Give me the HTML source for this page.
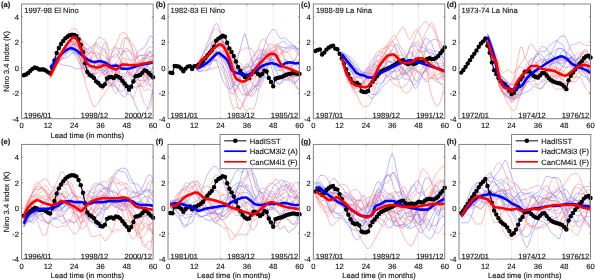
<!DOCTYPE html>
<html><head><meta charset="utf-8"><style>html,body{margin:0;padding:0;background:#fff;width:595px;height:280px;overflow:hidden}svg{display:block;will-change:transform;text-rendering:geometricPrecision}</style></head><body>
<svg width="595" height="280" viewBox="0 0 595 280">
<rect width="595" height="280" fill="#fff"/>
<clipPath id="cpa"><rect x="21.60" y="4.00" width="131.50" height="114.70"/></clipPath>
<clipPath id="cpb"><rect x="168.00" y="4.00" width="131.50" height="114.70"/></clipPath>
<clipPath id="cpc"><rect x="313.30" y="4.00" width="131.50" height="114.70"/></clipPath>
<clipPath id="cpd"><rect x="459.00" y="4.00" width="131.50" height="114.70"/></clipPath>
<clipPath id="cpe"><rect x="21.60" y="144.40" width="131.50" height="114.70"/></clipPath>
<clipPath id="cpf"><rect x="168.00" y="144.40" width="131.50" height="114.70"/></clipPath>
<clipPath id="cpg"><rect x="313.30" y="144.40" width="131.50" height="114.70"/></clipPath>
<clipPath id="cph"><rect x="459.00" y="144.40" width="131.50" height="114.70"/></clipPath>
<g clip-path="url(#cpa)"><line x1="47.90" y1="4.00" x2="47.90" y2="118.70" stroke="#e4e4e4" stroke-width="0.6"/><line x1="74.20" y1="4.00" x2="74.20" y2="118.70" stroke="#e4e4e4" stroke-width="0.6"/><line x1="100.50" y1="4.00" x2="100.50" y2="118.70" stroke="#e4e4e4" stroke-width="0.6"/><line x1="126.80" y1="4.00" x2="126.80" y2="118.70" stroke="#e4e4e4" stroke-width="0.6"/><path d="M50.09,68.20 L52.28,67.10 L54.48,65.62 L56.67,63.99 L58.86,62.00 L61.05,59.93 L63.24,57.79 L65.43,55.21 L67.62,51.81 L69.82,48.10 L72.01,45.03 L74.20,42.50 L76.39,43.24 L78.58,48.18 L80.78,50.74 L82.97,50.55 L85.16,56.03 L87.35,66.73 L89.54,72.90 L91.73,76.37 L93.93,79.95 L96.12,80.11 L98.31,77.58 L100.50,75.07 L102.69,72.84 L104.88,70.18 L107.08,69.04 L109.27,68.28 L111.46,66.44 L113.65,64.22 L115.84,63.40 L118.03,64.87 L120.22,64.71 L122.42,64.68 L124.61,67.69 L126.80,70.42 L128.99,73.14 L131.18,75.95 L133.38,77.09 L135.57,77.76 L137.76,79.95 L139.95,80.62 L142.14,79.86 L144.33,81.02 L146.53,80.67 L148.72,76.87 L150.91,70.65 L153.10,67.18" fill="none" stroke="#7d7dff" stroke-width="0.6" stroke-opacity="0.9"/><path d="M50.09,67.73 L52.28,64.79 L54.48,61.18 L56.67,58.01 L58.86,54.46 L61.05,51.05 L63.24,48.69 L65.43,47.10 L67.62,46.98 L69.82,47.42 L72.01,49.05 L74.20,51.66 L76.39,53.89 L78.58,55.10 L80.78,58.76 L82.97,65.28 L85.16,70.81 L87.35,74.78 L89.54,77.36 L91.73,78.17 L93.93,77.03 L96.12,73.73 L98.31,70.81 L100.50,70.49 L102.69,69.92 L104.88,70.74 L107.08,73.26 L109.27,77.63 L111.46,83.54 L113.65,86.20 L115.84,86.76 L118.03,88.69 L120.22,90.96 L122.42,91.27 L124.61,88.83 L126.80,85.90 L128.99,87.22 L131.18,88.80 L133.38,88.24 L135.57,86.64 L137.76,86.24 L139.95,86.27 L142.14,84.52 L144.33,81.83 L146.53,78.17 L148.72,73.85 L150.91,72.37 L153.10,72.72" fill="none" stroke="#7d7dff" stroke-width="0.6" stroke-opacity="0.9"/><path d="M50.09,66.47 L52.28,64.57 L54.48,61.80 L56.67,59.47 L58.86,56.58 L61.05,52.83 L63.24,49.55 L65.43,46.62 L67.62,43.99 L69.82,41.89 L72.01,41.91 L74.20,43.58 L76.39,45.21 L78.58,46.70 L80.78,46.54 L82.97,47.29 L85.16,49.37 L87.35,51.39 L89.54,55.23 L91.73,59.89 L93.93,62.54 L96.12,63.49 L98.31,65.13 L100.50,66.36 L102.69,68.45 L104.88,71.85 L107.08,72.75 L109.27,74.73 L111.46,77.24 L113.65,76.70 L115.84,72.28 L118.03,66.28 L120.22,63.93 L122.42,64.89 L124.61,66.65 L126.80,69.52 L128.99,74.77 L131.18,79.30 L133.38,80.08 L135.57,81.37 L137.76,79.28 L139.95,76.32 L142.14,76.83 L144.33,73.77 L146.53,66.71 L148.72,61.02 L150.91,58.10 L153.10,54.57" fill="none" stroke="#7d7dff" stroke-width="0.6" stroke-opacity="0.9"/><path d="M50.09,67.64 L52.28,65.88 L54.48,63.43 L56.67,61.03 L58.86,57.88 L61.05,54.33 L63.24,50.70 L65.43,47.79 L67.62,46.72 L69.82,45.87 L72.01,45.14 L74.20,44.25 L76.39,42.07 L78.58,41.21 L80.78,43.25 L82.97,46.30 L85.16,48.36 L87.35,49.08 L89.54,50.63 L91.73,53.01 L93.93,53.85 L96.12,51.78 L98.31,53.18 L100.50,58.32 L102.69,63.20 L104.88,68.53 L107.08,74.33 L109.27,82.84 L111.46,86.13 L113.65,81.50 L115.84,77.25 L118.03,75.91 L120.22,76.40 L122.42,80.03 L124.61,81.94 L126.80,83.26 L128.99,89.41 L131.18,94.96 L133.38,99.13 L135.57,105.46 L137.76,110.37 L139.95,113.36 L142.14,114.88 L144.33,113.83 L146.53,110.93 L148.72,105.72 L150.91,98.14 L153.10,88.43" fill="none" stroke="#7d7dff" stroke-width="0.6" stroke-opacity="0.9"/><path d="M50.09,66.84 L52.28,64.81 L54.48,62.22 L56.67,59.66 L58.86,56.43 L61.05,53.07 L63.24,50.71 L65.43,49.00 L67.62,48.31 L69.82,49.12 L72.01,51.52 L74.20,53.85 L76.39,57.03 L78.58,61.89 L80.78,65.60 L82.97,68.22 L85.16,71.20 L87.35,72.85 L89.54,72.88 L91.73,70.71 L93.93,65.39 L96.12,61.96 L98.31,63.56 L100.50,65.85 L102.69,66.55 L104.88,67.93 L107.08,69.04 L109.27,71.07 L111.46,70.92 L113.65,69.11 L115.84,69.76 L118.03,71.12 L120.22,73.34 L122.42,75.69 L124.61,80.32 L126.80,84.64 L128.99,85.97 L131.18,84.81 L133.38,78.85 L135.57,72.38 L137.76,68.15 L139.95,67.21 L142.14,67.82 L144.33,67.42 L146.53,66.65 L148.72,66.90 L150.91,70.67 L153.10,73.55" fill="none" stroke="#7d7dff" stroke-width="0.6" stroke-opacity="0.9"/><path d="M50.09,69.00 L52.28,66.77 L54.48,64.54 L56.67,63.01 L58.86,61.48 L61.05,59.94 L63.24,58.64 L65.43,58.17 L67.62,57.18 L69.82,54.58 L72.01,53.18 L74.20,53.17 L76.39,54.14 L78.58,56.45 L80.78,60.04 L82.97,65.54 L85.16,70.56 L87.35,68.87 L89.54,66.81 L91.73,67.57 L93.93,65.13 L96.12,61.95 L98.31,59.63 L100.50,58.77 L102.69,60.91 L104.88,62.02 L107.08,62.76 L109.27,63.88 L111.46,64.89 L113.65,67.82 L115.84,72.15 L118.03,75.25 L120.22,78.87 L122.42,85.17 L124.61,87.49 L126.80,87.61 L128.99,87.39 L131.18,84.49 L133.38,78.99 L135.57,73.76 L137.76,70.17 L139.95,68.36 L142.14,66.63 L144.33,60.48 L146.53,54.65 L148.72,53.14 L150.91,51.48 L153.10,51.13" fill="none" stroke="#7d7dff" stroke-width="0.6" stroke-opacity="0.9"/><path d="M50.09,67.20 L52.28,64.99 L54.48,62.40 L56.67,59.52 L58.86,57.33 L61.05,56.11 L63.24,53.73 L65.43,51.06 L67.62,49.92 L69.82,47.45 L72.01,45.73 L74.20,47.52 L76.39,50.92 L78.58,54.03 L80.78,56.38 L82.97,58.18 L85.16,63.99 L87.35,71.29 L89.54,75.36 L91.73,77.68 L93.93,75.00 L96.12,69.39 L98.31,64.30 L100.50,64.10 L102.69,63.95 L104.88,61.80 L107.08,59.36 L109.27,57.31 L111.46,54.60 L113.65,50.13 L115.84,47.68 L118.03,50.49 L120.22,54.78 L122.42,54.46 L124.61,49.82 L126.80,47.76 L128.99,50.23 L131.18,52.30 L133.38,54.98 L135.57,57.88 L137.76,56.96 L139.95,55.13 L142.14,55.53 L144.33,55.18 L146.53,55.08 L148.72,56.32 L150.91,56.50 L153.10,54.98" fill="none" stroke="#7d7dff" stroke-width="0.6" stroke-opacity="0.9"/><path d="M50.09,66.00 L52.28,62.37 L54.48,57.25 L56.67,51.35 L58.86,45.30 L61.05,40.57 L63.24,38.31 L65.43,36.76 L67.62,37.34 L69.82,39.56 L72.01,42.97 L74.20,45.14 L76.39,46.08 L78.58,48.03 L80.78,48.90 L82.97,47.95 L85.16,49.27 L87.35,49.36 L89.54,48.20 L91.73,47.21 L93.93,44.40 L96.12,42.85 L98.31,45.32 L100.50,47.95 L102.69,48.11 L104.88,48.89 L107.08,54.16 L109.27,61.43 L111.46,65.23 L113.65,66.88 L115.84,73.65 L118.03,81.25 L120.22,81.99 L122.42,80.24 L124.61,75.94 L126.80,72.48 L128.99,70.95 L131.18,69.28 L133.38,66.00 L135.57,58.91 L137.76,51.87 L139.95,49.85 L142.14,48.64 L144.33,47.23 L146.53,44.10 L148.72,38.43 L150.91,35.57 L153.10,38.45" fill="none" stroke="#7d7dff" stroke-width="0.6" stroke-opacity="0.9"/><path d="M50.09,66.23 L52.28,64.69 L54.48,62.85 L56.67,62.35 L58.86,63.10 L61.05,64.32 L63.24,65.06 L65.43,65.43 L67.62,65.69 L69.82,66.09 L72.01,66.83 L74.20,68.05 L76.39,69.31 L78.58,68.59 L80.78,68.06 L82.97,68.22 L85.16,65.81 L87.35,63.13 L89.54,64.81 L91.73,67.45 L93.93,68.31 L96.12,67.45 L98.31,66.91 L100.50,68.21 L102.69,66.48 L104.88,64.45 L107.08,62.83 L109.27,60.25 L111.46,58.20 L113.65,55.04 L115.84,53.84 L118.03,55.36 L120.22,60.14 L122.42,66.32 L124.61,69.56 L126.80,69.70 L128.99,69.35 L131.18,68.37 L133.38,69.27 L135.57,68.10 L137.76,63.34 L139.95,63.15 L142.14,65.30 L144.33,66.57 L146.53,72.56 L148.72,82.03 L150.91,87.09 L153.10,85.22" fill="none" stroke="#7d7dff" stroke-width="0.6" stroke-opacity="0.9"/><path d="M50.09,75.19 L52.28,71.06 L54.48,66.36 L56.67,62.21 L58.86,58.45 L61.05,54.87 L63.24,51.04 L65.43,48.22 L67.62,44.83 L69.82,41.08 L72.01,38.15 L74.20,36.85 L76.39,37.64 L78.58,38.89 L80.78,42.22 L82.97,46.07 L85.16,52.97 L87.35,59.84 L89.54,64.67 L91.73,68.02 L93.93,70.33 L96.12,69.83 L98.31,67.03 L100.50,63.53 L102.69,63.22 L104.88,63.94 L107.08,62.44 L109.27,59.30 L111.46,56.44 L113.65,57.25 L115.84,57.48 L118.03,55.33 L120.22,47.96 L122.42,40.79 L124.61,37.64 L126.80,38.06 L128.99,39.83 L131.18,41.51 L133.38,44.53 L135.57,49.13 L137.76,56.99 L139.95,65.74 L142.14,73.92 L144.33,79.19 L146.53,84.11 L148.72,85.55 L150.91,84.36 L153.10,80.87" fill="none" stroke="#ff7d7d" stroke-width="0.6" stroke-opacity="0.9"/><path d="M50.09,75.48 L52.28,71.61 L54.48,67.55 L56.67,63.34 L58.86,58.77 L61.05,54.19 L63.24,49.82 L65.43,46.67 L67.62,44.66 L69.82,42.71 L72.01,40.96 L74.20,40.72 L76.39,44.80 L78.58,48.51 L80.78,50.56 L82.97,50.10 L85.16,51.06 L87.35,52.72 L89.54,53.68 L91.73,50.56 L93.93,45.20 L96.12,45.13 L98.31,48.86 L100.50,50.68 L102.69,50.49 L104.88,51.20 L107.08,57.89 L109.27,64.80 L111.46,68.84 L113.65,72.53 L115.84,75.47 L118.03,73.62 L120.22,65.83 L122.42,53.51 L124.61,40.47 L126.80,37.19 L128.99,41.72 L131.18,45.08 L133.38,53.47 L135.57,65.22 L137.76,75.83 L139.95,83.15 L142.14,87.37 L144.33,90.77 L146.53,89.67 L148.72,88.54 L150.91,90.67 L153.10,90.56" fill="none" stroke="#ff7d7d" stroke-width="0.6" stroke-opacity="0.9"/><path d="M50.09,78.07 L52.28,73.54 L54.48,68.53 L56.67,63.70 L58.86,59.00 L61.05,54.60 L63.24,50.25 L65.43,47.17 L67.62,44.72 L69.82,41.61 L72.01,37.66 L74.20,35.06 L76.39,34.73 L78.58,36.58 L80.78,39.31 L82.97,41.19 L85.16,42.52 L87.35,44.23 L89.54,47.22 L91.73,48.50 L93.93,51.19 L96.12,55.31 L98.31,59.22 L100.50,62.16 L102.69,65.21 L104.88,68.34 L107.08,71.32 L109.27,72.50 L111.46,71.29 L113.65,69.83 L115.84,71.72 L118.03,77.29 L120.22,80.23 L122.42,83.31 L124.61,90.02 L126.80,93.69 L128.99,94.15 L131.18,96.74 L133.38,98.34 L135.57,92.55 L137.76,86.36 L139.95,83.90 L142.14,81.42 L144.33,76.35 L146.53,73.39 L148.72,73.68 L150.91,73.21 L153.10,75.26" fill="none" stroke="#ff7d7d" stroke-width="0.6" stroke-opacity="0.9"/><path d="M50.09,78.59 L52.28,74.17 L54.48,69.21 L56.67,64.17 L58.86,59.14 L61.05,54.76 L63.24,50.66 L65.43,48.13 L67.62,46.85 L69.82,45.50 L72.01,43.54 L74.20,43.27 L76.39,48.62 L78.58,54.93 L80.78,61.93 L82.97,66.51 L85.16,69.06 L87.35,68.79 L89.54,64.16 L91.73,57.23 L93.93,49.88 L96.12,41.73 L98.31,37.59 L100.50,37.51 L102.69,39.20 L104.88,39.80 L107.08,43.97 L109.27,57.24 L111.46,70.84 L113.65,76.00 L115.84,76.96 L118.03,80.01 L120.22,80.94 L122.42,81.10 L124.61,81.05 L126.80,76.25 L128.99,74.63 L131.18,74.47 L133.38,68.71 L135.57,62.86 L137.76,63.25 L139.95,65.88 L142.14,65.68 L144.33,68.93 L146.53,76.82 L148.72,80.48 L150.91,78.58 L153.10,74.37" fill="none" stroke="#ff7d7d" stroke-width="0.6" stroke-opacity="0.9"/><path d="M50.09,74.59 L52.28,70.81 L54.48,67.11 L56.67,64.29 L58.86,61.54 L61.05,58.76 L63.24,55.81 L65.43,52.93 L67.62,49.83 L69.82,47.42 L72.01,45.53 L74.20,45.34 L76.39,51.12 L78.58,58.21 L80.78,66.94 L82.97,74.06 L85.16,78.24 L87.35,76.71 L89.54,76.12 L91.73,75.62 L93.93,71.14 L96.12,67.52 L98.31,63.63 L100.50,55.73 L102.69,46.21 L104.88,42.04 L107.08,45.70 L109.27,50.21 L111.46,49.68 L113.65,46.84 L115.84,46.75 L118.03,48.87 L120.22,48.15 L122.42,48.62 L124.61,52.07 L126.80,54.81 L128.99,58.68 L131.18,60.62 L133.38,59.52 L135.57,60.94 L137.76,65.66 L139.95,69.06 L142.14,64.38 L144.33,56.24 L146.53,49.90 L148.72,47.02 L150.91,47.18 L153.10,47.21" fill="none" stroke="#ff7d7d" stroke-width="0.6" stroke-opacity="0.9"/><path d="M50.09,77.39 L52.28,72.91 L54.48,67.39 L56.67,61.12 L58.86,53.97 L61.05,47.21 L63.24,42.47 L65.43,38.30 L67.62,33.89 L69.82,30.87 L72.01,29.08 L74.20,28.57 L76.39,29.40 L78.58,33.00 L80.78,37.52 L82.97,43.45 L85.16,53.00 L87.35,59.27 L89.54,60.82 L91.73,60.22 L93.93,62.50 L96.12,68.11 L98.31,70.24 L100.50,70.63 L102.69,71.81 L104.88,74.14 L107.08,79.04 L109.27,84.77 L111.46,86.99 L113.65,86.29 L115.84,84.42 L118.03,78.61 L120.22,69.73 L122.42,63.22 L124.61,63.95 L126.80,66.36 L128.99,65.54 L131.18,66.69 L133.38,71.67 L135.57,75.59 L137.76,71.35 L139.95,62.72 L142.14,59.41 L144.33,60.47 L146.53,58.26 L148.72,53.08 L150.91,53.35 L153.10,57.03" fill="none" stroke="#ff7d7d" stroke-width="0.6" stroke-opacity="0.9"/><path d="M50.09,77.19 L52.28,73.41 L54.48,69.08 L56.67,65.05 L58.86,60.90 L61.05,56.58 L63.24,52.14 L65.43,48.27 L67.62,44.60 L69.82,40.69 L72.01,36.27 L74.20,35.36 L76.39,38.62 L78.58,44.02 L80.78,50.84 L82.97,54.35 L85.16,56.58 L87.35,59.99 L89.54,63.06 L91.73,63.42 L93.93,63.24 L96.12,63.22 L98.31,65.56 L100.50,68.15 L102.69,70.12 L104.88,75.01 L107.08,79.92 L109.27,81.71 L111.46,84.96 L113.65,90.82 L115.84,93.83 L118.03,89.86 L120.22,83.08 L122.42,74.86 L124.61,72.39 L126.80,74.03 L128.99,72.26 L131.18,72.79 L133.38,78.95 L135.57,82.38 L137.76,84.11 L139.95,85.76 L142.14,86.24 L144.33,86.82 L146.53,84.77 L148.72,80.09 L150.91,78.79 L153.10,79.25" fill="none" stroke="#ff7d7d" stroke-width="0.6" stroke-opacity="0.9"/><path d="M50.09,77.28 L52.28,73.69 L54.48,69.62 L56.67,65.40 L58.86,60.45 L61.05,55.46 L63.24,50.95 L65.43,47.11 L67.62,44.10 L69.82,41.80 L72.01,38.95 L74.20,36.86 L76.39,35.99 L78.58,35.33 L80.78,39.23 L82.97,42.65 L85.16,47.77 L87.35,55.47 L89.54,63.06 L91.73,70.71 L93.93,78.49 L96.12,84.45 L98.31,85.09 L100.50,86.97 L102.69,90.20 L104.88,85.33 L107.08,77.56 L109.27,74.92 L111.46,73.55 L113.65,69.99 L115.84,63.46 L118.03,60.12 L120.22,56.24 L122.42,50.90 L124.61,51.13 L126.80,51.45 L128.99,50.35 L131.18,54.20 L133.38,60.46 L135.57,60.10 L137.76,56.70 L139.95,55.70 L142.14,55.63 L144.33,55.50 L146.53,52.70 L148.72,50.98 L150.91,52.41 L153.10,54.97" fill="none" stroke="#ff7d7d" stroke-width="0.6" stroke-opacity="0.9"/><path d="M50.09,75.44 L52.28,70.91 L54.48,66.02 L56.67,61.75 L58.86,58.14 L61.05,54.23 L63.24,49.35 L65.43,45.57 L67.62,43.01 L69.82,41.57 L72.01,41.23 L74.20,41.75 L76.39,44.87 L78.58,47.58 L80.78,52.05 L82.97,54.61 L85.16,55.59 L87.35,54.77 L89.54,52.73 L91.73,51.88 L93.93,52.31 L96.12,56.34 L98.31,62.44 L100.50,66.76 L102.69,73.17 L104.88,77.53 L107.08,81.09 L109.27,86.14 L111.46,84.91 L113.65,83.67 L115.84,79.49 L118.03,68.38 L120.22,60.85 L122.42,58.37 L124.61,57.80 L126.80,58.74 L128.99,59.58 L131.18,61.19 L133.38,64.27 L135.57,64.51 L137.76,62.78 L139.95,62.15 L142.14,67.22 L144.33,75.49 L146.53,77.91 L148.72,76.60 L150.91,78.39 L153.10,79.28" fill="none" stroke="#ff7d7d" stroke-width="0.6" stroke-opacity="0.9"/><path d="M50.09,74.15 L52.28,69.64 L54.48,64.82 L56.67,60.41 L58.86,55.84 L61.05,51.63 L63.24,48.68 L65.43,45.75 L67.62,42.58 L69.82,40.54 L72.01,38.73 L74.20,37.94 L76.39,40.04 L78.58,45.66 L80.78,62.74 L82.97,74.09 L85.16,82.48 L87.35,89.41 L89.54,95.76 L91.73,103.08 L93.93,107.23 L96.12,105.87 L98.31,102.82 L100.50,99.58 L102.69,96.50 L104.88,93.11 L107.08,89.78 L109.27,86.84 L111.46,84.30 L113.65,81.94 L115.84,79.81 L118.03,75.14 L120.22,68.68 L122.42,61.76 L124.61,58.86 L126.80,61.54 L128.99,68.02 L131.18,73.87 L133.38,75.75 L135.57,76.01 L137.76,75.36 L139.95,75.10 L142.14,75.16 L144.33,75.37 L146.53,75.01 L148.72,72.88 L150.91,72.07 L153.10,70.81" fill="none" stroke="#ff7d7d" stroke-width="0.6" stroke-opacity="0.9"/><path d="M50.09,74.65 L52.28,69.70 L54.48,64.60 L56.67,60.33 L58.86,56.08 L61.05,52.13 L63.24,49.59 L65.43,47.76 L67.62,45.56 L69.82,43.70 L72.01,42.04 L74.20,41.08 L76.39,44.08 L78.58,49.26 L80.78,56.14 L82.97,60.60 L85.16,61.53 L87.35,59.43 L89.54,58.89 L91.73,58.33 L93.93,56.79 L96.12,55.23 L98.31,53.69 L100.50,53.04 L102.69,55.02 L104.88,56.42 L107.08,58.51 L109.27,62.02 L111.46,64.37 L113.65,65.05 L115.84,66.90 L118.03,68.61 L120.22,67.93 L122.42,65.59 L124.61,67.72 L126.80,70.27 L128.99,72.82 L131.18,75.37 L133.38,77.66 L135.57,79.95 L137.76,83.02 L139.95,89.15 L142.14,97.34 L144.33,103.41 L146.53,106.86 L148.72,108.50 L150.91,107.63 L153.10,88.97" fill="none" stroke="#ff7d7d" stroke-width="0.6" stroke-opacity="0.9"/><path d="M50.09,67.35 L52.28,65.20 L54.48,62.79 L56.67,60.66 L58.86,57.88 L61.05,55.45 L63.24,54.28 L65.43,53.30 L67.62,52.42 L69.82,51.20 L72.01,50.88 L74.20,52.22 L76.39,53.15 L78.58,54.05 L80.78,55.84 L82.97,57.50 L85.16,59.79 L87.35,62.58 L89.54,64.78 L91.73,67.02 L93.93,69.08 L96.12,69.11 L98.31,69.12 L100.50,68.85 L102.69,67.60 L104.88,64.20 L107.08,67.66 L109.27,73.40 L111.46,78.54 L113.65,83.02 L115.84,86.96 L118.03,90.42 L120.22,93.21 L122.42,95.72 L124.61,97.03 L126.80,94.79 L128.99,90.00 L131.18,85.56 L133.38,82.35 L135.57,79.34 L137.76,76.57 L139.95,65.29 L142.14,57.57 L144.33,57.73 L146.53,58.07 L148.72,59.00 L150.91,60.64 L153.10,63.55" fill="none" stroke="#7d7dff" stroke-width="0.6" stroke-opacity="0.9"/><path d="M50.09,77.37 L52.28,73.84 L54.48,69.67 L56.67,65.54 L58.86,60.94 L61.05,56.09 L63.24,51.34 L65.43,47.41 L67.62,44.18 L69.82,41.66 L72.01,38.65 L74.20,37.03 L76.39,39.56 L78.58,45.08 L80.78,53.79 L82.97,63.33 L85.16,70.49 L87.35,73.46 L89.54,74.40 L91.73,73.79 L93.93,73.10 L96.12,73.19 L98.31,73.18 L100.50,72.46 L102.69,72.94 L104.88,74.52 L107.08,73.43 L109.27,64.74 L111.46,53.28 L113.65,49.03 L115.84,44.78 L118.03,39.59 L120.22,34.40 L122.42,32.04 L124.61,32.81 L126.80,34.59 L128.99,39.30 L131.18,46.63 L133.38,52.43 L135.57,55.95 L137.76,59.04 L139.95,61.37 L142.14,62.18 L144.33,58.44 L146.53,55.70 L148.72,55.71 L150.91,59.47 L153.10,60.44" fill="none" stroke="#ff7d7d" stroke-width="0.6" stroke-opacity="0.9"/><path d="M23.79,75.24 L25.98,74.43 L28.18,73.01 L30.37,70.72 L32.56,68.86 L34.75,67.57 L36.94,68.15 L39.13,69.49 L41.33,69.51 L43.52,69.52 L45.71,70.55 L47.90,72.10 L50.09,73.22 L52.28,67.88 L54.48,60.55 L56.67,53.07 L58.86,47.97 L61.05,44.04 L63.24,40.90 L65.43,38.26 L67.62,36.49 L69.82,35.28 L72.01,34.71 L74.20,35.07 L76.39,36.02 L78.58,39.54 L80.78,44.75 L82.97,52.31 L85.16,63.13 L87.35,71.99 L89.54,74.70 L91.73,76.01 L93.93,77.90 L96.12,81.35 L98.31,83.02 L100.50,85.56 L102.69,86.20 L104.88,84.29 L107.08,78.47 L109.27,77.27 L111.46,76.93 L113.65,78.12 L115.84,76.01 L118.03,76.60 L120.22,78.02 L122.42,80.85 L124.61,83.55 L126.80,86.21 L128.99,89.64 L131.18,86.64 L133.38,81.53 L135.57,76.26 L137.76,75.85 L139.95,75.00 L142.14,72.86 L144.33,70.34 L146.53,70.89 L148.72,73.03 L150.91,75.20 L153.10,77.28" fill="none" stroke="#111" stroke-width="1.2"/></g>
<g fill="#000"><circle cx="23.79" cy="75.24" r="2.2"/><circle cx="25.98" cy="74.43" r="2.2"/><circle cx="28.18" cy="73.01" r="2.2"/><circle cx="30.37" cy="70.72" r="2.2"/><circle cx="32.56" cy="68.86" r="2.2"/><circle cx="34.75" cy="67.57" r="2.2"/><circle cx="36.94" cy="68.15" r="2.2"/><circle cx="39.13" cy="69.49" r="2.2"/><circle cx="41.33" cy="69.51" r="2.2"/><circle cx="43.52" cy="69.52" r="2.2"/><circle cx="45.71" cy="70.55" r="2.2"/><circle cx="47.90" cy="72.10" r="2.2"/><circle cx="50.09" cy="73.22" r="2.2"/><circle cx="52.28" cy="67.88" r="2.2"/><circle cx="54.48" cy="60.55" r="2.2"/><circle cx="56.67" cy="53.07" r="2.2"/><circle cx="58.86" cy="47.97" r="2.2"/><circle cx="61.05" cy="44.04" r="2.2"/><circle cx="63.24" cy="40.90" r="2.2"/><circle cx="65.43" cy="38.26" r="2.2"/><circle cx="67.62" cy="36.49" r="2.2"/><circle cx="69.82" cy="35.28" r="2.2"/><circle cx="72.01" cy="34.71" r="2.2"/><circle cx="74.20" cy="35.07" r="2.2"/><circle cx="76.39" cy="36.02" r="2.2"/><circle cx="78.58" cy="39.54" r="2.2"/><circle cx="80.78" cy="44.75" r="2.2"/><circle cx="82.97" cy="52.31" r="2.2"/><circle cx="85.16" cy="63.13" r="2.2"/><circle cx="87.35" cy="71.99" r="2.2"/><circle cx="89.54" cy="74.70" r="2.2"/><circle cx="91.73" cy="76.01" r="2.2"/><circle cx="93.93" cy="77.90" r="2.2"/><circle cx="96.12" cy="81.35" r="2.2"/><circle cx="98.31" cy="83.02" r="2.2"/><circle cx="100.50" cy="85.56" r="2.2"/><circle cx="102.69" cy="86.20" r="2.2"/><circle cx="104.88" cy="84.29" r="2.2"/><circle cx="107.08" cy="78.47" r="2.2"/><circle cx="109.27" cy="77.27" r="2.2"/><circle cx="111.46" cy="76.93" r="2.2"/><circle cx="113.65" cy="78.12" r="2.2"/><circle cx="115.84" cy="76.01" r="2.2"/><circle cx="118.03" cy="76.60" r="2.2"/><circle cx="120.22" cy="78.02" r="2.2"/><circle cx="122.42" cy="80.85" r="2.2"/><circle cx="124.61" cy="83.55" r="2.2"/><circle cx="126.80" cy="86.21" r="2.2"/><circle cx="128.99" cy="89.64" r="2.2"/><circle cx="131.18" cy="86.64" r="2.2"/><circle cx="133.38" cy="81.53" r="2.2"/><circle cx="135.57" cy="76.26" r="2.2"/><circle cx="137.76" cy="75.85" r="2.2"/><circle cx="139.95" cy="75.00" r="2.2"/><circle cx="142.14" cy="72.86" r="2.2"/><circle cx="144.33" cy="70.34" r="2.2"/><circle cx="146.53" cy="70.89" r="2.2"/><circle cx="148.72" cy="73.03" r="2.2"/><circle cx="150.91" cy="75.20" r="2.2"/><circle cx="153.10" cy="77.28" r="2.2"/></g>
<g clip-path="url(#cpa)"><path d="M50.09,67.33 L51.19,66.42 L52.28,65.23 L53.38,63.88 L54.48,62.46 L55.57,61.10 L56.67,59.78 L57.76,58.38 L58.86,56.97 L59.95,55.62 L61.05,54.39 L62.15,53.34 L63.24,52.35 L64.34,51.44 L65.43,50.65 L66.53,50.02 L67.62,49.42 L68.72,48.86 L69.82,48.43 L70.91,48.23 L72.01,48.32 L73.10,48.67 L74.20,49.19 L75.30,49.78 L76.39,50.39 L77.49,51.16 L78.58,52.06 L79.68,53.02 L80.78,53.96 L81.87,54.90 L82.97,55.89 L84.06,56.88 L85.16,57.81 L86.25,58.64 L87.35,59.33 L88.45,59.93 L89.54,60.47 L90.64,60.93 L91.73,61.41 L92.83,61.82 L93.93,61.99 L95.02,61.89 L96.12,61.66 L97.21,61.41 L98.31,61.24 L99.40,61.24 L100.50,61.37 L101.60,61.58 L102.69,61.85 L103.79,62.16 L104.88,62.50 L105.98,63.02 L107.08,63.80 L108.17,64.67 L109.27,65.47 L110.36,66.03 L111.46,66.19 L112.55,66.09 L113.65,65.90 L114.75,65.70 L115.84,65.57 L116.94,65.65 L118.03,66.15 L119.13,66.90 L120.22,67.71 L121.32,68.39 L122.42,68.73 L123.51,68.74 L124.61,68.74 L125.70,68.74 L126.80,68.74 L127.90,68.72 L128.99,68.55 L130.09,68.25 L131.18,67.88 L132.28,67.53 L133.38,67.20 L134.47,66.83 L135.57,66.44 L136.66,66.05 L137.76,65.67 L138.85,65.33 L139.95,65.05 L141.05,64.82 L142.14,64.62 L143.24,64.45 L144.33,64.28 L145.43,64.11 L146.53,63.93 L147.62,63.73 L148.72,63.50 L149.81,63.27 L150.91,63.02 L152.00,62.76 L153.10,62.50" fill="none" stroke="#0000ff" stroke-width="2.6" stroke-linejoin="round"/><path d="M50.09,75.80 L51.19,73.89 L52.28,71.67 L53.38,69.33 L54.48,67.02 L55.57,64.81 L56.67,62.57 L57.76,60.34 L58.86,58.16 L59.95,56.06 L61.05,53.99 L62.15,51.96 L63.24,50.03 L64.34,48.22 L65.43,46.52 L66.53,44.87 L67.62,43.34 L68.72,41.97 L69.82,40.71 L70.91,39.39 L72.01,38.20 L73.10,37.37 L74.20,37.16 L75.30,37.81 L76.39,39.12 L77.49,40.78 L78.58,42.72 L79.68,45.54 L80.78,48.75 L81.87,51.72 L82.97,54.67 L84.06,57.58 L85.16,60.06 L86.25,61.88 L87.35,63.48 L88.45,64.76 L89.54,65.56 L90.64,65.96 L91.73,66.24 L92.83,66.50 L93.93,66.81 L95.02,67.11 L96.12,67.35 L97.21,67.46 L98.31,67.37 L99.40,67.05 L100.50,66.57 L101.60,66.04 L102.69,65.55 L103.79,65.19 L104.88,65.05 L105.98,65.25 L107.08,65.76 L108.17,66.41 L109.27,67.06 L110.36,67.55 L111.46,68.00 L112.55,68.45 L113.65,68.87 L114.75,69.19 L115.84,69.36 L116.94,69.23 L118.03,68.45 L119.13,67.28 L120.22,66.01 L121.32,64.96 L122.42,64.43 L123.51,64.43 L124.61,64.52 L125.70,64.64 L126.80,64.78 L127.90,64.91 L128.99,65.01 L130.09,65.05 L131.18,65.05 L132.28,65.05 L133.38,65.05 L134.47,65.05 L135.57,65.05 L136.66,65.04 L137.76,64.94 L138.85,64.72 L139.95,64.44 L141.05,64.14 L142.14,63.86 L143.24,63.64 L144.33,63.43 L145.43,63.22 L146.53,63.02 L147.62,62.82 L148.72,62.62 L149.81,62.42 L150.91,62.23 L152.00,62.04 L153.10,61.86" fill="none" stroke="#ff0000" stroke-width="2.6" stroke-linejoin="round"/></g>
<rect x="21.60" y="4.00" width="131.50" height="114.70" fill="none" stroke="#777" stroke-width="0.9"/>
<path d="M47.90,118.70v-1.3M47.90,4.00v1.3M74.20,118.70v-1.3M74.20,4.00v1.3M100.50,118.70v-1.3M100.50,4.00v1.3M126.80,118.70v-1.3M126.80,4.00v1.3M21.60,93.21h1.3M153.10,93.21h-1.3M21.60,67.72h1.3M153.10,67.72h-1.3M21.60,42.23h1.3M153.10,42.23h-1.3M21.60,16.74h1.3M153.10,16.74h-1.3" stroke="#777" stroke-width="0.8" fill="none"/>
<g font-family="Liberation Sans, sans-serif" font-size="7.6" fill="#1a1a1a" stroke="#1a1a1a" stroke-width="0.15"><text x="19.00" y="121.70" text-anchor="end">-4</text><text x="19.00" y="96.21" text-anchor="end">-2</text><text x="19.00" y="70.72" text-anchor="end">0</text><text x="19.00" y="45.23" text-anchor="end">2</text><text x="19.00" y="19.74" text-anchor="end">4</text><text x="21.60" y="128.30" text-anchor="middle">0</text><text x="47.90" y="128.30" text-anchor="middle">12</text><text x="74.20" y="128.30" text-anchor="middle">24</text><text x="100.50" y="128.30" text-anchor="middle">36</text><text x="126.80" y="128.30" text-anchor="middle">48</text><text x="153.10" y="128.30" text-anchor="middle">60</text><text x="87.35" y="137.50" text-anchor="middle">Lead time (in months)</text><text x="24.10" y="118.30">1996/01</text><text x="94.58" y="118.30" text-anchor="middle">1998/12</text><text x="151.90" y="118.30" text-anchor="end">2000/12</text><text x="24.20" y="12.70">1997-98 El Nino</text><text x="0" y="0" text-anchor="middle" transform="translate(8.6,61.35) rotate(-90)">Nino 3.4 index (K)</text></g>
<text x="0.90" y="6.80" font-family="Liberation Sans, sans-serif" font-size="7.6" font-weight="bold" fill="#1a1a1a" stroke="#1a1a1a" stroke-width="0.15">(a)</text>
<g clip-path="url(#cpb)"><line x1="194.30" y1="4.00" x2="194.30" y2="118.70" stroke="#e4e4e4" stroke-width="0.6"/><line x1="220.60" y1="4.00" x2="220.60" y2="118.70" stroke="#e4e4e4" stroke-width="0.6"/><line x1="246.90" y1="4.00" x2="246.90" y2="118.70" stroke="#e4e4e4" stroke-width="0.6"/><line x1="273.20" y1="4.00" x2="273.20" y2="118.70" stroke="#e4e4e4" stroke-width="0.6"/><path d="M196.49,66.19 L198.68,62.79 L200.88,59.46 L203.07,57.97 L205.26,57.23 L207.45,54.34 L209.64,51.06 L211.83,49.22 L214.03,47.89 L216.22,44.01 L218.41,45.87 L220.60,52.07 L222.79,56.65 L224.98,59.68 L227.18,62.59 L229.37,67.67 L231.56,76.57 L233.75,83.42 L235.94,85.98 L238.13,84.95 L240.32,82.41 L242.52,80.77 L244.71,80.22 L246.90,79.25 L249.09,74.66 L251.28,67.36 L253.48,60.82 L255.67,59.08 L257.86,58.95 L260.05,57.95 L262.24,58.81 L264.43,62.15 L266.62,63.70 L268.82,62.86 L271.01,65.68 L273.20,73.11 L275.39,79.46 L277.58,83.51 L279.77,84.44 L281.97,82.32 L284.16,80.16 L286.35,80.26 L288.54,79.96 L290.73,80.17 L292.93,81.72 L295.12,82.22 L297.31,79.57 L299.50,77.52" fill="none" stroke="#7d7dff" stroke-width="0.6" stroke-opacity="0.9"/><path d="M196.49,68.27 L198.68,66.47 L200.88,62.97 L203.07,60.35 L205.26,58.90 L207.45,58.70 L209.64,59.11 L211.83,56.93 L214.03,55.86 L216.22,55.41 L218.41,54.35 L220.60,55.76 L222.79,58.04 L224.98,62.96 L227.18,67.46 L229.37,70.48 L231.56,77.07 L233.75,82.76 L235.94,85.15 L238.13,87.05 L240.32,91.74 L242.52,95.02 L244.71,94.47 L246.90,93.72 L249.09,92.31 L251.28,88.06 L253.48,85.70 L255.67,86.23 L257.86,86.09 L260.05,82.74 L262.24,78.47 L264.43,76.80 L266.62,77.60 L268.82,79.07 L271.01,80.15 L273.20,80.78 L275.39,81.66 L277.58,82.74 L279.77,83.87 L281.97,81.98 L284.16,77.46 L286.35,74.68 L288.54,70.95 L290.73,66.89 L292.93,62.78 L295.12,59.94 L297.31,61.20 L299.50,61.22" fill="none" stroke="#7d7dff" stroke-width="0.6" stroke-opacity="0.9"/><path d="M196.49,68.65 L198.68,67.14 L200.88,64.06 L203.07,61.30 L205.26,58.95 L207.45,55.45 L209.64,49.98 L211.83,42.99 L214.03,41.15 L216.22,42.09 L218.41,43.40 L220.60,43.69 L222.79,42.05 L224.98,43.29 L227.18,46.36 L229.37,52.64 L231.56,61.69 L233.75,65.28 L235.94,68.88 L238.13,70.59 L240.32,69.94 L242.52,73.25 L244.71,78.34 L246.90,78.50 L249.09,76.52 L251.28,76.68 L253.48,76.05 L255.67,72.28 L257.86,67.23 L260.05,60.40 L262.24,53.10 L264.43,45.68 L266.62,38.70 L268.82,34.33 L271.01,31.47 L273.20,29.39 L275.39,30.13 L277.58,34.45 L279.77,38.23 L281.97,38.69 L284.16,37.55 L286.35,38.69 L288.54,41.62 L290.73,43.57 L292.93,44.48 L295.12,46.05 L297.31,48.97 L299.50,50.43" fill="none" stroke="#7d7dff" stroke-width="0.6" stroke-opacity="0.9"/><path d="M196.49,68.33 L198.68,68.09 L200.88,67.84 L203.07,67.22 L205.26,66.64 L207.45,65.63 L209.64,63.65 L211.83,58.02 L214.03,52.52 L216.22,50.72 L218.41,52.28 L220.60,56.91 L222.79,64.53 L224.98,73.63 L227.18,80.32 L229.37,87.02 L231.56,93.76 L233.75,93.65 L235.94,89.82 L238.13,84.65 L240.32,77.45 L242.52,70.70 L244.71,67.39 L246.90,66.52 L249.09,66.91 L251.28,66.74 L253.48,65.48 L255.67,64.27 L257.86,62.85 L260.05,58.22 L262.24,54.27 L264.43,54.16 L266.62,57.72 L268.82,60.28 L271.01,60.51 L273.20,60.12 L275.39,59.04 L277.58,57.99 L279.77,55.20 L281.97,52.36 L284.16,49.28 L286.35,48.22 L288.54,49.21 L290.73,47.85 L292.93,45.62 L295.12,47.43 L297.31,51.37 L299.50,54.73" fill="none" stroke="#7d7dff" stroke-width="0.6" stroke-opacity="0.9"/><path d="M196.49,69.92 L198.68,70.86 L200.88,70.87 L203.07,70.74 L205.26,70.90 L207.45,70.23 L209.64,67.29 L211.83,61.10 L214.03,56.81 L216.22,53.93 L218.41,51.85 L220.60,51.97 L222.79,54.41 L224.98,59.90 L227.18,62.42 L229.37,64.85 L231.56,72.50 L233.75,77.26 L235.94,80.02 L238.13,81.38 L240.32,81.78 L242.52,81.76 L244.71,82.82 L246.90,89.16 L249.09,95.48 L251.28,96.46 L253.48,95.17 L255.67,91.47 L257.86,84.53 L260.05,77.95 L262.24,72.52 L264.43,66.56 L266.62,60.79 L268.82,57.96 L271.01,59.39 L273.20,62.51 L275.39,65.22 L277.58,67.07 L279.77,67.58 L281.97,66.38 L284.16,63.95 L286.35,64.84 L288.54,64.88 L290.73,65.09 L292.93,68.49 L295.12,72.29 L297.31,72.50 L299.50,72.01" fill="none" stroke="#7d7dff" stroke-width="0.6" stroke-opacity="0.9"/><path d="M196.49,66.19 L198.68,64.80 L200.88,63.91 L203.07,64.66 L205.26,64.79 L207.45,64.01 L209.64,65.05 L211.83,62.61 L214.03,58.18 L216.22,55.22 L218.41,56.33 L220.60,57.56 L222.79,53.64 L224.98,50.84 L227.18,52.56 L229.37,56.74 L231.56,59.06 L233.75,57.90 L235.94,63.63 L238.13,71.80 L240.32,79.03 L242.52,87.09 L244.71,93.70 L246.90,95.83 L249.09,94.52 L251.28,91.07 L253.48,88.29 L255.67,86.63 L257.86,83.62 L260.05,80.18 L262.24,77.95 L264.43,73.42 L266.62,67.68 L268.82,63.33 L271.01,57.91 L273.20,53.69 L275.39,49.82 L277.58,45.00 L279.77,43.03 L281.97,41.96 L284.16,40.96 L286.35,43.80 L288.54,45.70 L290.73,45.79 L292.93,46.21 L295.12,46.91 L297.31,49.49 L299.50,51.58" fill="none" stroke="#7d7dff" stroke-width="0.6" stroke-opacity="0.9"/><path d="M196.49,70.40 L198.68,71.53 L200.88,71.52 L203.07,69.19 L205.26,64.49 L207.45,58.85 L209.64,52.44 L211.83,43.80 L214.03,39.53 L216.22,39.24 L218.41,37.90 L220.60,37.68 L222.79,41.47 L224.98,46.07 L227.18,50.52 L229.37,55.88 L231.56,61.27 L233.75,62.83 L235.94,64.63 L238.13,67.05 L240.32,67.30 L242.52,67.96 L244.71,70.17 L246.90,73.53 L249.09,78.31 L251.28,81.92 L253.48,84.84 L255.67,88.30 L257.86,89.90 L260.05,87.39 L262.24,82.96 L264.43,77.25 L266.62,70.29 L268.82,63.34 L271.01,56.71 L273.20,51.40 L275.39,49.44 L277.58,47.69 L279.77,46.07 L281.97,47.29 L284.16,47.67 L286.35,47.19 L288.54,47.34 L290.73,48.04 L292.93,48.18 L295.12,48.19 L297.31,48.19 L299.50,48.75" fill="none" stroke="#7d7dff" stroke-width="0.6" stroke-opacity="0.9"/><path d="M196.49,67.30 L198.68,66.40 L200.88,64.78 L203.07,63.73 L205.26,63.25 L207.45,61.61 L209.64,59.99 L211.83,59.59 L214.03,60.46 L216.22,60.21 L218.41,60.98 L220.60,63.69 L222.79,65.93 L224.98,68.64 L227.18,73.78 L229.37,80.69 L231.56,86.84 L233.75,86.14 L235.94,81.66 L238.13,78.83 L240.32,77.27 L242.52,76.07 L244.71,73.45 L246.90,71.36 L249.09,71.03 L251.28,69.11 L253.48,64.51 L255.67,60.87 L257.86,56.16 L260.05,51.14 L262.24,49.40 L264.43,50.25 L266.62,52.21 L268.82,55.00 L271.01,59.67 L273.20,65.46 L275.39,69.84 L277.58,70.70 L279.77,69.63 L281.97,68.09 L284.16,64.83 L286.35,62.87 L288.54,63.36 L290.73,62.68 L292.93,61.15 L295.12,59.38 L297.31,55.27 L299.50,52.19" fill="none" stroke="#7d7dff" stroke-width="0.6" stroke-opacity="0.9"/><path d="M196.49,67.80 L198.68,66.07 L200.88,63.98 L203.07,62.04 L205.26,60.71 L207.45,60.28 L209.64,58.01 L211.83,56.16 L214.03,57.89 L216.22,61.21 L218.41,67.19 L220.60,73.96 L222.79,79.92 L224.98,84.79 L227.18,87.95 L229.37,89.19 L231.56,88.61 L233.75,84.40 L235.94,79.00 L238.13,72.65 L240.32,69.75 L242.52,69.76 L244.71,66.87 L246.90,63.59 L249.09,65.52 L251.28,69.44 L253.48,73.08 L255.67,75.82 L257.86,74.76 L260.05,71.63 L262.24,68.47 L264.43,65.21 L266.62,63.44 L268.82,59.95 L271.01,57.65 L273.20,60.30 L275.39,64.24 L277.58,67.38 L279.77,71.01 L281.97,70.67 L284.16,67.58 L286.35,68.98 L288.54,72.94 L290.73,76.48 L292.93,81.39 L295.12,83.97 L297.31,81.39 L299.50,78.27" fill="none" stroke="#7d7dff" stroke-width="0.6" stroke-opacity="0.9"/><path d="M196.49,69.06 L198.68,66.89 L200.88,63.43 L203.07,62.18 L205.26,62.16 L207.45,62.25 L209.64,60.79 L211.83,59.66 L214.03,60.05 L216.22,59.76 L218.41,57.91 L220.60,54.67 L222.79,51.32 L224.98,50.93 L227.18,49.95 L229.37,49.05 L231.56,56.44 L233.75,67.15 L235.94,73.27 L238.13,75.64 L240.32,80.14 L242.52,85.35 L244.71,86.22 L246.90,84.93 L249.09,83.21 L251.28,79.61 L253.48,77.22 L255.67,75.77 L257.86,74.14 L260.05,70.10 L262.24,62.68 L264.43,59.00 L266.62,57.22 L268.82,53.04 L271.01,51.40 L273.20,51.57 L275.39,50.51 L277.58,52.15 L279.77,54.03 L281.97,53.50 L284.16,51.61 L286.35,50.70 L288.54,53.22 L290.73,56.78 L292.93,60.36 L295.12,64.71 L297.31,67.00 L299.50,68.40" fill="none" stroke="#ff7d7d" stroke-width="0.6" stroke-opacity="0.9"/><path d="M196.49,67.00 L198.68,63.70 L200.88,59.14 L203.07,56.79 L205.26,55.97 L207.45,54.43 L209.64,51.78 L211.83,49.60 L214.03,49.04 L216.22,51.29 L218.41,54.60 L220.60,58.10 L222.79,60.78 L224.98,63.14 L227.18,63.12 L229.37,60.22 L231.56,62.95 L233.75,64.15 L235.94,59.95 L238.13,53.18 L240.32,50.39 L242.52,49.54 L244.71,47.95 L246.90,48.02 L249.09,48.17 L251.28,48.35 L253.48,52.16 L255.67,55.94 L257.86,59.66 L260.05,64.45 L262.24,66.67 L264.43,68.02 L266.62,66.66 L268.82,63.04 L271.01,60.72 L273.20,60.07 L275.39,56.53 L277.58,57.85 L279.77,62.64 L281.97,64.66 L284.16,66.02 L286.35,67.48 L288.54,68.01 L290.73,67.53 L292.93,65.81 L295.12,65.05 L297.31,62.35 L299.50,59.17" fill="none" stroke="#ff7d7d" stroke-width="0.6" stroke-opacity="0.9"/><path d="M196.49,70.68 L198.68,70.26 L200.88,68.22 L203.07,67.14 L205.26,68.00 L207.45,69.61 L209.64,69.35 L211.83,68.89 L214.03,67.96 L216.22,67.60 L218.41,66.59 L220.60,66.70 L222.79,71.21 L224.98,77.36 L227.18,84.59 L229.37,93.42 L231.56,103.92 L233.75,109.31 L235.94,107.09 L238.13,108.05 L240.32,109.37 L242.52,104.77 L244.71,97.68 L246.90,92.03 L249.09,90.81 L251.28,90.51 L253.48,87.67 L255.67,85.36 L257.86,81.95 L260.05,75.60 L262.24,70.05 L264.43,64.85 L266.62,62.18 L268.82,60.43 L271.01,57.24 L273.20,54.67 L275.39,53.97 L277.58,56.00 L279.77,59.66 L281.97,65.11 L284.16,68.01 L286.35,68.17 L288.54,68.42 L290.73,68.08 L292.93,67.92 L295.12,69.13 L297.31,71.18 L299.50,74.48" fill="none" stroke="#ff7d7d" stroke-width="0.6" stroke-opacity="0.9"/><path d="M196.49,68.38 L198.68,66.30 L200.88,62.52 L203.07,60.72 L205.26,59.48 L207.45,58.50 L209.64,57.52 L211.83,56.39 L214.03,54.86 L216.22,52.42 L218.41,51.26 L220.60,51.16 L222.79,50.15 L224.98,48.45 L227.18,49.12 L229.37,53.06 L231.56,62.17 L233.75,71.57 L235.94,74.31 L238.13,70.71 L240.32,69.50 L242.52,69.43 L244.71,69.22 L246.90,68.60 L249.09,63.52 L251.28,58.52 L253.48,55.75 L255.67,51.82 L257.86,50.03 L260.05,49.16 L262.24,51.10 L264.43,55.59 L266.62,58.53 L268.82,58.55 L271.01,54.43 L273.20,49.89 L275.39,45.86 L277.58,45.27 L279.77,48.17 L281.97,54.00 L284.16,58.13 L286.35,60.69 L288.54,67.39 L290.73,74.88 L292.93,76.87 L295.12,76.29 L297.31,76.54 L299.50,75.66" fill="none" stroke="#ff7d7d" stroke-width="0.6" stroke-opacity="0.9"/><path d="M196.49,69.23 L198.68,66.93 L200.88,61.94 L203.07,57.98 L205.26,56.25 L207.45,55.21 L209.64,51.88 L211.83,47.05 L214.03,43.09 L216.22,39.95 L218.41,37.92 L220.60,39.25 L222.79,44.52 L224.98,50.29 L227.18,57.08 L229.37,60.34 L231.56,64.87 L233.75,72.30 L235.94,77.03 L238.13,77.83 L240.32,78.67 L242.52,82.98 L244.71,89.73 L246.90,93.94 L249.09,95.31 L251.28,94.91 L253.48,90.50 L255.67,84.69 L257.86,80.74 L260.05,73.54 L262.24,62.56 L264.43,54.77 L266.62,49.29 L268.82,49.72 L271.01,53.33 L273.20,53.37 L275.39,52.03 L277.58,56.35 L279.77,63.17 L281.97,67.33 L284.16,71.08 L286.35,74.95 L288.54,75.68 L290.73,76.40 L292.93,76.88 L295.12,76.07 L297.31,76.25 L299.50,74.79" fill="none" stroke="#ff7d7d" stroke-width="0.6" stroke-opacity="0.9"/><path d="M196.49,68.03 L198.68,64.83 L200.88,59.88 L203.07,58.33 L205.26,57.62 L207.45,56.76 L209.64,54.79 L211.83,53.24 L214.03,53.31 L216.22,51.99 L218.41,48.00 L220.60,44.56 L222.79,41.82 L224.98,43.30 L227.18,48.08 L229.37,53.57 L231.56,60.75 L233.75,66.17 L235.94,70.60 L238.13,73.95 L240.32,75.39 L242.52,74.80 L244.71,73.42 L246.90,73.19 L249.09,77.06 L251.28,79.44 L253.48,78.93 L255.67,76.90 L257.86,73.16 L260.05,67.82 L262.24,62.16 L264.43,57.89 L266.62,54.61 L268.82,51.96 L271.01,50.90 L273.20,51.51 L275.39,51.07 L277.58,49.89 L279.77,48.40 L281.97,50.93 L284.16,57.46 L286.35,62.03 L288.54,67.98 L290.73,73.23 L292.93,76.68 L295.12,82.56 L297.31,88.52 L299.50,89.29" fill="none" stroke="#ff7d7d" stroke-width="0.6" stroke-opacity="0.9"/><path d="M196.49,66.46 L198.68,62.72 L200.88,57.40 L203.07,53.95 L205.26,50.12 L207.45,46.37 L209.64,43.81 L211.83,42.57 L214.03,41.64 L216.22,41.29 L218.41,42.55 L220.60,45.63 L222.79,50.06 L224.98,56.18 L227.18,67.36 L229.37,75.90 L231.56,81.57 L233.75,87.09 L235.94,92.86 L238.13,98.13 L240.32,101.06 L242.52,104.13 L244.71,109.27 L246.90,111.19 L249.09,108.38 L251.28,108.55 L253.48,109.32 L255.67,104.11 L257.86,94.44 L260.05,82.40 L262.24,70.25 L264.43,60.08 L266.62,52.99 L268.82,50.19 L271.01,48.53 L273.20,47.40 L275.39,44.70 L277.58,43.85 L279.77,46.15 L281.97,49.56 L284.16,52.61 L286.35,52.70 L288.54,51.07 L290.73,50.50 L292.93,48.18 L295.12,49.90 L297.31,54.42 L299.50,56.78" fill="none" stroke="#ff7d7d" stroke-width="0.6" stroke-opacity="0.9"/><path d="M196.49,65.59 L198.68,63.00 L200.88,59.23 L203.07,58.43 L205.26,58.32 L207.45,57.10 L209.64,55.20 L211.83,51.81 L214.03,46.83 L216.22,43.18 L218.41,39.51 L220.60,38.75 L222.79,42.26 L224.98,45.70 L227.18,49.24 L229.37,53.80 L231.56,60.22 L233.75,62.95 L235.94,61.81 L238.13,61.26 L240.32,63.34 L242.52,66.02 L244.71,68.06 L246.90,67.19 L249.09,66.07 L251.28,62.68 L253.48,56.89 L255.67,53.77 L257.86,49.84 L260.05,42.84 L262.24,39.07 L264.43,39.18 L266.62,42.66 L268.82,47.00 L271.01,49.44 L273.20,52.46 L275.39,55.41 L277.58,58.92 L279.77,64.28 L281.97,70.31 L284.16,71.69 L286.35,73.40 L288.54,78.94 L290.73,82.45 L292.93,83.42 L295.12,85.31 L297.31,88.57 L299.50,89.63" fill="none" stroke="#ff7d7d" stroke-width="0.6" stroke-opacity="0.9"/><path d="M196.49,66.71 L198.68,63.25 L200.88,57.81 L203.07,54.51 L205.26,51.54 L207.45,48.35 L209.64,42.35 L211.83,34.20 L214.03,29.45 L216.22,28.49 L218.41,30.20 L220.60,34.53 L222.79,41.11 L224.98,48.42 L227.18,58.18 L229.37,68.61 L231.56,80.75 L233.75,90.24 L235.94,91.22 L238.13,87.07 L240.32,82.89 L242.52,80.50 L244.71,77.51 L246.90,74.40 L249.09,71.52 L251.28,66.43 L253.48,62.25 L255.67,61.14 L257.86,58.38 L260.05,54.06 L262.24,52.64 L264.43,54.62 L266.62,55.95 L268.82,55.45 L271.01,57.12 L273.20,59.64 L275.39,61.23 L277.58,64.59 L279.77,67.91 L281.97,71.48 L284.16,75.71 L286.35,78.02 L288.54,79.22 L290.73,79.40 L292.93,78.15 L295.12,76.51 L297.31,73.81 L299.50,69.28" fill="none" stroke="#ff7d7d" stroke-width="0.6" stroke-opacity="0.9"/><path d="M196.49,67.81 L198.68,65.41 L200.88,61.36 L203.07,59.65 L205.26,58.78 L207.45,56.46 L209.64,52.75 L211.83,48.98 L214.03,45.18 L216.22,42.67 L218.41,41.16 L220.60,41.66 L222.79,45.19 L224.98,51.44 L227.18,60.57 L229.37,67.72 L231.56,77.31 L233.75,88.27 L235.94,98.36 L238.13,108.04 L240.32,109.17 L242.52,105.45 L244.71,100.86 L246.90,96.42 L249.09,91.56 L251.28,86.84 L253.48,82.45 L255.67,78.20 L257.86,72.92 L260.05,64.84 L262.24,58.59 L264.43,53.54 L266.62,47.90 L268.82,44.11 L271.01,44.05 L273.20,44.55 L275.39,46.03 L277.58,52.12 L279.77,60.60 L281.97,68.05 L284.16,72.51 L286.35,76.28 L288.54,77.70 L290.73,76.58 L292.93,75.29 L295.12,76.31 L297.31,76.87 L299.50,76.11" fill="none" stroke="#ff7d7d" stroke-width="0.6" stroke-opacity="0.9"/><path d="M196.49,68.60 L198.68,66.47 L200.88,59.65 L203.07,54.13 L205.26,48.61 L207.45,42.94 L209.64,37.28 L211.83,32.04 L214.03,26.35 L216.22,23.12 L218.41,26.19 L220.60,32.04 L222.79,39.02 L224.98,47.41 L227.18,54.98 L229.37,61.13 L231.56,66.69 L233.75,69.53 L235.94,69.64 L238.13,70.86 L240.32,70.31 L242.52,70.47 L244.71,71.88 L246.90,72.39 L249.09,71.88 L251.28,70.37 L253.48,68.16 L255.67,65.33 L257.86,62.36 L260.05,58.88 L262.24,55.96 L264.43,54.76 L266.62,54.91 L268.82,55.09 L271.01,55.56 L273.20,56.05 L275.39,56.92 L277.58,57.60 L279.77,59.45 L281.97,61.17 L284.16,59.96 L286.35,60.50 L288.54,62.10 L290.73,63.77 L292.93,64.10 L295.12,64.01 L297.31,65.01 L299.50,65.67" fill="none" stroke="#7d7dff" stroke-width="0.6" stroke-opacity="0.9"/><path d="M196.49,69.13 L198.68,68.60 L200.88,67.46 L203.07,66.61 L205.26,65.99 L207.45,63.77 L209.64,60.79 L211.83,58.14 L214.03,55.66 L216.22,53.23 L218.41,52.20 L220.60,54.55 L222.79,57.78 L224.98,59.05 L227.18,59.84 L229.37,64.13 L231.56,72.13 L233.75,69.52 L235.94,63.90 L238.13,56.82 L240.32,48.73 L242.52,40.11 L244.71,33.31 L246.90,40.06 L249.09,49.07 L251.28,58.29 L253.48,65.17 L255.67,69.42 L257.86,72.70 L260.05,64.38 L262.24,51.18 L264.43,50.49 L266.62,52.88 L268.82,57.46 L271.01,59.28 L273.20,61.83 L275.39,68.25 L277.58,74.06 L279.77,77.29 L281.97,78.88 L284.16,79.21 L286.35,79.41 L288.54,78.50 L290.73,77.36 L292.93,75.37 L295.12,74.21 L297.31,72.96 L299.50,71.75" fill="none" stroke="#7d7dff" stroke-width="0.6" stroke-opacity="0.9"/><path d="M170.19,72.59 L172.38,72.95 L174.57,66.07 L176.77,66.23 L178.96,66.64 L181.15,68.47 L183.34,71.29 L185.53,68.62 L187.72,66.58 L189.92,66.08 L192.11,69.02 L194.30,66.28 L196.49,66.00 L198.68,64.51 L200.88,63.37 L203.07,61.32 L205.26,58.08 L207.45,55.21 L209.64,52.76 L211.83,50.51 L214.03,46.75 L216.22,40.65 L218.41,38.62 L220.60,37.32 L222.79,35.76 L224.98,36.63 L227.18,42.78 L229.37,48.41 L231.56,51.93 L233.75,56.05 L235.94,61.39 L238.13,67.07 L240.32,70.69 L242.52,74.31 L244.71,76.94 L246.90,78.36 L249.09,78.13 L251.28,74.27 L253.48,71.37 L255.67,71.72 L257.86,73.68 L260.05,75.55 L262.24,73.96 L264.43,70.60 L266.62,71.55 L268.82,78.07 L271.01,81.96 L273.20,86.36 L275.39,78.68 L277.58,77.95 L279.77,77.41 L281.97,76.84 L284.16,75.75 L286.35,74.72 L288.54,74.15 L290.73,73.59 L292.93,73.00 L295.12,73.25 L297.31,73.83 L299.50,73.84" fill="none" stroke="#111" stroke-width="1.2"/></g>
<g fill="#000"><circle cx="170.19" cy="72.59" r="2.2"/><circle cx="172.38" cy="72.95" r="2.2"/><circle cx="174.57" cy="66.07" r="2.2"/><circle cx="176.77" cy="66.23" r="2.2"/><circle cx="178.96" cy="66.64" r="2.2"/><circle cx="181.15" cy="68.47" r="2.2"/><circle cx="183.34" cy="71.29" r="2.2"/><circle cx="185.53" cy="68.62" r="2.2"/><circle cx="187.72" cy="66.58" r="2.2"/><circle cx="189.92" cy="66.08" r="2.2"/><circle cx="192.11" cy="69.02" r="2.2"/><circle cx="194.30" cy="66.28" r="2.2"/><circle cx="196.49" cy="66.00" r="2.2"/><circle cx="198.68" cy="64.51" r="2.2"/><circle cx="200.88" cy="63.37" r="2.2"/><circle cx="203.07" cy="61.32" r="2.2"/><circle cx="205.26" cy="58.08" r="2.2"/><circle cx="207.45" cy="55.21" r="2.2"/><circle cx="209.64" cy="52.76" r="2.2"/><circle cx="211.83" cy="50.51" r="2.2"/><circle cx="214.03" cy="46.75" r="2.2"/><circle cx="216.22" cy="40.65" r="2.2"/><circle cx="218.41" cy="38.62" r="2.2"/><circle cx="220.60" cy="37.32" r="2.2"/><circle cx="222.79" cy="35.76" r="2.2"/><circle cx="224.98" cy="36.63" r="2.2"/><circle cx="227.18" cy="42.78" r="2.2"/><circle cx="229.37" cy="48.41" r="2.2"/><circle cx="231.56" cy="51.93" r="2.2"/><circle cx="233.75" cy="56.05" r="2.2"/><circle cx="235.94" cy="61.39" r="2.2"/><circle cx="238.13" cy="67.07" r="2.2"/><circle cx="240.32" cy="70.69" r="2.2"/><circle cx="242.52" cy="74.31" r="2.2"/><circle cx="244.71" cy="76.94" r="2.2"/><circle cx="246.90" cy="78.36" r="2.2"/><circle cx="249.09" cy="78.13" r="2.2"/><circle cx="251.28" cy="74.27" r="2.2"/><circle cx="253.48" cy="71.37" r="2.2"/><circle cx="255.67" cy="71.72" r="2.2"/><circle cx="257.86" cy="73.68" r="2.2"/><circle cx="260.05" cy="75.55" r="2.2"/><circle cx="262.24" cy="73.96" r="2.2"/><circle cx="264.43" cy="70.60" r="2.2"/><circle cx="266.62" cy="71.55" r="2.2"/><circle cx="268.82" cy="78.07" r="2.2"/><circle cx="271.01" cy="81.96" r="2.2"/><circle cx="273.20" cy="86.36" r="2.2"/><circle cx="275.39" cy="78.68" r="2.2"/><circle cx="277.58" cy="77.95" r="2.2"/><circle cx="279.77" cy="77.41" r="2.2"/><circle cx="281.97" cy="76.84" r="2.2"/><circle cx="284.16" cy="75.75" r="2.2"/><circle cx="286.35" cy="74.72" r="2.2"/><circle cx="288.54" cy="74.15" r="2.2"/><circle cx="290.73" cy="73.59" r="2.2"/><circle cx="292.93" cy="73.00" r="2.2"/><circle cx="295.12" cy="73.25" r="2.2"/><circle cx="297.31" cy="73.83" r="2.2"/><circle cx="299.50" cy="73.84" r="2.2"/></g>
<g clip-path="url(#cpb)"><path d="M196.49,68.55 L197.59,68.34 L198.68,67.91 L199.78,67.32 L200.88,66.64 L201.97,65.95 L203.07,65.30 L204.16,64.67 L205.26,64.01 L206.35,63.31 L207.45,62.56 L208.55,61.73 L209.64,60.75 L210.74,59.61 L211.83,58.42 L212.93,57.29 L214.03,56.26 L215.12,55.11 L216.22,54.04 L217.31,53.28 L218.41,53.08 L219.50,53.41 L220.60,54.08 L221.70,54.94 L222.79,55.83 L223.89,56.67 L224.98,57.58 L226.08,58.62 L227.18,59.86 L228.27,61.45 L229.37,64.11 L230.46,67.15 L231.56,69.57 L232.65,70.75 L233.75,71.59 L234.85,72.25 L235.94,72.74 L237.04,73.06 L238.13,73.29 L239.23,73.47 L240.32,73.63 L241.42,73.80 L242.52,74.02 L243.61,74.27 L244.71,74.52 L245.80,74.73 L246.90,74.85 L248.00,74.80 L249.09,74.48 L250.19,73.97 L251.28,73.39 L252.38,72.84 L253.48,72.29 L254.57,71.67 L255.67,71.01 L256.76,70.29 L257.86,69.47 L258.95,68.49 L260.05,67.48 L261.15,66.60 L262.24,65.96 L263.34,65.45 L264.43,65.00 L265.53,64.61 L266.62,64.28 L267.72,63.97 L268.82,63.66 L269.91,63.41 L271.01,63.28 L272.10,63.29 L273.20,63.46 L274.30,63.72 L275.39,64.03 L276.49,64.35 L277.58,64.82 L278.68,65.40 L279.77,65.92 L280.87,66.18 L281.97,65.87 L283.06,64.88 L284.16,63.79 L285.25,63.20 L286.35,62.89 L287.45,62.63 L288.54,62.45 L289.64,62.37 L290.73,62.43 L291.83,62.62 L292.93,62.87 L294.02,63.10 L295.12,63.25 L296.21,63.26 L297.31,63.26 L298.40,63.26 L299.50,63.26" fill="none" stroke="#0000ff" stroke-width="2.6" stroke-linejoin="round"/><path d="M196.49,67.69 L197.59,66.89 L198.68,65.15 L199.78,62.97 L200.88,60.93 L201.97,59.64 L203.07,58.88 L204.16,58.31 L205.26,57.75 L206.35,57.06 L207.45,56.06 L208.55,54.76 L209.64,53.32 L210.74,51.91 L211.83,50.68 L212.93,49.48 L214.03,48.34 L215.12,47.37 L216.22,46.52 L217.31,45.67 L218.41,44.94 L219.50,44.48 L220.60,44.46 L221.70,45.03 L222.79,46.03 L223.89,47.20 L224.98,48.81 L226.08,51.01 L227.18,53.49 L228.27,55.95 L229.37,58.56 L230.46,61.67 L231.56,65.58 L232.65,69.46 L233.75,72.91 L234.85,76.12 L235.94,78.05 L237.04,79.15 L238.13,79.97 L239.23,80.55 L240.32,80.96 L241.42,81.31 L242.52,81.55 L243.61,81.60 L244.71,81.32 L245.80,80.74 L246.90,80.01 L248.00,79.15 L249.09,77.90 L250.19,76.40 L251.28,74.86 L252.38,73.23 L253.48,71.46 L254.57,69.75 L255.67,68.24 L256.76,66.84 L257.86,65.52 L258.95,64.28 L260.05,63.12 L261.15,62.04 L262.24,60.98 L263.34,59.88 L264.43,58.72 L265.53,57.59 L266.62,56.63 L267.72,55.75 L268.82,54.87 L269.91,54.15 L271.01,53.74 L272.10,53.73 L273.20,53.90 L274.30,54.20 L275.39,54.60 L276.49,55.89 L277.58,58.23 L278.68,60.61 L279.77,62.32 L280.87,63.90 L281.97,65.25 L283.06,66.19 L284.16,66.76 L285.25,67.19 L286.35,67.56 L287.45,67.93 L288.54,68.38 L289.64,68.84 L290.73,69.31 L291.83,69.78 L292.93,70.23 L294.02,70.70 L295.12,71.16 L296.21,71.60 L297.31,71.99 L298.40,72.30 L299.50,72.57" fill="none" stroke="#ff0000" stroke-width="2.6" stroke-linejoin="round"/></g>
<rect x="168.00" y="4.00" width="131.50" height="114.70" fill="none" stroke="#777" stroke-width="0.9"/>
<path d="M194.30,118.70v-1.3M194.30,4.00v1.3M220.60,118.70v-1.3M220.60,4.00v1.3M246.90,118.70v-1.3M246.90,4.00v1.3M273.20,118.70v-1.3M273.20,4.00v1.3M168.00,93.21h1.3M299.50,93.21h-1.3M168.00,67.72h1.3M299.50,67.72h-1.3M168.00,42.23h1.3M299.50,42.23h-1.3M168.00,16.74h1.3M299.50,16.74h-1.3" stroke="#777" stroke-width="0.8" fill="none"/>
<g font-family="Liberation Sans, sans-serif" font-size="7.6" fill="#1a1a1a" stroke="#1a1a1a" stroke-width="0.15"><text x="165.40" y="121.70" text-anchor="end">-4</text><text x="165.40" y="96.21" text-anchor="end">-2</text><text x="165.40" y="70.72" text-anchor="end">0</text><text x="165.40" y="45.23" text-anchor="end">2</text><text x="165.40" y="19.74" text-anchor="end">4</text><text x="168.00" y="128.30" text-anchor="middle">0</text><text x="194.30" y="128.30" text-anchor="middle">12</text><text x="220.60" y="128.30" text-anchor="middle">24</text><text x="246.90" y="128.30" text-anchor="middle">36</text><text x="273.20" y="128.30" text-anchor="middle">48</text><text x="299.50" y="128.30" text-anchor="middle">60</text><text x="170.50" y="118.30">1981/01</text><text x="240.98" y="118.30" text-anchor="middle">1983/12</text><text x="298.30" y="118.30" text-anchor="end">1985/12</text><text x="170.60" y="12.70">1982-83 El Nino</text></g>
<text x="155.80" y="6.80" font-family="Liberation Sans, sans-serif" font-size="7.6" font-weight="bold" fill="#1a1a1a" stroke="#1a1a1a" stroke-width="0.15">(b)</text>
<g clip-path="url(#cpc)"><line x1="339.60" y1="4.00" x2="339.60" y2="118.70" stroke="#e4e4e4" stroke-width="0.6"/><line x1="365.90" y1="4.00" x2="365.90" y2="118.70" stroke="#e4e4e4" stroke-width="0.6"/><line x1="392.20" y1="4.00" x2="392.20" y2="118.70" stroke="#e4e4e4" stroke-width="0.6"/><line x1="418.50" y1="4.00" x2="418.50" y2="118.70" stroke="#e4e4e4" stroke-width="0.6"/><path d="M341.79,56.32 L343.98,59.49 L346.18,62.72 L348.37,65.52 L350.56,69.45 L352.75,74.09 L354.94,78.97 L357.13,82.41 L359.32,83.77 L361.52,85.33 L363.71,87.06 L365.90,88.01 L368.09,90.51 L370.28,93.32 L372.48,94.49 L374.67,94.48 L376.86,94.27 L379.05,92.18 L381.24,88.28 L383.43,85.68 L385.62,83.85 L387.82,81.38 L390.01,79.56 L392.20,78.86 L394.39,78.40 L396.58,77.96 L398.78,76.12 L400.97,74.50 L403.16,74.22 L405.35,72.89 L407.54,71.19 L409.73,69.46 L411.93,65.27 L414.12,59.81 L416.31,54.38 L418.50,50.50 L420.69,48.56 L422.88,43.67 L425.07,38.03 L427.27,38.68 L429.46,40.94 L431.65,43.20 L433.84,49.68 L436.03,55.55 L438.23,57.78 L440.42,58.63 L442.61,61.25 L444.80,66.34" fill="none" stroke="#7d7dff" stroke-width="0.6" stroke-opacity="0.9"/><path d="M341.79,54.73 L343.98,58.30 L346.18,61.78 L348.37,65.61 L350.56,69.56 L352.75,73.17 L354.94,75.95 L357.13,76.94 L359.32,77.21 L361.52,75.98 L363.71,72.84 L365.90,69.29 L368.09,67.17 L370.28,65.68 L372.48,62.64 L374.67,58.17 L376.86,55.73 L379.05,54.52 L381.24,56.63 L383.43,58.52 L385.62,57.85 L387.82,55.18 L390.01,52.80 L392.20,49.77 L394.39,45.14 L396.58,43.80 L398.78,47.45 L400.97,51.97 L403.16,56.35 L405.35,60.62 L407.54,64.72 L409.73,69.60 L411.93,73.68 L414.12,78.02 L416.31,81.50 L418.50,78.10 L420.69,73.31 L422.88,72.32 L425.07,71.63 L427.27,68.89 L429.46,66.54 L431.65,66.83 L433.84,67.96 L436.03,68.08 L438.23,67.50 L440.42,68.50 L442.61,70.34 L444.80,72.40" fill="none" stroke="#7d7dff" stroke-width="0.6" stroke-opacity="0.9"/><path d="M341.79,54.59 L343.98,56.46 L346.18,58.62 L348.37,60.73 L350.56,63.75 L352.75,66.50 L354.94,68.42 L357.13,69.58 L359.32,71.23 L361.52,72.77 L363.71,74.74 L365.90,76.25 L368.09,74.31 L370.28,70.35 L372.48,67.91 L374.67,64.46 L376.86,61.92 L379.05,60.35 L381.24,59.58 L383.43,59.57 L385.62,60.07 L387.82,61.39 L390.01,61.85 L392.20,62.45 L394.39,62.84 L396.58,62.07 L398.78,61.16 L400.97,59.55 L403.16,59.30 L405.35,59.65 L407.54,55.21 L409.73,48.50 L411.93,43.96 L414.12,42.53 L416.31,43.85 L418.50,46.28 L420.69,47.59 L422.88,47.09 L425.07,49.11 L427.27,52.09 L429.46,52.60 L431.65,52.40 L433.84,55.28 L436.03,57.23 L438.23,55.18 L440.42,55.21 L442.61,57.32 L444.80,60.14" fill="none" stroke="#7d7dff" stroke-width="0.6" stroke-opacity="0.9"/><path d="M341.79,53.24 L343.98,55.48 L346.18,56.80 L348.37,58.11 L350.56,62.10 L352.75,66.18 L354.94,68.50 L357.13,70.59 L359.32,74.49 L361.52,78.45 L363.71,82.68 L365.90,88.61 L368.09,94.83 L370.28,97.75 L372.48,98.40 L374.67,96.52 L376.86,91.78 L379.05,87.19 L381.24,84.64 L383.43,81.96 L385.62,78.26 L387.82,74.85 L390.01,73.97 L392.20,72.93 L394.39,68.81 L396.58,66.33 L398.78,68.62 L400.97,72.96 L403.16,77.26 L405.35,80.03 L407.54,78.93 L409.73,79.07 L411.93,82.92 L414.12,85.04 L416.31,83.65 L418.50,80.76 L420.69,77.93 L422.88,74.89 L425.07,70.21 L427.27,64.46 L429.46,62.27 L431.65,63.09 L433.84,62.14 L436.03,62.77 L438.23,65.66 L440.42,66.28 L442.61,65.77 L444.80,65.90" fill="none" stroke="#7d7dff" stroke-width="0.6" stroke-opacity="0.9"/><path d="M341.79,52.62 L343.98,54.42 L346.18,56.31 L348.37,58.02 L350.56,60.56 L352.75,63.94 L354.94,67.03 L357.13,68.85 L359.32,69.78 L361.52,71.15 L363.71,72.57 L365.90,73.06 L368.09,71.37 L370.28,67.58 L372.48,65.12 L374.67,64.60 L376.86,65.38 L379.05,65.09 L381.24,65.43 L383.43,66.48 L385.62,67.09 L387.82,67.83 L390.01,69.86 L392.20,71.97 L394.39,71.39 L396.58,68.71 L398.78,65.31 L400.97,60.79 L403.16,58.40 L405.35,57.11 L407.54,54.57 L409.73,52.14 L411.93,52.53 L414.12,57.90 L416.31,61.56 L418.50,61.26 L420.69,61.99 L422.88,63.17 L425.07,62.43 L427.27,60.60 L429.46,60.24 L431.65,62.14 L433.84,64.40 L436.03,66.29 L438.23,68.66 L440.42,69.61 L442.61,70.78 L444.80,72.96" fill="none" stroke="#7d7dff" stroke-width="0.6" stroke-opacity="0.9"/><path d="M341.79,52.71 L343.98,54.03 L346.18,55.62 L348.37,57.78 L350.56,60.21 L352.75,62.79 L354.94,66.51 L357.13,70.23 L359.32,73.21 L361.52,74.25 L363.71,75.71 L365.90,78.53 L368.09,80.78 L370.28,82.06 L372.48,83.00 L374.67,82.86 L376.86,84.04 L379.05,83.91 L381.24,83.17 L383.43,81.34 L385.62,75.97 L387.82,70.20 L390.01,66.43 L392.20,64.83 L394.39,65.79 L396.58,65.69 L398.78,64.57 L400.97,63.32 L403.16,62.09 L405.35,59.92 L407.54,54.29 L409.73,49.35 L411.93,46.34 L414.12,45.09 L416.31,46.73 L418.50,50.18 L420.69,51.79 L422.88,51.80 L425.07,51.50 L427.27,49.74 L429.46,49.20 L431.65,50.81 L433.84,51.59 L436.03,50.72 L438.23,51.46 L440.42,53.86 L442.61,56.80 L444.80,61.00" fill="none" stroke="#7d7dff" stroke-width="0.6" stroke-opacity="0.9"/><path d="M341.79,53.97 L343.98,56.19 L346.18,58.16 L348.37,60.77 L350.56,64.12 L352.75,67.26 L354.94,70.36 L357.13,72.34 L359.32,73.56 L361.52,74.49 L363.71,75.75 L365.90,77.75 L368.09,78.96 L370.28,78.73 L372.48,78.26 L374.67,75.39 L376.86,73.01 L379.05,72.87 L381.24,71.47 L383.43,68.93 L385.62,67.35 L387.82,68.63 L390.01,73.36 L392.20,77.91 L394.39,79.23 L396.58,79.31 L398.78,79.36 L400.97,78.28 L403.16,75.10 L405.35,70.21 L407.54,66.94 L409.73,66.51 L411.93,68.70 L414.12,69.96 L416.31,66.96 L418.50,62.49 L420.69,61.52 L422.88,59.49 L425.07,51.52 L427.27,44.28 L429.46,41.72 L431.65,40.52 L433.84,39.25 L436.03,39.72 L438.23,40.37 L440.42,42.01 L442.61,48.01 L444.80,56.98" fill="none" stroke="#7d7dff" stroke-width="0.6" stroke-opacity="0.9"/><path d="M341.79,55.73 L343.98,59.57 L346.18,62.84 L348.37,66.04 L350.56,69.57 L352.75,71.97 L354.94,73.41 L357.13,73.35 L359.32,73.28 L361.52,73.58 L363.71,73.01 L365.90,72.86 L368.09,73.66 L370.28,73.32 L372.48,73.50 L374.67,72.85 L376.86,71.14 L379.05,70.32 L381.24,69.33 L383.43,67.42 L385.62,64.27 L387.82,61.89 L390.01,62.05 L392.20,61.01 L394.39,60.15 L396.58,63.18 L398.78,66.23 L400.97,66.29 L403.16,68.17 L405.35,71.55 L407.54,74.36 L409.73,77.75 L411.93,82.52 L414.12,87.72 L416.31,88.41 L418.50,84.42 L420.69,78.66 L422.88,73.81 L425.07,70.08 L427.27,64.03 L429.46,57.58 L431.65,53.66 L433.84,53.81 L436.03,59.77 L438.23,65.84 L440.42,69.57 L442.61,73.60 L444.80,76.86" fill="none" stroke="#7d7dff" stroke-width="0.6" stroke-opacity="0.9"/><path d="M341.79,51.38 L343.98,53.18 L346.18,54.95 L348.37,55.98 L350.56,57.37 L352.75,59.40 L354.94,62.30 L357.13,65.50 L359.32,69.18 L361.52,71.65 L363.71,73.61 L365.90,74.72 L368.09,72.61 L370.28,69.90 L372.48,70.48 L374.67,69.45 L376.86,65.88 L379.05,62.37 L381.24,62.60 L383.43,61.97 L385.62,61.93 L387.82,67.21 L390.01,72.21 L392.20,71.84 L394.39,70.49 L396.58,71.40 L398.78,70.58 L400.97,67.48 L403.16,68.82 L405.35,72.84 L407.54,73.25 L409.73,69.81 L411.93,66.14 L414.12,66.29 L416.31,69.34 L418.50,72.14 L420.69,73.74 L422.88,76.84 L425.07,81.10 L427.27,81.81 L429.46,78.97 L431.65,77.83 L433.84,79.49 L436.03,81.31 L438.23,81.95 L440.42,82.98 L442.61,84.32 L444.80,83.13" fill="none" stroke="#7d7dff" stroke-width="0.6" stroke-opacity="0.9"/><path d="M341.79,58.58 L343.98,66.39 L346.18,76.15 L348.37,81.59 L350.56,84.34 L352.75,86.50 L354.94,88.81 L357.13,89.07 L359.32,87.59 L361.52,85.46 L363.71,82.91 L365.90,80.40 L368.09,78.07 L370.28,74.80 L372.48,70.50 L374.67,66.73 L376.86,66.21 L379.05,66.95 L381.24,62.64 L383.43,55.73 L385.62,49.76 L387.82,43.85 L390.01,40.08 L392.20,36.86 L394.39,35.27 L396.58,37.99 L398.78,43.73 L400.97,47.88 L403.16,49.70 L405.35,54.07 L407.54,58.29 L409.73,62.30 L411.93,66.32 L414.12,69.63 L416.31,70.79 L418.50,71.90 L420.69,71.33 L422.88,67.77 L425.07,64.00 L427.27,60.97 L429.46,56.97 L431.65,55.69 L433.84,59.58 L436.03,60.43 L438.23,63.25 L440.42,69.82 L442.61,74.45 L444.80,80.05" fill="none" stroke="#ff7d7d" stroke-width="0.6" stroke-opacity="0.9"/><path d="M341.79,56.89 L343.98,63.74 L346.18,72.55 L348.37,78.20 L350.56,84.31 L352.75,89.97 L354.94,92.97 L357.13,92.02 L359.32,89.35 L361.52,86.20 L363.71,81.36 L365.90,75.25 L368.09,68.40 L370.28,61.93 L372.48,59.02 L374.67,56.51 L376.86,51.93 L379.05,50.61 L381.24,52.66 L383.43,52.17 L385.62,54.33 L387.82,58.23 L390.01,61.50 L392.20,63.57 L394.39,66.16 L396.58,74.02 L398.78,81.91 L400.97,87.88 L403.16,91.34 L405.35,92.90 L407.54,92.56 L409.73,91.24 L411.93,86.23 L414.12,76.85 L416.31,71.59 L418.50,73.26 L420.69,73.96 L422.88,71.67 L425.07,70.11 L427.27,71.23 L429.46,74.41 L431.65,76.90 L433.84,75.53 L436.03,71.31 L438.23,68.03 L440.42,69.01 L442.61,66.99 L444.80,59.97" fill="none" stroke="#ff7d7d" stroke-width="0.6" stroke-opacity="0.9"/><path d="M341.79,60.17 L343.98,67.91 L346.18,75.81 L348.37,80.10 L350.56,84.34 L352.75,87.53 L354.94,88.04 L357.13,86.60 L359.32,85.77 L361.52,85.06 L363.71,83.00 L365.90,79.37 L368.09,75.71 L370.28,70.49 L372.48,66.54 L374.67,62.16 L376.86,60.11 L379.05,62.68 L381.24,64.94 L383.43,68.04 L385.62,71.81 L387.82,71.27 L390.01,68.30 L392.20,65.35 L394.39,61.18 L396.58,56.59 L398.78,55.46 L400.97,55.60 L403.16,53.48 L405.35,55.94 L407.54,60.30 L409.73,62.02 L411.93,57.43 L414.12,51.21 L416.31,49.55 L418.50,50.89 L420.69,51.27 L422.88,55.47 L425.07,64.79 L427.27,72.56 L429.46,76.50 L431.65,77.99 L433.84,78.40 L436.03,79.49 L438.23,79.62 L440.42,77.30 L442.61,75.15 L444.80,72.94" fill="none" stroke="#ff7d7d" stroke-width="0.6" stroke-opacity="0.9"/><path d="M341.79,56.31 L343.98,61.66 L346.18,67.73 L348.37,70.04 L350.56,71.68 L352.75,72.70 L354.94,74.47 L357.13,75.11 L359.32,74.82 L361.52,75.47 L363.71,76.32 L365.90,76.48 L368.09,76.93 L370.28,75.29 L372.48,75.24 L374.67,75.33 L376.86,69.86 L379.05,61.82 L381.24,55.49 L383.43,49.09 L385.62,45.96 L387.82,46.80 L390.01,49.82 L392.20,55.49 L394.39,60.61 L396.58,65.11 L398.78,69.55 L400.97,73.08 L403.16,73.64 L405.35,73.50 L407.54,75.60 L409.73,76.76 L411.93,74.28 L414.12,70.75 L416.31,69.96 L418.50,72.33 L420.69,73.97 L422.88,77.51 L425.07,79.94 L427.27,78.35 L429.46,77.98 L431.65,78.07 L433.84,77.16 L436.03,77.37 L438.23,77.99 L440.42,78.00 L442.61,76.62 L444.80,76.60" fill="none" stroke="#ff7d7d" stroke-width="0.6" stroke-opacity="0.9"/><path d="M341.79,58.69 L343.98,64.59 L346.18,70.93 L348.37,74.16 L350.56,77.12 L352.75,78.87 L354.94,80.85 L357.13,82.92 L359.32,84.00 L361.52,83.34 L363.71,83.01 L365.90,84.90 L368.09,88.92 L370.28,91.75 L372.48,90.36 L374.67,83.85 L376.86,76.30 L379.05,72.41 L381.24,72.25 L383.43,73.79 L385.62,76.68 L387.82,76.57 L390.01,76.07 L392.20,77.70 L394.39,78.87 L396.58,77.04 L398.78,74.36 L400.97,73.24 L403.16,68.84 L405.35,63.85 L407.54,55.71 L409.73,48.88 L411.93,45.56 L414.12,40.04 L416.31,33.35 L418.50,28.69 L420.69,26.42 L422.88,23.98 L425.07,21.21 L427.27,22.87 L429.46,25.01 L431.65,26.26 L433.84,30.36 L436.03,35.59 L438.23,42.12 L440.42,49.67 L442.61,53.02 L444.80,52.28" fill="none" stroke="#ff7d7d" stroke-width="0.6" stroke-opacity="0.9"/><path d="M341.79,57.07 L343.98,63.72 L346.18,71.49 L348.37,74.48 L350.56,76.34 L352.75,78.05 L354.94,79.84 L357.13,80.64 L359.32,81.55 L361.52,83.08 L363.71,83.01 L365.90,79.13 L368.09,76.09 L370.28,74.38 L372.48,74.88 L374.67,73.62 L376.86,71.31 L379.05,69.95 L381.24,69.31 L383.43,67.86 L385.62,63.98 L387.82,56.61 L390.01,52.22 L392.20,53.65 L394.39,58.55 L396.58,62.84 L398.78,64.37 L400.97,67.69 L403.16,69.51 L405.35,70.73 L407.54,69.81 L409.73,62.63 L411.93,53.53 L414.12,46.01 L416.31,42.74 L418.50,41.72 L420.69,45.38 L422.88,53.94 L425.07,62.20 L427.27,73.06 L429.46,86.24 L431.65,95.87 L433.84,101.81 L436.03,105.58 L438.23,105.52 L440.42,101.49 L442.61,93.62 L444.80,85.67" fill="none" stroke="#ff7d7d" stroke-width="0.6" stroke-opacity="0.9"/><path d="M341.79,61.62 L343.98,69.43 L346.18,78.39 L348.37,82.62 L350.56,85.18 L352.75,88.05 L354.94,88.85 L357.13,86.04 L359.32,83.94 L361.52,83.21 L363.71,81.20 L365.90,77.36 L368.09,75.14 L370.28,72.91 L372.48,70.35 L374.67,66.80 L376.86,66.56 L379.05,69.69 L381.24,70.52 L383.43,70.92 L385.62,73.69 L387.82,76.64 L390.01,78.98 L392.20,82.43 L394.39,84.99 L396.58,85.31 L398.78,86.52 L400.97,88.08 L403.16,86.64 L405.35,85.85 L407.54,83.09 L409.73,78.91 L411.93,73.23 L414.12,64.56 L416.31,58.15 L418.50,56.52 L420.69,58.33 L422.88,57.45 L425.07,56.51 L427.27,57.93 L429.46,60.15 L431.65,59.88 L433.84,60.54 L436.03,63.14 L438.23,65.45 L440.42,72.22 L442.61,79.79 L444.80,80.49" fill="none" stroke="#ff7d7d" stroke-width="0.6" stroke-opacity="0.9"/><path d="M341.79,58.90 L343.98,65.91 L346.18,74.24 L348.37,78.35 L350.56,80.23 L352.75,82.06 L354.94,84.49 L357.13,84.20 L359.32,83.43 L361.52,84.58 L363.71,85.55 L365.90,83.31 L368.09,80.88 L370.28,77.02 L372.48,72.84 L374.67,70.28 L376.86,68.02 L379.05,64.94 L381.24,62.82 L383.43,59.61 L385.62,54.14 L387.82,47.79 L390.01,45.32 L392.20,45.29 L394.39,45.77 L396.58,48.77 L398.78,55.22 L400.97,61.40 L403.16,62.92 L405.35,63.17 L407.54,64.01 L409.73,62.82 L411.93,62.24 L414.12,62.37 L416.31,60.68 L418.50,59.25 L420.69,62.50 L422.88,66.57 L425.07,68.93 L427.27,70.33 L429.46,68.86 L431.65,66.60 L433.84,64.91 L436.03,63.44 L438.23,63.38 L440.42,62.90 L442.61,63.42 L444.80,66.41" fill="none" stroke="#ff7d7d" stroke-width="0.6" stroke-opacity="0.9"/><path d="M341.79,57.84 L343.98,63.68 L346.18,70.99 L348.37,75.18 L350.56,78.48 L352.75,79.37 L354.94,78.57 L357.13,77.27 L359.32,77.93 L361.52,78.09 L363.71,75.70 L365.90,70.95 L368.09,68.28 L370.28,67.86 L372.48,66.08 L374.67,62.69 L376.86,57.69 L379.05,52.58 L381.24,49.15 L383.43,48.17 L385.62,48.01 L387.82,46.47 L390.01,42.93 L392.20,40.96 L394.39,45.17 L396.58,51.70 L398.78,57.61 L400.97,65.08 L403.16,72.16 L405.35,74.79 L407.54,74.30 L409.73,74.05 L411.93,70.63 L414.12,64.65 L416.31,58.66 L418.50,54.97 L420.69,48.87 L422.88,39.45 L425.07,33.77 L427.27,29.70 L429.46,24.94 L431.65,22.49 L433.84,26.26 L436.03,32.25 L438.23,39.37 L440.42,47.11 L442.61,51.74 L444.80,53.98" fill="none" stroke="#ff7d7d" stroke-width="0.6" stroke-opacity="0.9"/><path d="M341.79,58.50 L343.98,64.59 L346.18,71.15 L348.37,73.63 L350.56,75.81 L352.75,77.00 L354.94,77.27 L357.13,77.01 L359.32,77.39 L361.52,77.93 L363.71,77.94 L365.90,77.88 L368.09,78.05 L370.28,78.13 L372.48,78.79 L374.67,78.25 L376.86,76.38 L379.05,67.52 L381.24,58.16 L383.43,54.98 L385.62,51.79 L387.82,48.61 L390.01,45.40 L392.20,42.18 L394.39,38.98 L396.58,35.86 L398.78,32.18 L400.97,28.57 L403.16,26.94 L405.35,30.24 L407.54,36.38 L409.73,39.68 L411.93,37.04 L414.12,32.13 L416.31,29.49 L418.50,31.90 L420.69,37.14 L422.88,42.23 L425.07,46.22 L427.27,50.11 L429.46,53.88 L431.65,62.09 L433.84,73.65 L436.03,77.65 L438.23,81.03 L440.42,84.19 L442.61,86.56 L444.80,88.29" fill="none" stroke="#ff7d7d" stroke-width="0.6" stroke-opacity="0.9"/><path d="M341.79,58.42 L343.98,64.93 L346.18,72.32 L348.37,75.54 L350.56,80.63 L352.75,87.41 L354.94,91.66 L357.13,95.76 L359.32,100.52 L361.52,105.15 L363.71,107.23 L365.90,106.72 L368.09,105.35 L370.28,103.41 L372.48,98.46 L374.67,90.41 L376.86,83.02 L379.05,77.41 L381.24,72.28 L383.43,67.84 L385.62,64.27 L387.82,60.05 L390.01,57.30 L392.20,55.27 L394.39,55.66 L396.58,58.45 L398.78,62.90 L400.97,69.08 L403.16,73.64 L405.35,74.68 L407.54,71.98 L409.73,70.64 L411.93,68.90 L414.12,64.34 L416.31,62.06 L418.50,61.08 L420.69,59.80 L422.88,61.63 L425.07,64.68 L427.27,66.39 L429.46,70.32 L431.65,74.10 L433.84,75.55 L436.03,75.26 L438.23,74.42 L440.42,72.98 L442.61,70.84 L444.80,69.15" fill="none" stroke="#ff7d7d" stroke-width="0.6" stroke-opacity="0.9"/><path d="M315.49,51.03 L317.68,49.88 L319.88,49.37 L322.07,54.50 L324.26,52.59 L326.45,49.60 L328.64,47.78 L330.83,46.41 L333.03,45.61 L335.22,48.61 L337.41,49.18 L339.60,53.70 L341.79,58.59 L343.98,63.52 L346.18,69.19 L348.37,74.25 L350.56,78.88 L352.75,82.38 L354.94,83.74 L357.13,82.97 L359.32,85.05 L361.52,91.15 L363.71,91.93 L365.90,92.00 L368.09,91.02 L370.28,85.23 L372.48,81.64 L374.67,79.03 L376.86,76.34 L379.05,73.49 L381.24,71.51 L383.43,70.32 L385.62,69.36 L387.82,68.37 L390.01,67.40 L392.20,66.30 L394.39,65.05 L396.58,63.33 L398.78,61.87 L400.97,60.69 L403.16,60.24 L405.35,62.83 L407.54,64.10 L409.73,63.51 L411.93,63.15 L414.12,64.09 L416.31,62.93 L418.50,61.22 L420.69,61.87 L422.88,62.06 L425.07,60.09 L427.27,58.88 L429.46,58.31 L431.65,58.97 L433.84,59.10 L436.03,57.85 L438.23,56.01 L440.42,53.17 L442.61,50.51 L444.80,47.33" fill="none" stroke="#111" stroke-width="1.2"/></g>
<g fill="#000"><circle cx="315.49" cy="51.03" r="2.2"/><circle cx="317.68" cy="49.88" r="2.2"/><circle cx="319.88" cy="49.37" r="2.2"/><circle cx="322.07" cy="54.50" r="2.2"/><circle cx="324.26" cy="52.59" r="2.2"/><circle cx="326.45" cy="49.60" r="2.2"/><circle cx="328.64" cy="47.78" r="2.2"/><circle cx="330.83" cy="46.41" r="2.2"/><circle cx="333.03" cy="45.61" r="2.2"/><circle cx="335.22" cy="48.61" r="2.2"/><circle cx="337.41" cy="49.18" r="2.2"/><circle cx="339.60" cy="53.70" r="2.2"/><circle cx="341.79" cy="58.59" r="2.2"/><circle cx="343.98" cy="63.52" r="2.2"/><circle cx="346.18" cy="69.19" r="2.2"/><circle cx="348.37" cy="74.25" r="2.2"/><circle cx="350.56" cy="78.88" r="2.2"/><circle cx="352.75" cy="82.38" r="2.2"/><circle cx="354.94" cy="83.74" r="2.2"/><circle cx="357.13" cy="82.97" r="2.2"/><circle cx="359.32" cy="85.05" r="2.2"/><circle cx="361.52" cy="91.15" r="2.2"/><circle cx="363.71" cy="91.93" r="2.2"/><circle cx="365.90" cy="92.00" r="2.2"/><circle cx="368.09" cy="91.02" r="2.2"/><circle cx="370.28" cy="85.23" r="2.2"/><circle cx="372.48" cy="81.64" r="2.2"/><circle cx="374.67" cy="79.03" r="2.2"/><circle cx="376.86" cy="76.34" r="2.2"/><circle cx="379.05" cy="73.49" r="2.2"/><circle cx="381.24" cy="71.51" r="2.2"/><circle cx="383.43" cy="70.32" r="2.2"/><circle cx="385.62" cy="69.36" r="2.2"/><circle cx="387.82" cy="68.37" r="2.2"/><circle cx="390.01" cy="67.40" r="2.2"/><circle cx="392.20" cy="66.30" r="2.2"/><circle cx="394.39" cy="65.05" r="2.2"/><circle cx="396.58" cy="63.33" r="2.2"/><circle cx="398.78" cy="61.87" r="2.2"/><circle cx="400.97" cy="60.69" r="2.2"/><circle cx="403.16" cy="60.24" r="2.2"/><circle cx="405.35" cy="62.83" r="2.2"/><circle cx="407.54" cy="64.10" r="2.2"/><circle cx="409.73" cy="63.51" r="2.2"/><circle cx="411.93" cy="63.15" r="2.2"/><circle cx="414.12" cy="64.09" r="2.2"/><circle cx="416.31" cy="62.93" r="2.2"/><circle cx="418.50" cy="61.22" r="2.2"/><circle cx="420.69" cy="61.87" r="2.2"/><circle cx="422.88" cy="62.06" r="2.2"/><circle cx="425.07" cy="60.09" r="2.2"/><circle cx="427.27" cy="58.88" r="2.2"/><circle cx="429.46" cy="58.31" r="2.2"/><circle cx="431.65" cy="58.97" r="2.2"/><circle cx="433.84" cy="59.10" r="2.2"/><circle cx="436.03" cy="57.85" r="2.2"/><circle cx="438.23" cy="56.01" r="2.2"/><circle cx="440.42" cy="53.17" r="2.2"/><circle cx="442.61" cy="50.51" r="2.2"/><circle cx="444.80" cy="47.33" r="2.2"/></g>
<g clip-path="url(#cpc)"><path d="M341.79,54.47 L342.89,55.51 L343.98,57.07 L345.08,58.56 L346.18,59.90 L347.27,61.23 L348.37,62.58 L349.46,63.98 L350.56,65.41 L351.65,66.85 L352.75,68.26 L353.85,69.76 L354.94,71.24 L356.04,72.46 L357.13,73.27 L358.23,73.91 L359.32,74.42 L360.42,74.80 L361.52,75.06 L362.61,75.28 L363.71,75.51 L364.80,75.86 L365.90,76.40 L367.00,76.97 L368.09,77.41 L369.19,77.54 L370.28,77.54 L371.38,77.54 L372.48,77.54 L373.57,77.09 L374.67,75.97 L375.76,75.23 L376.86,74.65 L377.95,74.13 L379.05,73.63 L380.15,73.14 L381.24,72.60 L382.34,72.06 L383.43,71.52 L384.53,70.98 L385.62,70.44 L386.72,69.89 L387.82,69.33 L388.91,68.76 L390.01,68.19 L391.10,67.63 L392.20,67.07 L393.30,66.51 L394.39,65.94 L395.49,65.37 L396.58,64.83 L397.68,64.33 L398.78,63.90 L399.87,63.51 L400.97,63.16 L402.06,62.81 L403.16,62.46 L404.25,62.08 L405.35,61.62 L406.45,61.12 L407.54,60.66 L408.64,60.33 L409.73,60.20 L410.83,60.26 L411.93,60.42 L413.02,60.65 L414.12,60.91 L415.21,61.17 L416.31,61.45 L417.40,61.78 L418.50,62.14 L419.60,62.53 L420.69,62.91 L421.79,63.28 L422.88,63.64 L423.98,64.01 L425.07,64.38 L426.17,64.75 L427.27,65.12 L428.36,65.49 L429.46,65.86 L430.55,66.23 L431.65,66.59 L432.75,66.96 L433.84,67.31 L434.94,67.66 L436.03,68.01 L437.13,68.36 L438.23,68.72 L439.32,69.09 L440.42,69.47 L441.51,69.85 L442.61,70.24 L443.70,70.64 L444.80,71.04" fill="none" stroke="#0000ff" stroke-width="2.6" stroke-linejoin="round"/><path d="M341.79,58.29 L342.89,61.21 L343.98,65.05 L345.08,69.53 L346.18,72.87 L347.27,75.06 L348.37,76.85 L349.46,78.55 L350.56,80.10 L351.65,81.49 L352.75,82.85 L353.85,84.15 L354.94,85.09 L356.04,85.52 L357.13,85.78 L358.23,85.98 L359.32,86.16 L360.42,86.38 L361.52,86.69 L362.61,87.00 L363.71,87.20 L364.80,87.19 L365.90,86.99 L367.00,86.66 L368.09,86.23 L369.19,85.29 L370.28,83.86 L371.38,82.17 L372.48,80.35 L373.57,78.08 L374.67,75.66 L375.76,73.33 L376.86,70.91 L377.95,68.59 L379.05,66.59 L380.15,64.85 L381.24,63.27 L382.34,61.81 L383.43,60.46 L384.53,59.14 L385.62,57.78 L386.72,56.56 L387.82,55.67 L388.91,55.23 L390.01,54.92 L391.10,54.68 L392.20,54.53 L393.30,54.47 L394.39,54.81 L395.49,55.66 L396.58,56.75 L397.68,57.89 L398.78,59.57 L399.87,61.27 L400.97,62.24 L402.06,62.57 L403.16,62.83 L404.25,63.01 L405.35,63.12 L406.45,63.13 L407.54,63.05 L408.64,62.91 L409.73,62.70 L410.83,62.46 L411.93,62.17 L413.02,61.51 L414.12,60.51 L415.21,59.46 L416.31,58.63 L417.40,58.29 L418.50,58.29 L419.60,58.29 L420.69,58.29 L421.79,58.33 L422.88,58.76 L423.98,59.51 L425.07,60.39 L426.17,61.22 L427.27,62.04 L428.36,62.95 L429.46,63.87 L430.55,64.73 L431.65,65.49 L432.75,66.22 L433.84,66.90 L434.94,67.53 L436.03,68.08 L437.13,68.55 L438.23,68.96 L439.32,69.36 L440.42,69.79 L441.51,70.28 L442.61,70.81 L443.70,71.35 L444.80,71.93" fill="none" stroke="#ff0000" stroke-width="2.6" stroke-linejoin="round"/></g>
<rect x="313.30" y="4.00" width="131.50" height="114.70" fill="none" stroke="#777" stroke-width="0.9"/>
<path d="M339.60,118.70v-1.3M339.60,4.00v1.3M365.90,118.70v-1.3M365.90,4.00v1.3M392.20,118.70v-1.3M392.20,4.00v1.3M418.50,118.70v-1.3M418.50,4.00v1.3M313.30,93.21h1.3M444.80,93.21h-1.3M313.30,67.72h1.3M444.80,67.72h-1.3M313.30,42.23h1.3M444.80,42.23h-1.3M313.30,16.74h1.3M444.80,16.74h-1.3" stroke="#777" stroke-width="0.8" fill="none"/>
<g font-family="Liberation Sans, sans-serif" font-size="7.6" fill="#1a1a1a" stroke="#1a1a1a" stroke-width="0.15"><text x="310.70" y="121.70" text-anchor="end">-4</text><text x="310.70" y="96.21" text-anchor="end">-2</text><text x="310.70" y="70.72" text-anchor="end">0</text><text x="310.70" y="45.23" text-anchor="end">2</text><text x="310.70" y="19.74" text-anchor="end">4</text><text x="313.30" y="128.30" text-anchor="middle">0</text><text x="339.60" y="128.30" text-anchor="middle">12</text><text x="365.90" y="128.30" text-anchor="middle">24</text><text x="392.20" y="128.30" text-anchor="middle">36</text><text x="418.50" y="128.30" text-anchor="middle">48</text><text x="444.80" y="128.30" text-anchor="middle">60</text><text x="315.80" y="118.30">1987/01</text><text x="386.28" y="118.30" text-anchor="middle">1989/12</text><text x="443.60" y="118.30" text-anchor="end">1991/12</text><text x="315.90" y="12.70">1988-89 La Nina</text></g>
<text x="301.10" y="6.80" font-family="Liberation Sans, sans-serif" font-size="7.6" font-weight="bold" fill="#1a1a1a" stroke="#1a1a1a" stroke-width="0.15">(c)</text>
<g clip-path="url(#cpd)"><line x1="485.30" y1="4.00" x2="485.30" y2="118.70" stroke="#e4e4e4" stroke-width="0.6"/><line x1="511.60" y1="4.00" x2="511.60" y2="118.70" stroke="#e4e4e4" stroke-width="0.6"/><line x1="537.90" y1="4.00" x2="537.90" y2="118.70" stroke="#e4e4e4" stroke-width="0.6"/><line x1="564.20" y1="4.00" x2="564.20" y2="118.70" stroke="#e4e4e4" stroke-width="0.6"/><path d="M487.49,42.19 L489.68,48.47 L491.88,55.15 L494.07,62.59 L496.26,72.48 L498.45,83.64 L500.64,88.66 L502.83,91.98 L505.02,94.38 L507.22,96.38 L509.41,97.41 L511.60,98.13 L513.79,98.29 L515.98,97.09 L518.17,95.79 L520.37,94.49 L522.56,90.61 L524.75,86.19 L526.94,82.76 L529.13,79.74 L531.33,77.56 L533.52,74.87 L535.71,72.47 L537.90,69.72 L540.09,68.20 L542.28,64.57 L544.48,58.25 L546.67,54.88 L548.86,54.33 L551.05,53.39 L553.24,52.19 L555.43,50.16 L557.62,48.24 L559.82,48.29 L562.01,48.73 L564.20,50.33 L566.39,52.30 L568.58,53.19 L570.77,55.08 L572.97,58.71 L575.16,62.91 L577.35,68.38 L579.54,72.68 L581.73,75.05 L583.92,76.26 L586.12,77.30 L588.31,79.37 L590.50,82.59" fill="none" stroke="#7d7dff" stroke-width="0.6" stroke-opacity="0.9"/><path d="M487.49,33.52 L489.68,38.91 L491.88,44.82 L494.07,51.30 L496.26,60.75 L498.45,71.72 L500.64,75.43 L502.83,77.04 L505.02,78.99 L507.22,82.09 L509.41,85.61 L511.60,88.94 L513.79,91.88 L515.98,93.82 L518.17,94.76 L520.37,94.72 L522.56,93.68 L524.75,92.53 L526.94,91.89 L529.13,91.05 L531.33,88.57 L533.52,86.40 L535.71,86.96 L537.90,88.28 L540.09,89.08 L542.28,87.97 L544.48,84.54 L546.67,82.11 L548.86,80.69 L551.05,78.93 L553.24,77.05 L555.43,76.32 L557.62,74.88 L559.82,71.03 L562.01,66.40 L564.20,62.92 L566.39,60.76 L568.58,58.02 L570.77,58.96 L572.97,62.60 L575.16,65.20 L577.35,67.29 L579.54,70.37 L581.73,71.96 L583.92,70.75 L586.12,71.95 L588.31,76.79 L590.50,81.85" fill="none" stroke="#7d7dff" stroke-width="0.6" stroke-opacity="0.9"/><path d="M487.49,38.08 L489.68,44.01 L491.88,50.24 L494.07,56.44 L496.26,66.01 L498.45,78.22 L500.64,83.54 L502.83,86.79 L505.02,88.77 L507.22,90.25 L509.41,91.18 L511.60,90.35 L513.79,88.79 L515.98,86.98 L518.17,85.85 L520.37,86.63 L522.56,86.82 L524.75,83.97 L526.94,81.41 L529.13,81.78 L531.33,81.68 L533.52,80.66 L535.71,78.77 L537.90,75.69 L540.09,74.31 L542.28,75.83 L544.48,75.51 L546.67,73.02 L548.86,68.45 L551.05,63.71 L553.24,62.83 L555.43,64.24 L557.62,63.13 L559.82,59.87 L562.01,59.95 L564.20,61.45 L566.39,59.69 L568.58,58.21 L570.77,58.05 L572.97,59.12 L575.16,59.90 L577.35,60.09 L579.54,57.60 L581.73,55.57 L583.92,58.12 L586.12,63.38 L588.31,69.08 L590.50,73.28" fill="none" stroke="#7d7dff" stroke-width="0.6" stroke-opacity="0.9"/><path d="M487.49,38.85 L489.68,44.49 L491.88,51.32 L494.07,58.78 L496.26,67.86 L498.45,78.51 L500.64,83.17 L502.83,85.37 L505.02,86.05 L507.22,87.35 L509.41,88.65 L511.60,88.88 L513.79,88.29 L515.98,87.00 L518.17,85.96 L520.37,85.79 L522.56,83.28 L524.75,78.94 L526.94,75.23 L529.13,72.69 L531.33,72.71 L533.52,74.01 L535.71,75.35 L537.90,77.06 L540.09,79.51 L542.28,82.14 L544.48,80.70 L546.67,75.13 L548.86,68.92 L551.05,64.85 L553.24,60.68 L555.43,54.13 L557.62,49.25 L559.82,48.66 L562.01,48.88 L564.20,49.83 L566.39,54.03 L568.58,60.40 L570.77,65.15 L572.97,64.94 L575.16,63.57 L577.35,63.28 L579.54,61.70 L581.73,59.80 L583.92,59.42 L586.12,60.39 L588.31,62.85 L590.50,67.07" fill="none" stroke="#7d7dff" stroke-width="0.6" stroke-opacity="0.9"/><path d="M487.49,37.14 L489.68,42.94 L491.88,49.53 L494.07,56.86 L496.26,68.05 L498.45,81.42 L500.64,87.53 L502.83,91.10 L505.02,94.08 L507.22,96.72 L509.41,98.29 L511.60,98.75 L513.79,98.51 L515.98,97.30 L518.17,94.47 L520.37,90.75 L522.56,87.64 L524.75,84.22 L526.94,78.42 L529.13,71.14 L531.33,64.51 L533.52,59.79 L535.71,55.57 L537.90,53.58 L540.09,54.10 L542.28,55.56 L544.48,58.69 L546.67,62.23 L548.86,62.75 L551.05,61.54 L553.24,60.90 L555.43,61.54 L557.62,60.30 L559.82,55.35 L562.01,51.21 L564.20,51.12 L566.39,53.25 L568.58,54.77 L570.77,56.59 L572.97,59.61 L575.16,61.05 L577.35,59.28 L579.54,57.70 L581.73,58.85 L583.92,61.44 L586.12,65.01 L588.31,68.90 L590.50,73.08" fill="none" stroke="#7d7dff" stroke-width="0.6" stroke-opacity="0.9"/><path d="M487.49,33.85 L489.68,38.32 L491.88,43.88 L494.07,50.45 L496.26,59.56 L498.45,70.45 L500.64,75.19 L502.83,78.01 L505.02,79.70 L507.22,81.80 L509.41,83.51 L511.60,84.41 L513.79,84.36 L515.98,83.84 L518.17,82.71 L520.37,81.65 L522.56,80.46 L524.75,77.92 L526.94,77.01 L529.13,76.53 L531.33,73.86 L533.52,70.76 L535.71,68.74 L537.90,67.69 L540.09,68.01 L542.28,68.18 L544.48,67.85 L546.67,66.93 L548.86,64.78 L551.05,64.48 L553.24,63.63 L555.43,62.08 L557.62,62.28 L559.82,63.55 L562.01,63.21 L564.20,62.65 L566.39,61.58 L568.58,58.10 L570.77,57.29 L572.97,59.21 L575.16,61.42 L577.35,63.95 L579.54,65.70 L581.73,68.09 L583.92,69.45 L586.12,69.56 L588.31,70.79 L590.50,73.55" fill="none" stroke="#7d7dff" stroke-width="0.6" stroke-opacity="0.9"/><path d="M487.49,39.51 L489.68,45.95 L491.88,52.92 L494.07,60.62 L496.26,70.46 L498.45,81.11 L500.64,84.94 L502.83,87.39 L505.02,89.63 L507.22,92.25 L509.41,94.35 L511.60,94.42 L513.79,94.74 L515.98,95.09 L518.17,93.08 L520.37,90.70 L522.56,87.56 L524.75,81.80 L526.94,75.01 L529.13,69.13 L531.33,64.66 L533.52,60.19 L535.71,55.21 L537.90,51.72 L540.09,48.75 L542.28,46.55 L544.48,46.44 L546.67,49.09 L548.86,52.48 L551.05,54.08 L553.24,55.98 L555.43,58.41 L557.62,61.62 L559.82,64.65 L562.01,65.49 L564.20,66.74 L566.39,67.86 L568.58,66.95 L570.77,66.78 L572.97,66.79 L575.16,66.29 L577.35,63.86 L579.54,61.27 L581.73,60.56 L583.92,62.86 L586.12,66.83 L588.31,70.75 L590.50,73.69" fill="none" stroke="#7d7dff" stroke-width="0.6" stroke-opacity="0.9"/><path d="M487.49,38.15 L489.68,44.23 L491.88,50.94 L494.07,57.61 L496.26,66.57 L498.45,77.75 L500.64,82.65 L502.83,85.56 L505.02,87.96 L507.22,90.59 L509.41,92.23 L511.60,92.09 L513.79,90.35 L515.98,87.54 L518.17,85.92 L520.37,85.08 L522.56,80.39 L524.75,73.69 L526.94,68.40 L529.13,62.96 L531.33,58.80 L533.52,58.05 L535.71,57.45 L537.90,54.80 L540.09,51.64 L542.28,51.33 L544.48,51.85 L546.67,49.31 L548.86,46.05 L551.05,44.77 L553.24,43.12 L555.43,40.80 L557.62,41.44 L559.82,43.17 L562.01,43.69 L564.20,47.69 L566.39,55.44 L568.58,60.98 L570.77,61.79 L572.97,60.48 L575.16,60.88 L577.35,58.99 L579.54,54.80 L581.73,53.41 L583.92,51.09 L586.12,51.38 L588.31,55.72 L590.50,62.32" fill="none" stroke="#7d7dff" stroke-width="0.6" stroke-opacity="0.9"/><path d="M487.49,34.98 L489.68,40.84 L491.88,47.42 L494.07,54.48 L496.26,64.16 L498.45,75.96 L500.64,82.07 L502.83,86.19 L505.02,88.98 L507.22,92.85 L509.41,96.82 L511.60,99.40 L513.79,99.94 L515.98,98.87 L518.17,98.16 L520.37,95.96 L522.56,89.68 L524.75,84.06 L526.94,79.91 L529.13,73.76 L531.33,68.78 L533.52,64.76 L535.71,62.82 L537.90,62.41 L540.09,60.03 L542.28,58.99 L544.48,60.23 L546.67,60.14 L548.86,58.93 L551.05,57.29 L553.24,56.93 L555.43,58.46 L557.62,59.40 L559.82,59.60 L562.01,58.65 L564.20,60.45 L566.39,60.89 L568.58,58.72 L570.77,58.27 L572.97,57.18 L575.16,59.48 L577.35,65.44 L579.54,68.30 L581.73,69.93 L583.92,72.68 L586.12,75.71 L588.31,80.41 L590.50,83.46" fill="none" stroke="#7d7dff" stroke-width="0.6" stroke-opacity="0.9"/><path d="M487.49,41.94 L489.68,49.00 L491.88,56.68 L494.07,60.90 L496.26,65.54 L498.45,78.01 L500.64,87.30 L502.83,93.09 L505.02,94.42 L507.22,93.06 L509.41,93.54 L511.60,95.80 L513.79,92.37 L515.98,85.73 L518.17,82.48 L520.37,79.29 L522.56,77.78 L524.75,78.95 L526.94,81.86 L529.13,83.10 L531.33,84.20 L533.52,85.28 L535.71,84.31 L537.90,84.17 L540.09,83.25 L542.28,80.44 L544.48,77.34 L546.67,76.08 L548.86,75.91 L551.05,75.17 L553.24,75.63 L555.43,76.71 L557.62,74.64 L559.82,70.31 L562.01,68.61 L564.20,66.77 L566.39,61.60 L568.58,57.52 L570.77,56.57 L572.97,56.18 L575.16,55.05 L577.35,53.09 L579.54,52.72 L581.73,52.62 L583.92,53.50 L586.12,55.64 L588.31,55.23 L590.50,55.19" fill="none" stroke="#ff7d7d" stroke-width="0.6" stroke-opacity="0.9"/><path d="M487.49,38.75 L489.68,44.28 L491.88,50.57 L494.07,54.34 L496.26,58.89 L498.45,70.93 L500.64,81.06 L502.83,89.27 L505.02,93.83 L507.22,95.65 L509.41,97.12 L511.60,98.15 L513.79,96.31 L515.98,89.56 L518.17,82.13 L520.37,76.28 L522.56,71.80 L524.75,70.35 L526.94,72.51 L529.13,72.53 L531.33,72.92 L533.52,77.72 L535.71,83.49 L537.90,86.40 L540.09,88.36 L542.28,87.62 L544.48,84.14 L546.67,80.16 L548.86,75.81 L551.05,73.67 L553.24,74.31 L555.43,75.73 L557.62,78.04 L559.82,81.05 L562.01,83.73 L564.20,84.13 L566.39,82.68 L568.58,78.11 L570.77,73.98 L572.97,72.82 L575.16,69.92 L577.35,65.50 L579.54,59.62 L581.73,54.55 L583.92,50.02 L586.12,49.12 L588.31,52.85 L590.50,56.28" fill="none" stroke="#ff7d7d" stroke-width="0.6" stroke-opacity="0.9"/><path d="M487.49,41.47 L489.68,46.75 L491.88,52.16 L494.07,53.33 L496.26,54.21 L498.45,63.64 L500.64,70.22 L502.83,72.54 L505.02,71.88 L507.22,69.53 L509.41,70.18 L511.60,73.12 L513.79,72.97 L515.98,69.70 L518.17,67.64 L520.37,67.00 L522.56,68.28 L524.75,69.90 L526.94,71.50 L529.13,70.97 L531.33,69.63 L533.52,69.67 L535.71,69.59 L537.90,69.67 L540.09,71.63 L542.28,72.67 L544.48,72.32 L546.67,72.76 L548.86,74.39 L551.05,76.69 L553.24,79.03 L555.43,79.51 L557.62,78.28 L559.82,75.34 L562.01,72.91 L564.20,70.22 L566.39,68.08 L568.58,65.03 L570.77,64.16 L572.97,64.88 L575.16,62.84 L577.35,61.40 L579.54,62.01 L581.73,62.50 L583.92,63.84 L586.12,63.23 L588.31,60.28 L590.50,58.73" fill="none" stroke="#ff7d7d" stroke-width="0.6" stroke-opacity="0.9"/><path d="M487.49,39.98 L489.68,45.52 L491.88,52.75 L494.07,57.34 L496.26,61.08 L498.45,72.58 L500.64,81.16 L502.83,85.23 L505.02,86.48 L507.22,86.40 L509.41,89.28 L511.60,93.99 L513.79,92.79 L515.98,88.60 L518.17,87.97 L520.37,87.58 L522.56,88.56 L524.75,86.74 L526.94,82.51 L529.13,80.56 L531.33,78.98 L533.52,77.20 L535.71,75.56 L537.90,73.45 L540.09,71.66 L542.28,72.20 L544.48,74.12 L546.67,75.89 L548.86,78.94 L551.05,82.38 L553.24,86.73 L555.43,89.30 L557.62,89.24 L559.82,88.45 L562.01,89.37 L564.20,90.34 L566.39,88.09 L568.58,81.78 L570.77,77.33 L572.97,77.30 L575.16,77.66 L577.35,77.41 L579.54,77.15 L581.73,78.97 L583.92,84.57 L586.12,88.90 L588.31,90.77 L590.50,95.07" fill="none" stroke="#ff7d7d" stroke-width="0.6" stroke-opacity="0.9"/><path d="M487.49,43.27 L489.68,50.29 L491.88,59.02 L494.07,63.68 L496.26,67.62 L498.45,79.87 L500.64,88.46 L502.83,92.83 L505.02,94.85 L507.22,95.48 L509.41,97.86 L511.60,101.92 L513.79,100.82 L515.98,94.05 L518.17,90.90 L520.37,89.66 L522.56,87.61 L524.75,83.65 L526.94,79.97 L529.13,78.24 L531.33,77.03 L533.52,75.38 L535.71,73.34 L537.90,72.06 L540.09,71.59 L542.28,71.68 L544.48,73.84 L546.67,73.71 L548.86,71.42 L551.05,72.12 L553.24,73.35 L555.43,69.68 L557.62,64.38 L559.82,62.01 L562.01,60.97 L564.20,57.63 L566.39,54.51 L568.58,49.28 L570.77,45.19 L572.97,44.67 L575.16,44.32 L577.35,42.75 L579.54,42.05 L581.73,43.18 L583.92,44.84 L586.12,45.43 L588.31,45.35 L590.50,45.47" fill="none" stroke="#ff7d7d" stroke-width="0.6" stroke-opacity="0.9"/><path d="M487.49,44.30 L489.68,51.05 L491.88,58.23 L494.07,61.37 L496.26,64.35 L498.45,74.90 L500.64,82.18 L502.83,85.90 L505.02,87.05 L507.22,85.87 L509.41,85.02 L511.60,86.19 L513.79,83.40 L515.98,78.88 L518.17,77.90 L520.37,77.70 L522.56,76.16 L524.75,72.88 L526.94,70.15 L529.13,67.99 L531.33,68.44 L533.52,69.53 L535.71,66.13 L537.90,61.18 L540.09,60.66 L542.28,62.28 L544.48,62.13 L546.67,61.73 L548.86,62.10 L551.05,62.88 L553.24,63.12 L555.43,62.87 L557.62,62.17 L559.82,59.86 L562.01,58.51 L564.20,59.60 L566.39,60.97 L568.58,62.46 L570.77,65.36 L572.97,67.23 L575.16,67.43 L577.35,66.03 L579.54,65.96 L581.73,67.10 L583.92,66.39 L586.12,65.79 L588.31,68.53 L590.50,70.97" fill="none" stroke="#ff7d7d" stroke-width="0.6" stroke-opacity="0.9"/><path d="M487.49,42.17 L489.68,48.79 L491.88,57.07 L494.07,62.13 L496.26,67.04 L498.45,79.29 L500.64,88.32 L502.83,93.53 L505.02,96.42 L507.22,97.76 L509.41,99.61 L511.60,101.67 L513.79,99.69 L515.98,93.69 L518.17,88.26 L520.37,81.15 L522.56,72.97 L524.75,67.25 L526.94,63.96 L529.13,60.58 L531.33,58.82 L533.52,59.48 L535.71,62.06 L537.90,65.76 L540.09,67.19 L542.28,66.39 L544.48,67.06 L546.67,68.18 L548.86,67.86 L551.05,68.47 L553.24,68.87 L555.43,70.34 L557.62,74.43 L559.82,77.78 L562.01,79.78 L564.20,78.65 L566.39,75.22 L568.58,71.77 L570.77,68.95 L572.97,64.87 L575.16,60.55 L577.35,58.29 L579.54,56.66 L581.73,54.70 L583.92,54.38 L586.12,54.90 L588.31,58.52 L590.50,62.15" fill="none" stroke="#ff7d7d" stroke-width="0.6" stroke-opacity="0.9"/><path d="M487.49,41.68 L489.68,47.35 L491.88,53.47 L494.07,56.39 L496.26,59.68 L498.45,71.88 L500.64,79.57 L502.83,81.92 L505.02,82.58 L507.22,83.03 L509.41,84.24 L511.60,84.85 L513.79,81.08 L515.98,74.16 L518.17,68.64 L520.37,64.43 L522.56,61.28 L524.75,58.15 L526.94,53.40 L529.13,45.55 L531.33,43.41 L533.52,46.83 L535.71,50.04 L537.90,53.19 L540.09,57.65 L542.28,61.66 L544.48,62.70 L546.67,61.37 L548.86,62.39 L551.05,64.65 L553.24,65.17 L555.43,67.27 L557.62,71.06 L559.82,76.60 L562.01,82.19 L564.20,83.83 L566.39,83.97 L568.58,83.70 L570.77,82.92 L572.97,80.51 L575.16,77.37 L577.35,74.19 L579.54,70.50 L581.73,66.89 L583.92,64.49 L586.12,64.92 L588.31,68.27 L590.50,71.02" fill="none" stroke="#ff7d7d" stroke-width="0.6" stroke-opacity="0.9"/><path d="M487.49,44.30 L489.68,51.09 L491.88,58.36 L494.07,60.44 L496.26,60.90 L498.45,69.62 L500.64,76.54 L502.83,79.65 L505.02,80.95 L507.22,82.50 L509.41,87.00 L511.60,94.21 L513.79,98.07 L515.98,97.48 L518.17,97.33 L520.37,94.19 L522.56,88.95 L524.75,84.08 L526.94,79.60 L529.13,74.39 L531.33,72.45 L533.52,73.88 L535.71,71.86 L537.90,70.64 L540.09,72.87 L542.28,74.23 L544.48,75.58 L546.67,77.90 L548.86,78.21 L551.05,76.16 L553.24,76.04 L555.43,78.06 L557.62,75.97 L559.82,74.08 L562.01,77.25 L564.20,81.99 L566.39,83.97 L568.58,82.51 L570.77,81.50 L572.97,81.66 L575.16,82.11 L577.35,79.53 L579.54,76.55 L581.73,74.17 L583.92,71.80 L586.12,72.43 L588.31,73.64 L590.50,73.72" fill="none" stroke="#ff7d7d" stroke-width="0.6" stroke-opacity="0.9"/><path d="M487.49,41.80 L489.68,48.44 L491.88,56.36 L494.07,61.45 L496.26,66.50 L498.45,79.02 L500.64,88.07 L502.83,93.09 L505.02,95.48 L507.22,91.83 L509.41,86.64 L511.60,82.90 L513.79,77.92 L515.98,68.71 L518.17,57.53 L520.37,47.06 L522.56,47.62 L524.75,57.53 L526.94,61.36 L529.13,64.12 L531.33,69.03 L533.52,74.17 L535.71,74.52 L537.90,74.19 L540.09,74.22 L542.28,73.62 L544.48,71.91 L546.67,70.88 L548.86,71.08 L551.05,71.19 L553.24,70.46 L555.43,69.35 L557.62,68.67 L559.82,69.73 L562.01,70.91 L564.20,71.81 L566.39,74.37 L568.58,77.04 L570.77,77.96 L572.97,76.63 L575.16,73.49 L577.35,69.81 L579.54,65.50 L581.73,63.25 L583.92,62.40 L586.12,61.55 L588.31,61.89 L590.50,64.29" fill="none" stroke="#ff7d7d" stroke-width="0.6" stroke-opacity="0.9"/><path d="M487.49,41.64 L489.68,48.28 L491.88,56.26 L494.07,60.59 L496.26,72.24 L498.45,84.71 L500.64,88.96 L502.83,93.21 L505.02,97.71 L507.22,102.20 L509.41,105.96 L511.60,109.29 L513.79,111.05 L515.98,108.22 L518.17,101.99 L520.37,95.76 L522.56,90.66 L524.75,85.56 L526.94,79.78 L529.13,76.92 L531.33,75.94 L533.52,76.70 L535.71,75.37 L537.90,70.95 L540.09,68.70 L542.28,68.95 L544.48,68.32 L546.67,66.26 L548.86,65.27 L551.05,66.69 L553.24,67.02 L555.43,66.51 L557.62,68.41 L559.82,71.74 L562.01,74.54 L564.20,75.49 L566.39,75.61 L568.58,74.78 L570.77,72.66 L572.97,70.66 L575.16,69.26 L577.35,66.42 L579.54,64.83 L581.73,64.52 L583.92,64.54 L586.12,66.19 L588.31,66.99 L590.50,68.76" fill="none" stroke="#ff7d7d" stroke-width="0.6" stroke-opacity="0.9"/><path d="M487.49,35.89 L489.68,41.55 L491.88,48.02 L494.07,54.57 L496.26,63.32 L498.45,73.90 L500.64,77.88 L502.83,80.65 L505.02,82.79 L507.22,84.89 L509.41,86.61 L511.60,88.24 L513.79,89.09 L515.98,88.51 L518.17,87.62 L520.37,86.43 L522.56,84.01 L524.75,80.34 L526.94,76.48 L529.13,73.05 L531.33,69.86 L533.52,66.83 L535.71,65.24 L537.90,64.49 L540.09,63.64 L542.28,62.14 L544.48,59.91 L546.67,60.01 L548.86,56.96 L551.05,52.71 L553.24,48.61 L555.43,44.07 L557.62,39.68 L559.82,37.14 L562.01,36.24 L564.20,35.86 L566.39,38.65 L568.58,44.55 L570.77,49.88 L572.97,53.58 L575.16,57.00 L577.35,60.04 L579.54,64.91 L581.73,67.46 L583.92,66.91 L586.12,65.98 L588.31,65.63 L590.50,67.04" fill="none" stroke="#7d7dff" stroke-width="0.6" stroke-opacity="0.9"/><path d="M461.19,72.59 L463.38,69.95 L465.57,66.86 L467.77,63.52 L469.96,60.13 L472.15,56.81 L474.34,53.67 L476.53,50.47 L478.73,46.79 L480.92,43.52 L483.11,41.34 L485.30,38.54 L487.49,45.66 L489.68,52.86 L491.88,62.41 L494.07,70.16 L496.26,74.11 L498.45,77.88 L500.64,81.03 L502.83,83.04 L505.02,84.53 L507.22,87.08 L509.41,90.66 L511.60,94.42 L513.79,92.79 L515.98,89.21 L518.17,84.20 L520.37,79.38 L522.56,76.48 L524.75,71.95 L526.94,71.31 L529.13,71.26 L531.33,73.54 L533.52,75.68 L535.71,76.98 L537.90,77.64 L540.09,75.41 L542.28,73.04 L544.48,72.92 L546.67,75.49 L548.86,78.25 L551.05,80.27 L553.24,81.49 L555.43,82.33 L557.62,83.02 L559.82,83.57 L562.01,84.59 L564.20,86.63 L566.39,89.13 L568.58,80.14 L570.77,75.75 L572.97,72.50 L575.16,69.46 L577.35,66.58 L579.54,63.89 L581.73,61.35 L583.92,58.19 L586.12,56.42 L588.31,55.61 L590.50,57.53" fill="none" stroke="#111" stroke-width="1.2"/></g>
<g fill="#000"><circle cx="461.19" cy="72.59" r="2.2"/><circle cx="463.38" cy="69.95" r="2.2"/><circle cx="465.57" cy="66.86" r="2.2"/><circle cx="467.77" cy="63.52" r="2.2"/><circle cx="469.96" cy="60.13" r="2.2"/><circle cx="472.15" cy="56.81" r="2.2"/><circle cx="474.34" cy="53.67" r="2.2"/><circle cx="476.53" cy="50.47" r="2.2"/><circle cx="478.73" cy="46.79" r="2.2"/><circle cx="480.92" cy="43.52" r="2.2"/><circle cx="483.11" cy="41.34" r="2.2"/><circle cx="485.30" cy="38.54" r="2.2"/><circle cx="487.49" cy="45.66" r="2.2"/><circle cx="489.68" cy="52.86" r="2.2"/><circle cx="491.88" cy="62.41" r="2.2"/><circle cx="494.07" cy="70.16" r="2.2"/><circle cx="496.26" cy="74.11" r="2.2"/><circle cx="498.45" cy="77.88" r="2.2"/><circle cx="500.64" cy="81.03" r="2.2"/><circle cx="502.83" cy="83.04" r="2.2"/><circle cx="505.02" cy="84.53" r="2.2"/><circle cx="507.22" cy="87.08" r="2.2"/><circle cx="509.41" cy="90.66" r="2.2"/><circle cx="511.60" cy="94.42" r="2.2"/><circle cx="513.79" cy="92.79" r="2.2"/><circle cx="515.98" cy="89.21" r="2.2"/><circle cx="518.17" cy="84.20" r="2.2"/><circle cx="520.37" cy="79.38" r="2.2"/><circle cx="522.56" cy="76.48" r="2.2"/><circle cx="524.75" cy="71.95" r="2.2"/><circle cx="526.94" cy="71.31" r="2.2"/><circle cx="529.13" cy="71.26" r="2.2"/><circle cx="531.33" cy="73.54" r="2.2"/><circle cx="533.52" cy="75.68" r="2.2"/><circle cx="535.71" cy="76.98" r="2.2"/><circle cx="537.90" cy="77.64" r="2.2"/><circle cx="540.09" cy="75.41" r="2.2"/><circle cx="542.28" cy="73.04" r="2.2"/><circle cx="544.48" cy="72.92" r="2.2"/><circle cx="546.67" cy="75.49" r="2.2"/><circle cx="548.86" cy="78.25" r="2.2"/><circle cx="551.05" cy="80.27" r="2.2"/><circle cx="553.24" cy="81.49" r="2.2"/><circle cx="555.43" cy="82.33" r="2.2"/><circle cx="557.62" cy="83.02" r="2.2"/><circle cx="559.82" cy="83.57" r="2.2"/><circle cx="562.01" cy="84.59" r="2.2"/><circle cx="564.20" cy="86.63" r="2.2"/><circle cx="566.39" cy="89.13" r="2.2"/><circle cx="568.58" cy="80.14" r="2.2"/><circle cx="570.77" cy="75.75" r="2.2"/><circle cx="572.97" cy="72.50" r="2.2"/><circle cx="575.16" cy="69.46" r="2.2"/><circle cx="577.35" cy="66.58" r="2.2"/><circle cx="579.54" cy="63.89" r="2.2"/><circle cx="581.73" cy="61.35" r="2.2"/><circle cx="583.92" cy="58.19" r="2.2"/><circle cx="586.12" cy="56.42" r="2.2"/><circle cx="588.31" cy="55.61" r="2.2"/><circle cx="590.50" cy="57.53" r="2.2"/></g>
<g clip-path="url(#cpd)"><path d="M487.49,36.82 L488.59,39.41 L489.68,42.64 L490.78,45.75 L491.88,49.12 L492.97,52.61 L494.07,56.01 L495.16,59.81 L496.26,65.32 L497.35,72.44 L498.45,76.26 L499.55,78.81 L500.64,80.75 L501.74,82.28 L502.83,83.51 L503.93,84.53 L505.02,85.45 L506.12,86.39 L507.22,87.34 L508.31,88.18 L509.41,88.75 L510.50,89.13 L511.60,89.45 L512.70,89.62 L513.79,89.58 L514.89,89.24 L515.98,88.72 L517.08,88.15 L518.17,87.64 L519.27,87.21 L520.37,86.71 L521.46,85.99 L522.56,84.75 L523.65,83.13 L524.75,81.37 L525.85,79.69 L526.94,78.31 L528.04,77.11 L529.13,75.98 L530.23,74.92 L531.33,73.93 L532.42,73.00 L533.52,72.14 L534.61,71.35 L535.71,70.61 L536.80,69.89 L537.90,69.17 L539.00,68.42 L540.09,67.68 L541.19,66.94 L542.28,66.21 L543.38,65.48 L544.48,64.76 L545.57,64.02 L546.67,63.29 L547.76,62.57 L548.86,61.87 L549.95,61.22 L551.05,60.60 L552.15,59.99 L553.24,59.40 L554.34,58.86 L555.43,58.38 L556.53,57.93 L557.62,57.45 L558.72,57.00 L559.82,56.64 L560.91,56.42 L562.01,56.41 L563.10,56.70 L564.20,57.23 L565.30,57.92 L566.39,58.69 L567.49,59.47 L568.58,60.49 L569.68,61.68 L570.77,62.78 L571.87,63.60 L572.97,64.30 L574.06,64.93 L575.16,65.50 L576.25,66.04 L577.35,66.54 L578.45,67.01 L579.54,67.45 L580.64,67.89 L581.73,68.32 L582.83,68.73 L583.92,69.14 L585.02,69.59 L586.12,70.11 L587.21,70.69 L588.31,71.35 L589.40,72.06 L590.50,72.82" fill="none" stroke="#0000ff" stroke-width="2.6" stroke-linejoin="round"/><path d="M487.49,41.60 L488.59,44.24 L489.68,47.48 L490.78,50.86 L491.88,54.54 L492.97,57.14 L494.07,58.49 L495.16,59.72 L496.26,62.13 L497.35,67.56 L498.45,73.42 L499.55,77.82 L500.64,81.72 L501.74,84.30 L502.83,86.05 L503.93,87.30 L505.02,87.91 L506.12,88.20 L507.22,88.43 L508.31,88.75 L509.41,89.50 L510.50,90.56 L511.60,91.38 L512.70,91.34 L513.79,89.37 L514.89,86.44 L515.98,83.91 L517.08,82.10 L518.17,80.43 L519.27,78.88 L520.37,77.45 L521.46,76.13 L522.56,74.95 L523.65,73.86 L524.75,72.82 L525.85,71.78 L526.94,70.68 L528.04,69.29 L529.13,67.81 L530.23,66.58 L531.33,65.96 L532.42,65.94 L533.52,65.94 L534.61,65.94 L535.71,65.94 L536.80,65.98 L537.90,66.38 L539.00,67.07 L540.09,67.84 L541.19,68.52 L542.28,68.92 L543.38,69.16 L544.48,69.36 L545.57,69.52 L546.67,69.68 L547.76,69.85 L548.86,70.03 L549.95,70.19 L551.05,70.35 L552.15,70.53 L553.24,70.75 L554.34,71.04 L555.43,71.50 L556.53,72.08 L557.62,72.71 L558.72,73.31 L559.82,73.80 L560.91,74.28 L562.01,74.77 L563.10,75.20 L564.20,75.51 L565.30,75.62 L566.39,75.39 L567.49,74.78 L568.58,73.98 L569.68,73.13 L570.77,72.34 L571.87,71.43 L572.97,70.47 L574.06,69.53 L575.16,68.71 L576.25,67.92 L577.35,67.15 L578.45,66.49 L579.54,66.01 L580.64,65.69 L581.73,65.42 L582.83,65.20 L583.92,65.07 L585.02,65.07 L586.12,65.26 L587.21,65.56 L588.31,65.88 L589.40,66.16 L590.50,66.45" fill="none" stroke="#ff0000" stroke-width="2.6" stroke-linejoin="round"/></g>
<rect x="459.00" y="4.00" width="131.50" height="114.70" fill="none" stroke="#777" stroke-width="0.9"/>
<path d="M485.30,118.70v-1.3M485.30,4.00v1.3M511.60,118.70v-1.3M511.60,4.00v1.3M537.90,118.70v-1.3M537.90,4.00v1.3M564.20,118.70v-1.3M564.20,4.00v1.3M459.00,93.21h1.3M590.50,93.21h-1.3M459.00,67.72h1.3M590.50,67.72h-1.3M459.00,42.23h1.3M590.50,42.23h-1.3M459.00,16.74h1.3M590.50,16.74h-1.3" stroke="#777" stroke-width="0.8" fill="none"/>
<g font-family="Liberation Sans, sans-serif" font-size="7.6" fill="#1a1a1a" stroke="#1a1a1a" stroke-width="0.15"><text x="456.40" y="121.70" text-anchor="end">-4</text><text x="456.40" y="96.21" text-anchor="end">-2</text><text x="456.40" y="70.72" text-anchor="end">0</text><text x="456.40" y="45.23" text-anchor="end">2</text><text x="456.40" y="19.74" text-anchor="end">4</text><text x="459.00" y="128.30" text-anchor="middle">0</text><text x="485.30" y="128.30" text-anchor="middle">12</text><text x="511.60" y="128.30" text-anchor="middle">24</text><text x="537.90" y="128.30" text-anchor="middle">36</text><text x="564.20" y="128.30" text-anchor="middle">48</text><text x="590.50" y="128.30" text-anchor="middle">60</text><text x="461.50" y="118.30">1972/01</text><text x="531.98" y="118.30" text-anchor="middle">1974/12</text><text x="589.30" y="118.30" text-anchor="end">1976/12</text><text x="461.60" y="12.70">1973-74 La Nina</text></g>
<text x="446.80" y="6.80" font-family="Liberation Sans, sans-serif" font-size="7.6" font-weight="bold" fill="#1a1a1a" stroke="#1a1a1a" stroke-width="0.15">(d)</text>
<g clip-path="url(#cpe)"><line x1="47.90" y1="144.40" x2="47.90" y2="259.10" stroke="#e4e4e4" stroke-width="0.6"/><line x1="74.20" y1="144.40" x2="74.20" y2="259.10" stroke="#e4e4e4" stroke-width="0.6"/><line x1="100.50" y1="144.40" x2="100.50" y2="259.10" stroke="#e4e4e4" stroke-width="0.6"/><line x1="126.80" y1="144.40" x2="126.80" y2="259.10" stroke="#e4e4e4" stroke-width="0.6"/><path d="M23.79,221.50 L25.98,216.31 L28.18,212.83 L30.37,212.06 L32.56,210.45 L34.75,209.28 L36.94,210.21 L39.13,211.31 L41.33,213.98 L43.52,217.77 L45.71,220.87 L47.90,222.83 L50.09,222.59 L52.28,220.88 L54.48,218.92 L56.67,216.03 L58.86,212.90 L61.05,210.34 L63.24,207.77 L65.43,204.29 L67.62,200.70 L69.82,201.58 L72.01,207.32 L74.20,211.36 L76.39,210.74 L78.58,209.88 L80.78,210.16 L82.97,210.31 L85.16,210.74 L87.35,213.55 L89.54,215.75 L91.73,214.85 L93.93,213.66 L96.12,211.25 L98.31,208.49 L100.50,207.85 L102.69,209.37 L104.88,209.68 L107.08,207.48 L109.27,205.62 L111.46,204.37 L113.65,201.44 L115.84,198.96 L118.03,198.87 L120.22,199.47 L122.42,198.66 L124.61,199.43 L126.80,203.72 L128.99,206.86 L131.18,207.35 L133.38,209.69 L135.57,213.98 L137.76,217.46 L139.95,218.18 L142.14,216.51 L144.33,216.44 L146.53,215.57 L148.72,212.88 L150.91,211.85 L153.10,213.46" fill="none" stroke="#7d7dff" stroke-width="0.6" stroke-opacity="0.9"/><path d="M23.79,220.37 L25.98,214.36 L28.18,210.74 L30.37,209.08 L32.56,209.73 L34.75,212.78 L36.94,215.41 L39.13,218.78 L41.33,220.74 L43.52,220.12 L45.71,221.63 L47.90,223.79 L50.09,221.65 L52.28,218.08 L54.48,217.86 L56.67,218.30 L58.86,216.62 L61.05,216.29 L63.24,215.56 L65.43,212.63 L67.62,209.10 L69.82,206.13 L72.01,204.74 L74.20,204.06 L76.39,203.05 L78.58,202.01 L80.78,201.19 L82.97,202.72 L85.16,208.26 L87.35,215.61 L89.54,220.93 L91.73,222.43 L93.93,223.29 L96.12,226.36 L98.31,227.73 L100.50,224.70 L102.69,217.82 L104.88,209.63 L107.08,200.94 L109.27,190.87 L111.46,182.94 L113.65,177.75 L115.84,174.37 L118.03,171.94 L120.22,168.69 L122.42,168.06 L124.61,168.27 L126.80,169.44 L128.99,174.18 L131.18,178.84 L133.38,182.12 L135.57,187.53 L137.76,193.45 L139.95,197.71 L142.14,201.59 L144.33,204.95 L146.53,208.51 L148.72,210.58 L150.91,212.51 L153.10,214.59" fill="none" stroke="#7d7dff" stroke-width="0.6" stroke-opacity="0.9"/><path d="M23.79,225.37 L25.98,222.30 L28.18,221.13 L30.37,222.04 L32.56,220.48 L34.75,215.12 L36.94,210.98 L39.13,209.91 L41.33,209.35 L43.52,208.28 L45.71,209.92 L47.90,213.47 L50.09,215.57 L52.28,218.18 L54.48,219.40 L56.67,218.71 L58.86,219.54 L61.05,221.67 L63.24,223.62 L65.43,222.24 L67.62,220.28 L69.82,219.95 L72.01,221.32 L74.20,222.48 L76.39,221.16 L78.58,219.31 L80.78,215.57 L82.97,213.50 L85.16,214.22 L87.35,213.84 L89.54,210.83 L91.73,207.16 L93.93,203.12 L96.12,198.12 L98.31,193.47 L100.50,190.94 L102.69,189.45 L104.88,188.19 L107.08,188.03 L109.27,187.88 L111.46,189.97 L113.65,194.84 L115.84,199.62 L118.03,202.30 L120.22,202.77 L122.42,203.65 L124.61,206.18 L126.80,207.12 L128.99,205.30 L131.18,203.18 L133.38,203.03 L135.57,203.90 L137.76,203.02 L139.95,202.19 L142.14,199.51 L144.33,196.66 L146.53,196.45 L148.72,196.52 L150.91,197.76 L153.10,201.87" fill="none" stroke="#7d7dff" stroke-width="0.6" stroke-opacity="0.9"/><path d="M23.79,227.12 L25.98,223.64 L28.18,221.28 L30.37,221.17 L32.56,222.80 L34.75,221.53 L36.94,217.75 L39.13,214.95 L41.33,214.06 L43.52,213.66 L45.71,212.77 L47.90,212.70 L50.09,212.98 L52.28,212.55 L54.48,210.61 L56.67,208.16 L58.86,207.98 L61.05,207.75 L63.24,206.87 L65.43,206.02 L67.62,205.03 L69.82,205.26 L72.01,207.43 L74.20,209.25 L76.39,210.59 L78.58,212.23 L80.78,212.67 L82.97,212.38 L85.16,211.64 L87.35,208.83 L89.54,203.03 L91.73,198.06 L93.93,196.21 L96.12,194.70 L98.31,192.94 L100.50,191.39 L102.69,191.63 L104.88,193.40 L107.08,194.87 L109.27,197.67 L111.46,201.24 L113.65,204.71 L115.84,207.18 L118.03,208.40 L120.22,210.15 L122.42,209.78 L124.61,204.33 L126.80,200.10 L128.99,197.42 L131.18,193.48 L133.38,192.16 L135.57,193.23 L137.76,193.19 L139.95,193.67 L142.14,193.72 L144.33,195.11 L146.53,198.52 L148.72,201.81 L150.91,204.19 L153.10,206.96" fill="none" stroke="#7d7dff" stroke-width="0.6" stroke-opacity="0.9"/><path d="M23.79,226.29 L25.98,223.11 L28.18,219.10 L30.37,215.36 L32.56,213.70 L34.75,213.47 L36.94,212.45 L39.13,210.77 L41.33,210.54 L43.52,211.46 L45.71,212.19 L47.90,214.58 L50.09,214.76 L52.28,211.13 L54.48,209.97 L56.67,210.98 L58.86,210.41 L61.05,209.13 L63.24,208.22 L65.43,206.39 L67.62,203.80 L69.82,201.66 L72.01,198.15 L74.20,195.85 L76.39,195.96 L78.58,197.03 L80.78,197.75 L82.97,197.95 L85.16,197.71 L87.35,195.49 L89.54,191.70 L91.73,189.95 L93.93,187.26 L96.12,185.39 L98.31,184.79 L100.50,184.29 L102.69,185.59 L104.88,186.87 L107.08,188.68 L109.27,190.39 L111.46,191.32 L113.65,192.28 L115.84,192.75 L118.03,194.72 L120.22,200.68 L122.42,204.42 L124.61,202.86 L126.80,200.19 L128.99,197.99 L131.18,197.53 L133.38,197.39 L135.57,196.93 L137.76,196.44 L139.95,195.29 L142.14,193.28 L144.33,190.62 L146.53,189.27 L148.72,190.18 L150.91,192.34 L153.10,192.51" fill="none" stroke="#7d7dff" stroke-width="0.6" stroke-opacity="0.9"/><path d="M23.79,226.81 L25.98,222.27 L28.18,218.72 L30.37,217.92 L32.56,216.51 L34.75,213.26 L36.94,211.36 L39.13,209.72 L41.33,209.71 L43.52,210.88 L45.71,209.26 L47.90,208.26 L50.09,207.49 L52.28,205.88 L54.48,207.13 L56.67,208.92 L58.86,207.21 L61.05,204.31 L63.24,204.48 L65.43,205.22 L67.62,204.35 L69.82,203.15 L72.01,202.16 L74.20,201.79 L76.39,202.20 L78.58,204.78 L80.78,206.54 L82.97,204.45 L85.16,200.91 L87.35,200.87 L89.54,202.10 L91.73,199.44 L93.93,193.15 L96.12,187.48 L98.31,184.27 L100.50,183.63 L102.69,186.54 L104.88,189.24 L107.08,191.00 L109.27,192.86 L111.46,197.36 L113.65,201.95 L115.84,202.99 L118.03,204.22 L120.22,205.64 L122.42,204.03 L124.61,201.83 L126.80,201.24 L128.99,200.48 L131.18,199.28 L133.38,197.23 L135.57,195.99 L137.76,195.45 L139.95,195.04 L142.14,194.20 L144.33,191.39 L146.53,189.34 L148.72,191.02 L150.91,193.33 L153.10,197.42" fill="none" stroke="#7d7dff" stroke-width="0.6" stroke-opacity="0.9"/><path d="M23.79,226.98 L25.98,222.21 L28.18,218.81 L30.37,216.74 L32.56,214.78 L34.75,214.39 L36.94,213.33 L39.13,211.08 L41.33,210.40 L43.52,210.75 L45.71,209.45 L47.90,206.66 L50.09,203.91 L52.28,201.70 L54.48,199.02 L56.67,196.72 L58.86,195.16 L61.05,194.80 L63.24,196.87 L65.43,198.07 L67.62,196.46 L69.82,193.71 L72.01,192.25 L74.20,194.31 L76.39,197.87 L78.58,201.83 L80.78,205.02 L82.97,207.28 L85.16,211.00 L87.35,216.74 L89.54,220.95 L91.73,221.86 L93.93,220.82 L96.12,217.20 L98.31,213.77 L100.50,212.97 L102.69,208.80 L104.88,200.05 L107.08,192.09 L109.27,184.31 L111.46,178.10 L113.65,174.76 L115.84,171.67 L118.03,169.39 L120.22,170.89 L122.42,171.69 L124.61,172.11 L126.80,175.34 L128.99,180.51 L131.18,182.97 L133.38,183.21 L135.57,184.05 L137.76,184.13 L139.95,186.78 L142.14,190.97 L144.33,192.03 L146.53,191.57 L148.72,190.23 L150.91,189.67 L153.10,192.08" fill="none" stroke="#7d7dff" stroke-width="0.6" stroke-opacity="0.9"/><path d="M23.79,225.06 L25.98,220.18 L28.18,216.95 L30.37,216.29 L32.56,216.17 L34.75,214.11 L36.94,209.64 L39.13,206.22 L41.33,204.84 L43.52,203.39 L45.71,200.76 L47.90,197.95 L50.09,194.59 L52.28,191.24 L54.48,189.33 L56.67,189.53 L58.86,192.02 L61.05,193.90 L63.24,195.64 L65.43,200.15 L67.62,205.67 L69.82,208.30 L72.01,207.37 L74.20,205.58 L76.39,205.19 L78.58,206.32 L80.78,208.11 L82.97,208.84 L85.16,207.24 L87.35,204.33 L89.54,202.09 L91.73,199.37 L93.93,198.18 L96.12,197.12 L98.31,196.36 L100.50,196.33 L102.69,195.56 L104.88,196.27 L107.08,198.52 L109.27,200.95 L111.46,203.09 L113.65,205.85 L115.84,206.78 L118.03,207.02 L120.22,209.17 L122.42,210.66 L124.61,209.41 L126.80,205.94 L128.99,202.07 L131.18,199.94 L133.38,200.86 L135.57,202.61 L137.76,201.86 L139.95,201.60 L142.14,202.75 L144.33,204.51 L146.53,205.51 L148.72,205.59 L150.91,204.31 L153.10,204.58" fill="none" stroke="#7d7dff" stroke-width="0.6" stroke-opacity="0.9"/><path d="M23.79,224.36 L25.98,221.64 L28.18,220.23 L30.37,220.11 L32.56,219.94 L34.75,217.53 L36.94,214.77 L39.13,211.08 L41.33,206.24 L43.52,203.28 L45.71,202.52 L47.90,200.78 L50.09,199.08 L52.28,200.50 L54.48,203.36 L56.67,204.94 L58.86,205.05 L61.05,207.84 L63.24,211.48 L65.43,210.97 L67.62,207.95 L69.82,207.28 L72.01,208.18 L74.20,208.51 L76.39,208.44 L78.58,208.92 L80.78,209.04 L82.97,210.19 L85.16,215.53 L87.35,219.19 L89.54,217.50 L91.73,217.43 L93.93,218.59 L96.12,216.95 L98.31,213.30 L100.50,209.77 L102.69,207.50 L104.88,205.00 L107.08,201.73 L109.27,199.21 L111.46,199.17 L113.65,199.61 L115.84,198.10 L118.03,194.18 L120.22,190.77 L122.42,189.75 L124.61,187.97 L126.80,187.72 L128.99,190.83 L131.18,192.28 L133.38,191.38 L135.57,192.30 L137.76,192.31 L139.95,190.68 L142.14,188.03 L144.33,183.41 L146.53,177.65 L148.72,174.75 L150.91,175.28 L153.10,179.25" fill="none" stroke="#7d7dff" stroke-width="0.6" stroke-opacity="0.9"/><path d="M23.79,222.39 L25.98,218.37 L28.18,216.51 L30.37,213.51 L32.56,211.10 L34.75,208.20 L36.94,206.34 L39.13,208.07 L41.33,209.19 L43.52,209.89 L45.71,210.99 L47.90,210.66 L50.09,208.60 L52.28,205.82 L54.48,203.12 L56.67,199.64 L58.86,195.09 L61.05,192.92 L63.24,194.68 L65.43,197.86 L67.62,200.48 L69.82,201.08 L72.01,203.51 L74.20,207.80 L76.39,210.06 L78.58,210.24 L80.78,210.83 L82.97,211.05 L85.16,212.12 L87.35,214.69 L89.54,219.14 L91.73,219.71 L93.93,220.70 L96.12,222.59 L98.31,223.63 L100.50,222.80 L102.69,223.07 L104.88,224.71 L107.08,225.63 L109.27,227.74 L111.46,231.21 L113.65,232.45 L115.84,229.71 L118.03,229.72 L120.22,231.07 L122.42,229.15 L124.61,223.59 L126.80,219.91 L128.99,221.47 L131.18,224.54 L133.38,226.41 L135.57,223.91 L137.76,223.51 L139.95,228.27 L142.14,230.24 L144.33,227.33 L146.53,225.29 L148.72,224.60 L150.91,223.92 L153.10,220.00" fill="none" stroke="#ff7d7d" stroke-width="0.6" stroke-opacity="0.9"/><path d="M23.79,216.10 L25.98,208.16 L28.18,202.99 L30.37,198.86 L32.56,196.47 L34.75,196.33 L36.94,197.74 L39.13,198.26 L41.33,198.13 L43.52,198.05 L45.71,200.50 L47.90,203.57 L50.09,204.27 L52.28,205.29 L54.48,207.05 L56.67,209.71 L58.86,209.71 L61.05,209.31 L63.24,215.32 L65.43,221.20 L67.62,224.51 L69.82,228.64 L72.01,231.41 L74.20,233.87 L76.39,233.54 L78.58,230.24 L80.78,225.87 L82.97,217.55 L85.16,210.32 L87.35,203.38 L89.54,198.11 L91.73,197.66 L93.93,202.24 L96.12,204.87 L98.31,204.35 L100.50,203.15 L102.69,204.75 L104.88,207.21 L107.08,208.92 L109.27,207.48 L111.46,204.19 L113.65,203.73 L115.84,203.43 L118.03,202.35 L120.22,201.72 L122.42,202.74 L124.61,204.33 L126.80,207.73 L128.99,211.91 L131.18,215.69 L133.38,219.24 L135.57,223.04 L137.76,226.91 L139.95,234.33 L142.14,244.00 L144.33,247.37 L146.53,243.88 L148.72,241.16 L150.91,241.93 L153.10,238.12" fill="none" stroke="#ff7d7d" stroke-width="0.6" stroke-opacity="0.9"/><path d="M23.79,216.60 L25.98,208.18 L28.18,203.87 L30.37,198.68 L32.56,191.58 L34.75,185.01 L36.94,181.99 L39.13,183.48 L41.33,186.85 L43.52,188.27 L45.71,191.83 L47.90,197.51 L50.09,200.45 L52.28,200.41 L54.48,198.28 L56.67,192.53 L58.86,186.54 L61.05,183.96 L63.24,183.92 L65.43,184.28 L67.62,184.63 L69.82,185.93 L72.01,190.76 L74.20,197.23 L76.39,202.02 L78.58,205.80 L80.78,207.90 L82.97,207.21 L85.16,207.20 L87.35,205.00 L89.54,206.25 L91.73,209.75 L93.93,210.34 L96.12,208.21 L98.31,205.73 L100.50,203.12 L102.69,198.99 L104.88,195.36 L107.08,193.22 L109.27,188.57 L111.46,183.11 L113.65,179.38 L115.84,177.28 L118.03,179.84 L120.22,184.86 L122.42,185.27 L124.61,183.07 L126.80,183.89 L128.99,186.45 L131.18,189.23 L133.38,191.65 L135.57,194.77 L137.76,197.16 L139.95,201.49 L142.14,208.21 L144.33,214.55 L146.53,217.23 L148.72,221.46 L150.91,229.04 L153.10,234.19" fill="none" stroke="#ff7d7d" stroke-width="0.6" stroke-opacity="0.9"/><path d="M23.79,217.07 L25.98,208.82 L28.18,203.39 L30.37,198.10 L32.56,192.57 L34.75,188.84 L36.94,189.95 L39.13,189.41 L41.33,187.93 L43.52,188.66 L45.71,190.05 L47.90,192.72 L50.09,195.65 L52.28,197.11 L54.48,195.16 L56.67,192.19 L58.86,193.38 L61.05,193.71 L63.24,193.47 L65.43,198.31 L67.62,204.16 L69.82,205.74 L72.01,205.58 L74.20,204.91 L76.39,205.15 L78.58,206.84 L80.78,207.73 L82.97,205.78 L85.16,201.85 L87.35,197.91 L89.54,196.09 L91.73,196.09 L93.93,198.64 L96.12,200.30 L98.31,200.40 L100.50,200.58 L102.69,199.04 L104.88,198.74 L107.08,199.99 L109.27,200.61 L111.46,199.41 L113.65,200.62 L115.84,204.43 L118.03,205.37 L120.22,206.14 L122.42,212.16 L124.61,219.26 L126.80,226.15 L128.99,233.08 L131.18,238.04 L133.38,238.92 L135.57,237.19 L137.76,230.91 L139.95,224.03 L142.14,220.44 L144.33,214.45 L146.53,205.99 L148.72,195.36 L150.91,184.18 L153.10,178.81" fill="none" stroke="#ff7d7d" stroke-width="0.6" stroke-opacity="0.9"/><path d="M23.79,218.72 L25.98,211.10 L28.18,207.74 L30.37,204.29 L32.56,201.38 L34.75,199.64 L36.94,196.23 L39.13,194.83 L41.33,196.49 L43.52,196.15 L45.71,195.90 L47.90,197.19 L50.09,198.27 L52.28,196.62 L54.48,193.51 L56.67,191.91 L58.86,188.76 L61.05,185.66 L63.24,185.18 L65.43,184.72 L67.62,182.92 L69.82,181.59 L72.01,183.90 L74.20,190.57 L76.39,197.82 L78.58,205.01 L80.78,213.54 L82.97,219.31 L85.16,222.16 L87.35,225.42 L89.54,232.06 L91.73,236.17 L93.93,236.44 L96.12,236.22 L98.31,235.48 L100.50,234.32 L102.69,236.96 L104.88,240.95 L107.08,239.77 L109.27,235.78 L111.46,232.98 L113.65,228.15 L115.84,218.32 L118.03,210.34 L120.22,206.31 L122.42,205.19 L124.61,203.96 L126.80,201.40 L128.99,198.83 L131.18,196.98 L133.38,197.18 L135.57,199.17 L137.76,198.12 L139.95,193.20 L142.14,191.18 L144.33,190.84 L146.53,187.13 L148.72,182.15 L150.91,180.27 L153.10,180.44" fill="none" stroke="#ff7d7d" stroke-width="0.6" stroke-opacity="0.9"/><path d="M23.79,216.98 L25.98,209.20 L28.18,206.00 L30.37,205.22 L32.56,207.10 L34.75,211.58 L36.94,217.68 L39.13,226.16 L41.33,232.13 L43.52,235.75 L45.71,235.13 L47.90,228.09 L50.09,217.74 L52.28,208.81 L54.48,205.76 L56.67,207.04 L58.86,203.88 L61.05,195.30 L63.24,190.74 L65.43,192.05 L67.62,197.20 L69.82,201.73 L72.01,206.99 L74.20,214.04 L76.39,220.42 L78.58,225.01 L80.78,228.81 L82.97,228.17 L85.16,227.15 L87.35,223.20 L89.54,217.61 L91.73,214.17 L93.93,210.59 L96.12,206.66 L98.31,202.48 L100.50,199.80 L102.69,197.46 L104.88,191.73 L107.08,187.00 L109.27,184.13 L111.46,182.32 L113.65,182.48 L115.84,185.14 L118.03,189.60 L120.22,193.97 L122.42,196.81 L124.61,198.46 L126.80,202.70 L128.99,209.28 L131.18,214.08 L133.38,215.45 L135.57,217.94 L137.76,220.02 L139.95,219.80 L142.14,222.78 L144.33,226.30 L146.53,228.24 L148.72,229.14 L150.91,229.25 L153.10,232.44" fill="none" stroke="#ff7d7d" stroke-width="0.6" stroke-opacity="0.9"/><path d="M23.79,214.36 L25.98,205.02 L28.18,198.81 L30.37,195.70 L32.56,193.65 L34.75,190.27 L36.94,186.44 L39.13,186.68 L41.33,188.45 L43.52,186.01 L45.71,185.47 L47.90,187.81 L50.09,191.08 L52.28,194.44 L54.48,197.37 L56.67,196.92 L58.86,197.51 L61.05,199.29 L63.24,199.94 L65.43,201.02 L67.62,201.64 L69.82,203.01 L72.01,208.89 L74.20,212.61 L76.39,213.45 L78.58,217.66 L80.78,223.59 L82.97,221.63 L85.16,216.92 L87.35,212.74 L89.54,208.98 L91.73,209.22 L93.93,210.42 L96.12,213.02 L98.31,215.86 L100.50,214.49 L102.69,212.07 L104.88,209.14 L107.08,207.04 L109.27,205.10 L111.46,200.90 L113.65,197.06 L115.84,194.16 L118.03,193.26 L120.22,194.60 L122.42,197.70 L124.61,202.67 L126.80,211.49 L128.99,219.14 L131.18,224.42 L133.38,227.81 L135.57,231.27 L137.76,234.09 L139.95,232.98 L142.14,229.00 L144.33,223.73 L146.53,222.76 L148.72,226.88 L150.91,231.93 L153.10,232.68" fill="none" stroke="#ff7d7d" stroke-width="0.6" stroke-opacity="0.9"/><path d="M23.79,213.54 L25.98,204.82 L28.18,200.78 L30.37,197.99 L32.56,195.69 L34.75,195.03 L36.94,194.91 L39.13,193.43 L41.33,191.90 L43.52,190.00 L45.71,190.68 L47.90,194.78 L50.09,198.38 L52.28,202.68 L54.48,208.47 L56.67,213.70 L58.86,216.11 L61.05,213.94 L63.24,215.80 L65.43,221.19 L67.62,222.43 L69.82,221.16 L72.01,222.38 L74.20,223.42 L76.39,220.29 L78.58,216.95 L80.78,214.32 L82.97,209.53 L85.16,204.64 L87.35,199.36 L89.54,193.02 L91.73,187.03 L93.93,184.38 L96.12,183.09 L98.31,183.20 L100.50,182.86 L102.69,181.94 L104.88,181.54 L107.08,182.57 L109.27,180.12 L111.46,176.73 L113.65,179.46 L115.84,182.98 L118.03,183.68 L120.22,182.23 L122.42,182.37 L124.61,184.92 L126.80,190.92 L128.99,199.61 L131.18,208.42 L133.38,219.82 L135.57,230.86 L137.76,237.09 L139.95,238.24 L142.14,237.32 L144.33,235.93 L146.53,232.14 L148.72,226.60 L150.91,223.74 L153.10,223.93" fill="none" stroke="#ff7d7d" stroke-width="0.6" stroke-opacity="0.9"/><path d="M23.79,219.50 L25.98,212.45 L28.18,207.94 L30.37,205.27 L32.56,204.84 L34.75,205.19 L36.94,207.52 L39.13,211.78 L41.33,215.56 L43.52,220.25 L45.71,222.77 L47.90,222.59 L50.09,223.30 L52.28,224.88 L54.48,226.25 L56.67,227.61 L58.86,227.45 L61.05,226.16 L63.24,225.73 L65.43,226.26 L67.62,224.30 L69.82,221.16 L72.01,216.57 L74.20,211.73 L76.39,208.89 L78.58,206.06 L80.78,203.38 L82.97,198.46 L85.16,195.06 L87.35,194.16 L89.54,196.12 L91.73,198.24 L93.93,196.84 L96.12,195.80 L98.31,197.50 L100.50,201.41 L102.69,203.72 L104.88,207.93 L107.08,210.25 L109.27,206.23 L111.46,204.46 L113.65,206.82 L115.84,207.29 L118.03,205.20 L120.22,202.99 L122.42,202.44 L124.61,199.36 L126.80,197.03 L128.99,197.82 L131.18,200.62 L133.38,203.25 L135.57,203.54 L137.76,204.75 L139.95,204.71 L142.14,203.96 L144.33,203.75 L146.53,203.07 L148.72,199.40 L150.91,194.58 L153.10,194.27" fill="none" stroke="#ff7d7d" stroke-width="0.6" stroke-opacity="0.9"/><path d="M23.79,215.62 L25.98,207.43 L28.18,203.39 L30.37,201.39 L32.56,200.54 L34.75,199.69 L36.94,198.90 L39.13,200.73 L41.33,203.66 L43.52,205.95 L45.71,208.45 L47.90,205.50 L50.09,196.07 L52.28,191.63 L54.48,187.15 L56.67,182.63 L58.86,176.97 L61.05,171.99 L63.24,171.97 L65.43,176.86 L67.62,182.63 L69.82,187.55 L72.01,192.64 L74.20,196.08 L76.39,195.92 L78.58,196.95 L80.78,197.42 L82.97,195.17 L85.16,192.79 L87.35,191.08 L89.54,191.24 L91.73,192.78 L93.93,193.00 L96.12,191.79 L98.31,190.47 L100.50,189.52 L102.69,188.35 L104.88,187.68 L107.08,189.47 L109.27,191.42 L111.46,191.93 L113.65,190.59 L115.84,191.54 L118.03,195.16 L120.22,198.29 L122.42,200.68 L124.61,203.16 L126.80,206.54 L128.99,210.19 L131.18,213.93 L133.38,217.03 L135.57,219.14 L137.76,221.73 L139.95,224.35 L142.14,222.39 L144.33,216.29 L146.53,214.56 L148.72,216.87 L150.91,218.44 L153.10,218.57" fill="none" stroke="#ff7d7d" stroke-width="0.6" stroke-opacity="0.9"/><path d="M23.79,219.52 L25.98,210.50 L28.18,202.42 L30.37,197.28 L32.56,192.83 L34.75,188.78 L36.94,185.19 L39.13,182.63 L41.33,180.82 L43.52,179.39 L45.71,178.81 L47.90,181.12 L50.09,185.42 L52.28,187.73 L54.48,187.34 L56.67,186.38 L58.86,185.18 L61.05,182.99 L63.24,180.19 L65.43,178.81 L67.62,181.01 L69.82,185.75 L72.01,190.28 L74.20,193.71 L76.39,196.99 L78.58,200.10 L80.78,210.04 L82.97,216.08 L85.16,214.87 L87.35,214.53 L89.54,214.30 L91.73,213.15 L93.93,212.19 L96.12,210.61 L98.31,207.26 L100.50,204.27 L102.69,200.90 L104.88,198.28 L107.08,198.41 L109.27,198.06 L111.46,198.52 L113.65,200.38 L115.84,201.91 L118.03,203.33 L120.22,205.13 L122.42,206.05 L124.61,205.87 L126.80,204.59 L128.99,203.73 L131.18,206.08 L133.38,207.73 L135.57,207.71 L137.76,208.02 L139.95,209.94 L142.14,211.90 L144.33,212.91 L146.53,215.74 L148.72,217.80 L150.91,217.11 L153.10,215.81" fill="none" stroke="#ff7d7d" stroke-width="0.6" stroke-opacity="0.9"/><path d="M23.79,219.79 L25.98,213.70 L28.18,208.49 L30.37,201.88 L32.56,198.47 L34.75,195.38 L36.94,192.10 L39.13,189.07 L41.33,187.73 L43.52,189.71 L45.71,193.40 L47.90,195.38 L50.09,194.33 L52.28,192.15 L54.48,190.28 L56.67,188.99 L58.86,187.75 L61.05,186.82 L63.24,186.46 L65.43,188.40 L67.62,192.60 L69.82,196.65 L72.01,199.76 L74.20,202.74 L76.39,211.14 L78.58,219.79 L80.78,221.95 L82.97,221.37 L85.16,220.64 L87.35,218.81 L89.54,216.62 L91.73,214.09 L93.93,210.14 L96.12,204.24 L98.31,199.40 L100.50,196.57 L102.69,195.22 L104.88,195.49 L107.08,196.32 L109.27,198.60 L111.46,200.86 L113.65,200.45 L115.84,199.93 L118.03,200.08 L120.22,199.32 L122.42,198.73 L124.61,199.37 L126.80,201.02 L128.99,202.39 L131.18,202.36 L133.38,202.40 L135.57,203.23 L137.76,205.72 L139.95,207.80 L142.14,207.12 L144.33,207.12 L146.53,207.00 L148.72,205.16 L150.91,205.01 L153.10,207.34" fill="none" stroke="#ff7d7d" stroke-width="0.6" stroke-opacity="0.9"/><path d="M23.79,220.55 L25.98,214.39 L28.18,210.96 L30.37,208.03 L32.56,205.20 L34.75,202.09 L36.94,198.99 L39.13,197.00 L41.33,197.49 L43.52,198.59 L45.71,199.52 L47.90,199.25 L50.09,197.39 L52.28,197.72 L54.48,198.69 L56.67,198.63 L58.86,199.38 L61.05,199.66 L63.24,201.57 L65.43,203.84 L67.62,205.58 L69.82,209.13 L72.01,212.68 L74.20,213.70 L76.39,214.88 L78.58,217.70 L80.78,218.23 L82.97,213.73 L85.16,209.75 L87.35,205.55 L89.54,202.46 L91.73,200.52 L93.93,200.14 L96.12,198.56 L98.31,196.19 L100.50,194.18 L102.69,193.86 L104.88,195.92 L107.08,196.66 L109.27,197.93 L111.46,200.79 L113.65,202.60 L115.84,204.47 L118.03,206.60 L120.22,208.40 L122.42,210.30 L124.61,211.00 L126.80,209.20 L128.99,211.48 L131.18,217.09 L133.38,222.35 L135.57,227.24 L137.76,231.89 L139.95,236.32 L142.14,240.35 L144.33,243.81 L146.53,247.17 L148.72,249.76 L150.91,249.68 L153.10,225.13" fill="none" stroke="#ff7d7d" stroke-width="0.6" stroke-opacity="0.9"/><path d="M23.79,215.64 L25.98,214.83 L28.18,213.41 L30.37,211.12 L32.56,209.26 L34.75,207.97 L36.94,208.55 L39.13,209.89 L41.33,209.91 L43.52,209.92 L45.71,210.95 L47.90,212.50 L50.09,213.62 L52.28,208.28 L54.48,200.95 L56.67,193.47 L58.86,188.37 L61.05,184.44 L63.24,181.30 L65.43,178.66 L67.62,176.89 L69.82,175.68 L72.01,175.11 L74.20,175.47 L76.39,176.42 L78.58,179.94 L80.78,185.15 L82.97,192.71 L85.16,203.53 L87.35,212.39 L89.54,215.10 L91.73,216.41 L93.93,218.30 L96.12,221.75 L98.31,223.42 L100.50,225.96 L102.69,226.60 L104.88,224.69 L107.08,218.87 L109.27,217.67 L111.46,217.33 L113.65,218.52 L115.84,216.41 L118.03,217.00 L120.22,218.42 L122.42,221.25 L124.61,223.95 L126.80,226.61 L128.99,230.04 L131.18,227.04 L133.38,221.93 L135.57,216.66 L137.76,216.25 L139.95,215.40 L142.14,213.26 L144.33,210.74 L146.53,211.29 L148.72,213.43 L150.91,215.60 L153.10,217.68" fill="none" stroke="#111" stroke-width="1.2"/></g>
<g fill="#000"><circle cx="23.79" cy="215.64" r="2.2"/><circle cx="25.98" cy="214.83" r="2.2"/><circle cx="28.18" cy="213.41" r="2.2"/><circle cx="30.37" cy="211.12" r="2.2"/><circle cx="32.56" cy="209.26" r="2.2"/><circle cx="34.75" cy="207.97" r="2.2"/><circle cx="36.94" cy="208.55" r="2.2"/><circle cx="39.13" cy="209.89" r="2.2"/><circle cx="41.33" cy="209.91" r="2.2"/><circle cx="43.52" cy="209.92" r="2.2"/><circle cx="45.71" cy="210.95" r="2.2"/><circle cx="47.90" cy="212.50" r="2.2"/><circle cx="50.09" cy="213.62" r="2.2"/><circle cx="52.28" cy="208.28" r="2.2"/><circle cx="54.48" cy="200.95" r="2.2"/><circle cx="56.67" cy="193.47" r="2.2"/><circle cx="58.86" cy="188.37" r="2.2"/><circle cx="61.05" cy="184.44" r="2.2"/><circle cx="63.24" cy="181.30" r="2.2"/><circle cx="65.43" cy="178.66" r="2.2"/><circle cx="67.62" cy="176.89" r="2.2"/><circle cx="69.82" cy="175.68" r="2.2"/><circle cx="72.01" cy="175.11" r="2.2"/><circle cx="74.20" cy="175.47" r="2.2"/><circle cx="76.39" cy="176.42" r="2.2"/><circle cx="78.58" cy="179.94" r="2.2"/><circle cx="80.78" cy="185.15" r="2.2"/><circle cx="82.97" cy="192.71" r="2.2"/><circle cx="85.16" cy="203.53" r="2.2"/><circle cx="87.35" cy="212.39" r="2.2"/><circle cx="89.54" cy="215.10" r="2.2"/><circle cx="91.73" cy="216.41" r="2.2"/><circle cx="93.93" cy="218.30" r="2.2"/><circle cx="96.12" cy="221.75" r="2.2"/><circle cx="98.31" cy="223.42" r="2.2"/><circle cx="100.50" cy="225.96" r="2.2"/><circle cx="102.69" cy="226.60" r="2.2"/><circle cx="104.88" cy="224.69" r="2.2"/><circle cx="107.08" cy="218.87" r="2.2"/><circle cx="109.27" cy="217.67" r="2.2"/><circle cx="111.46" cy="217.33" r="2.2"/><circle cx="113.65" cy="218.52" r="2.2"/><circle cx="115.84" cy="216.41" r="2.2"/><circle cx="118.03" cy="217.00" r="2.2"/><circle cx="120.22" cy="218.42" r="2.2"/><circle cx="122.42" cy="221.25" r="2.2"/><circle cx="124.61" cy="223.95" r="2.2"/><circle cx="126.80" cy="226.61" r="2.2"/><circle cx="128.99" cy="230.04" r="2.2"/><circle cx="131.18" cy="227.04" r="2.2"/><circle cx="133.38" cy="221.93" r="2.2"/><circle cx="135.57" cy="216.66" r="2.2"/><circle cx="137.76" cy="216.25" r="2.2"/><circle cx="139.95" cy="215.40" r="2.2"/><circle cx="142.14" cy="213.26" r="2.2"/><circle cx="144.33" cy="210.74" r="2.2"/><circle cx="146.53" cy="211.29" r="2.2"/><circle cx="148.72" cy="213.43" r="2.2"/><circle cx="150.91" cy="215.60" r="2.2"/><circle cx="153.10" cy="217.68" r="2.2"/></g>
<g clip-path="url(#cpe)"><path d="M23.79,223.67 L24.89,221.12 L25.98,218.79 L27.08,216.78 L28.18,215.22 L29.27,214.14 L30.37,213.26 L31.46,212.52 L32.56,211.89 L33.65,211.34 L34.75,210.82 L35.85,210.29 L36.94,209.77 L38.04,209.32 L39.13,209.01 L40.23,208.89 L41.33,208.89 L42.42,208.89 L43.52,208.89 L44.61,208.89 L45.71,208.89 L46.80,208.87 L47.90,208.77 L49.00,208.60 L50.09,208.38 L51.19,208.14 L52.28,207.89 L53.38,207.59 L54.48,207.23 L55.57,206.81 L56.67,206.35 L57.76,205.85 L58.86,205.17 L59.95,204.34 L61.05,203.49 L62.15,202.73 L63.24,202.20 L64.34,201.89 L65.43,201.61 L66.53,201.38 L67.62,201.21 L68.72,201.12 L69.82,201.15 L70.91,201.33 L72.01,201.59 L73.10,201.87 L74.20,202.07 L75.30,202.13 L76.39,202.13 L77.49,202.13 L78.58,202.13 L79.68,202.13 L80.78,202.13 L81.87,202.22 L82.97,202.45 L84.06,202.76 L85.16,203.10 L86.25,203.42 L87.35,203.72 L88.45,204.01 L89.54,203.97 L90.64,203.61 L91.73,203.09 L92.83,202.56 L93.93,202.20 L95.02,202.13 L96.12,202.13 L97.21,202.13 L98.31,202.13 L99.40,202.13 L100.50,202.13 L101.60,202.13 L102.69,202.12 L103.79,202.03 L104.88,201.85 L105.98,201.64 L107.08,201.43 L108.17,201.25 L109.27,201.13 L110.36,201.11 L111.46,201.11 L112.55,201.11 L113.65,201.11 L114.75,201.11 L115.84,201.11 L116.94,201.11 L118.03,201.10 L119.13,201.02 L120.22,200.88 L121.32,200.70 L122.42,200.52 L123.51,200.36 L124.61,200.25 L125.70,200.22 L126.80,200.27 L127.90,200.37 L128.99,200.51 L130.09,200.70 L131.18,200.92 L132.28,201.17 L133.38,201.70 L134.47,202.46 L135.57,203.26 L136.66,203.89 L137.76,204.22 L138.85,204.51 L139.95,204.75 L141.05,204.94 L142.14,205.04 L143.24,205.06 L144.33,205.06 L145.43,205.06 L146.53,205.06 L147.62,205.06 L148.72,205.07 L149.81,205.17 L150.91,205.37 L152.00,205.65 L153.10,205.96" fill="none" stroke="#0000ff" stroke-width="2.6" stroke-linejoin="round"/><path d="M23.79,218.32 L24.89,214.08 L25.98,211.26 L27.08,209.21 L28.18,207.58 L29.27,206.10 L30.37,204.80 L31.46,203.68 L32.56,202.75 L33.65,201.99 L34.75,201.26 L35.85,200.63 L36.94,200.26 L38.04,200.29 L39.13,200.63 L40.23,201.16 L41.33,201.73 L42.42,202.22 L43.52,202.69 L44.61,203.18 L45.71,203.63 L46.80,203.99 L47.90,204.27 L49.00,204.54 L50.09,204.78 L51.19,204.96 L52.28,205.05 L53.38,205.00 L54.48,204.67 L55.57,204.16 L56.67,203.58 L57.76,203.05 L58.86,202.36 L59.95,201.63 L61.05,201.16 L62.15,201.16 L63.24,201.40 L64.34,201.79 L65.43,202.27 L66.53,202.77 L67.62,203.24 L68.72,203.72 L69.82,204.24 L70.91,204.79 L72.01,205.36 L73.10,205.96 L74.20,206.57 L75.30,207.22 L76.39,207.89 L77.49,208.60 L78.58,209.42 L79.68,210.42 L80.78,210.93 L81.87,210.53 L82.97,209.58 L84.06,208.43 L85.16,207.27 L86.25,205.81 L87.35,204.45 L88.45,203.53 L89.54,202.76 L90.64,202.06 L91.73,201.45 L92.83,200.92 L93.93,200.46 L95.02,200.07 L96.12,199.68 L97.21,199.31 L98.31,198.96 L99.40,198.67 L100.50,198.46 L101.60,198.33 L102.69,198.31 L103.79,198.31 L104.88,198.31 L105.98,198.31 L107.08,198.31 L108.17,198.31 L109.27,198.31 L110.36,198.31 L111.46,198.31 L112.55,198.31 L113.65,198.31 L114.75,198.31 L115.84,198.31 L116.94,198.31 L118.03,198.22 L119.13,198.05 L120.22,197.84 L121.32,197.64 L122.42,197.48 L123.51,197.42 L124.61,197.51 L125.70,197.77 L126.80,198.16 L127.90,198.65 L128.99,199.21 L130.09,200.07 L131.18,201.50 L132.28,203.05 L133.38,204.25 L134.47,205.25 L135.57,206.15 L136.66,206.81 L137.76,207.16 L138.85,207.39 L139.95,207.58 L141.05,207.74 L142.14,207.89 L143.24,208.07 L144.33,208.24 L145.43,208.40 L146.53,208.56 L147.62,208.73 L148.72,208.93 L149.81,209.15 L150.91,209.38 L152.00,209.64 L153.10,209.91" fill="none" stroke="#ff0000" stroke-width="2.6" stroke-linejoin="round"/></g>
<rect x="21.60" y="144.40" width="131.50" height="114.70" fill="none" stroke="#777" stroke-width="0.9"/>
<path d="M47.90,259.10v-1.3M47.90,144.40v1.3M74.20,259.10v-1.3M74.20,144.40v1.3M100.50,259.10v-1.3M100.50,144.40v1.3M126.80,259.10v-1.3M126.80,144.40v1.3M21.60,233.61h1.3M153.10,233.61h-1.3M21.60,208.12h1.3M153.10,208.12h-1.3M21.60,182.63h1.3M153.10,182.63h-1.3M21.60,157.14h1.3M153.10,157.14h-1.3" stroke="#777" stroke-width="0.8" fill="none"/>
<g font-family="Liberation Sans, sans-serif" font-size="7.6" fill="#1a1a1a" stroke="#1a1a1a" stroke-width="0.15"><text x="19.00" y="262.10" text-anchor="end">-4</text><text x="19.00" y="236.61" text-anchor="end">-2</text><text x="19.00" y="211.12" text-anchor="end">0</text><text x="19.00" y="185.63" text-anchor="end">2</text><text x="19.00" y="160.14" text-anchor="end">4</text><text x="21.60" y="268.70" text-anchor="middle">0</text><text x="47.90" y="268.70" text-anchor="middle">12</text><text x="74.20" y="268.70" text-anchor="middle">24</text><text x="100.50" y="268.70" text-anchor="middle">36</text><text x="126.80" y="268.70" text-anchor="middle">48</text><text x="153.10" y="268.70" text-anchor="middle">60</text><text x="87.35" y="277.90" text-anchor="middle">Lead time (in months)</text><text x="24.10" y="258.70">1996/01</text><text x="94.58" y="258.70" text-anchor="middle">1998/12</text><text x="151.90" y="258.70" text-anchor="end">2000/12</text><text x="0" y="0" text-anchor="middle" transform="translate(8.6,201.75) rotate(-90)">Nino 3.4 index (K)</text></g>
<text x="0.90" y="144.10" font-family="Liberation Sans, sans-serif" font-size="7.6" font-weight="bold" fill="#1a1a1a" stroke="#1a1a1a" stroke-width="0.15">(e)</text>
<g clip-path="url(#cpf)"><line x1="194.30" y1="144.40" x2="194.30" y2="259.10" stroke="#e4e4e4" stroke-width="0.6"/><line x1="220.60" y1="144.40" x2="220.60" y2="259.10" stroke="#e4e4e4" stroke-width="0.6"/><line x1="246.90" y1="144.40" x2="246.90" y2="259.10" stroke="#e4e4e4" stroke-width="0.6"/><line x1="273.20" y1="144.40" x2="273.20" y2="259.10" stroke="#e4e4e4" stroke-width="0.6"/><path d="M170.19,207.01 L172.38,209.63 L174.57,212.56 L176.77,215.78 L178.96,218.67 L181.15,221.47 L183.34,223.95 L185.53,225.45 L187.72,224.63 L189.92,223.80 L192.11,222.39 L194.30,217.39 L196.49,212.63 L198.68,209.56 L200.88,205.28 L203.07,201.22 L205.26,199.07 L207.45,199.29 L209.64,201.63 L211.83,205.95 L214.03,210.12 L216.22,213.50 L218.41,216.94 L220.60,219.67 L222.79,220.00 L224.98,218.82 L227.18,217.19 L229.37,214.44 L231.56,208.60 L233.75,199.34 L235.94,190.93 L238.13,185.75 L240.32,185.51 L242.52,187.14 L244.71,186.21 L246.90,186.05 L249.09,189.53 L251.28,193.12 L253.48,199.78 L255.67,205.47 L257.86,205.90 L260.05,204.96 L262.24,204.04 L264.43,203.08 L266.62,202.78 L268.82,203.55 L271.01,203.13 L273.20,199.97 L275.39,196.42 L277.58,192.64 L279.77,188.44 L281.97,183.46 L284.16,180.99 L286.35,181.19 L288.54,182.73 L290.73,185.87 L292.93,189.73 L295.12,193.29 L297.31,195.98 L299.50,198.12" fill="none" stroke="#7d7dff" stroke-width="0.6" stroke-opacity="0.9"/><path d="M170.19,204.69 L172.38,206.68 L174.57,209.23 L176.77,211.14 L178.96,214.07 L181.15,220.85 L183.34,226.69 L185.53,227.21 L187.72,223.42 L189.92,218.46 L192.11,212.96 L194.30,208.50 L196.49,207.89 L198.68,208.99 L200.88,210.15 L203.07,210.37 L205.26,209.79 L207.45,210.25 L209.64,212.64 L211.83,213.54 L214.03,213.26 L216.22,214.34 L218.41,214.75 L220.60,213.08 L222.79,209.53 L224.98,206.05 L227.18,198.91 L229.37,187.50 L231.56,180.49 L233.75,175.63 L235.94,171.21 L238.13,169.74 L240.32,171.56 L242.52,172.34 L244.71,168.36 L246.90,165.04 L249.09,165.05 L251.28,168.84 L253.48,177.97 L255.67,187.86 L257.86,191.65 L260.05,191.74 L262.24,193.39 L264.43,196.16 L266.62,200.32 L268.82,204.94 L271.01,207.91 L273.20,208.89 L275.39,210.53 L277.58,211.82 L279.77,213.46 L281.97,214.24 L284.16,213.38 L286.35,211.09 L288.54,208.00 L290.73,206.06 L292.93,203.94 L295.12,198.65 L297.31,194.00 L299.50,192.84" fill="none" stroke="#7d7dff" stroke-width="0.6" stroke-opacity="0.9"/><path d="M170.19,207.70 L172.38,208.70 L174.57,209.54 L176.77,211.24 L178.96,213.97 L181.15,216.12 L183.34,215.36 L185.53,213.29 L187.72,209.49 L189.92,206.23 L192.11,206.11 L194.30,207.50 L196.49,210.83 L198.68,215.05 L200.88,216.80 L203.07,216.05 L205.26,215.04 L207.45,215.38 L209.64,216.37 L211.83,219.40 L214.03,222.31 L216.22,221.33 L218.41,219.67 L220.60,217.34 L222.79,211.12 L224.98,204.27 L227.18,200.04 L229.37,197.37 L231.56,195.99 L233.75,193.39 L235.94,190.97 L238.13,189.19 L240.32,185.99 L242.52,185.12 L244.71,187.54 L246.90,189.72 L249.09,191.53 L251.28,193.94 L253.48,197.72 L255.67,200.34 L257.86,203.29 L260.05,205.81 L262.24,204.51 L264.43,203.46 L266.62,205.14 L268.82,206.25 L271.01,205.13 L273.20,202.59 L275.39,200.26 L277.58,197.34 L279.77,192.31 L281.97,189.41 L284.16,189.36 L286.35,190.54 L288.54,195.09 L290.73,199.80 L292.93,202.93 L295.12,205.25 L297.31,207.77 L299.50,210.38" fill="none" stroke="#7d7dff" stroke-width="0.6" stroke-opacity="0.9"/><path d="M170.19,206.14 L172.38,207.41 L174.57,207.31 L176.77,207.29 L178.96,207.80 L181.15,207.89 L183.34,207.23 L185.53,208.48 L187.72,209.21 L189.92,208.42 L192.11,209.79 L194.30,210.95 L196.49,209.47 L198.68,207.88 L200.88,209.84 L203.07,210.99 L205.26,208.86 L207.45,207.55 L209.64,207.13 L211.83,206.79 L214.03,204.29 L216.22,201.46 L218.41,201.38 L220.60,201.82 L222.79,203.22 L224.98,204.47 L227.18,205.87 L229.37,208.23 L231.56,210.38 L233.75,209.54 L235.94,205.38 L238.13,202.01 L240.32,202.06 L242.52,204.24 L244.71,207.49 L246.90,211.08 L249.09,215.64 L251.28,217.09 L253.48,216.16 L255.67,215.99 L257.86,211.91 L260.05,207.43 L262.24,206.52 L264.43,207.22 L266.62,209.05 L268.82,209.23 L271.01,206.88 L273.20,207.39 L275.39,209.21 L277.58,211.36 L279.77,215.10 L281.97,215.66 L284.16,215.64 L286.35,217.15 L288.54,219.79 L290.73,223.00 L292.93,224.47 L295.12,222.85 L297.31,218.47 L299.50,213.72" fill="none" stroke="#7d7dff" stroke-width="0.6" stroke-opacity="0.9"/><path d="M170.19,205.33 L172.38,203.98 L174.57,201.48 L176.77,200.52 L178.96,201.71 L181.15,202.42 L183.34,202.15 L185.53,203.20 L187.72,205.40 L189.92,205.41 L192.11,203.25 L194.30,201.76 L196.49,201.44 L198.68,198.98 L200.88,192.92 L203.07,187.05 L205.26,180.59 L207.45,174.10 L209.64,171.08 L211.83,168.21 L214.03,166.19 L216.22,167.12 L218.41,169.11 L220.60,172.89 L222.79,180.12 L224.98,187.55 L227.18,191.94 L229.37,196.51 L231.56,203.13 L233.75,207.94 L235.94,210.80 L238.13,213.03 L240.32,215.99 L242.52,218.62 L244.71,218.13 L246.90,215.01 L249.09,212.29 L251.28,207.56 L253.48,202.32 L255.67,198.82 L257.86,194.15 L260.05,189.48 L262.24,187.79 L264.43,188.32 L266.62,190.00 L268.82,191.13 L271.01,193.59 L273.20,195.37 L275.39,192.55 L277.58,188.73 L279.77,188.75 L281.97,187.12 L284.16,186.03 L286.35,187.21 L288.54,189.69 L290.73,192.15 L292.93,193.50 L295.12,195.75 L297.31,199.30 L299.50,206.33" fill="none" stroke="#7d7dff" stroke-width="0.6" stroke-opacity="0.9"/><path d="M170.19,202.83 L172.38,201.48 L174.57,200.49 L176.77,200.09 L178.96,198.95 L181.15,197.24 L183.34,196.89 L185.53,199.78 L187.72,201.23 L189.92,197.85 L192.11,194.92 L194.30,194.39 L196.49,195.39 L198.68,197.17 L200.88,200.61 L203.07,204.66 L205.26,210.04 L207.45,213.22 L209.64,212.50 L211.83,212.71 L214.03,212.29 L216.22,210.12 L218.41,209.22 L220.60,208.71 L222.79,207.42 L224.98,206.23 L227.18,205.84 L229.37,205.33 L231.56,206.83 L233.75,209.48 L235.94,210.36 L238.13,210.13 L240.32,206.91 L242.52,204.11 L244.71,203.04 L246.90,202.28 L249.09,201.72 L251.28,203.86 L253.48,208.38 L255.67,211.50 L257.86,214.16 L260.05,212.93 L262.24,210.57 L264.43,206.58 L266.62,200.27 L268.82,195.73 L271.01,191.75 L273.20,186.67 L275.39,184.41 L277.58,183.03 L279.77,180.91 L281.97,179.88 L284.16,181.56 L286.35,185.19 L288.54,188.16 L290.73,190.37 L292.93,190.62 L295.12,191.50 L297.31,190.21 L299.50,186.94" fill="none" stroke="#7d7dff" stroke-width="0.6" stroke-opacity="0.9"/><path d="M170.19,204.07 L172.38,203.84 L174.57,204.01 L176.77,204.68 L178.96,206.92 L181.15,210.86 L183.34,216.04 L185.53,218.82 L187.72,217.40 L189.92,216.85 L192.11,216.35 L194.30,214.25 L196.49,210.98 L198.68,207.45 L200.88,204.37 L203.07,200.10 L205.26,196.86 L207.45,197.18 L209.64,197.46 L211.83,198.61 L214.03,201.77 L216.22,203.44 L218.41,202.39 L220.60,202.47 L222.79,202.56 L224.98,204.39 L227.18,208.19 L229.37,205.12 L231.56,195.58 L233.75,189.04 L235.94,187.29 L238.13,186.02 L240.32,182.66 L242.52,180.45 L244.71,178.59 L246.90,174.64 L249.09,170.94 L251.28,170.35 L253.48,173.50 L255.67,177.48 L257.86,185.41 L260.05,191.00 L262.24,195.66 L264.43,202.78 L266.62,207.10 L268.82,213.34 L271.01,221.35 L273.20,223.70 L275.39,222.44 L277.58,223.17 L279.77,222.59 L281.97,217.57 L284.16,210.79 L286.35,206.78 L288.54,205.76 L290.73,204.44 L292.93,204.95 L295.12,207.62 L297.31,210.99 L299.50,215.72" fill="none" stroke="#7d7dff" stroke-width="0.6" stroke-opacity="0.9"/><path d="M170.19,204.05 L172.38,202.24 L174.57,198.40 L176.77,194.59 L178.96,192.61 L181.15,190.84 L183.34,188.51 L185.53,186.57 L187.72,186.49 L189.92,183.97 L192.11,181.51 L194.30,182.92 L196.49,187.65 L198.68,192.28 L200.88,196.20 L203.07,200.66 L205.26,205.57 L207.45,208.26 L209.64,210.25 L211.83,212.19 L214.03,211.37 L216.22,209.52 L218.41,206.46 L220.60,202.93 L222.79,200.64 L224.98,199.11 L227.18,197.43 L229.37,192.43 L231.56,187.40 L233.75,185.46 L235.94,184.24 L238.13,182.79 L240.32,182.62 L242.52,182.77 L244.71,184.88 L246.90,189.28 L249.09,192.62 L251.28,195.89 L253.48,199.34 L255.67,198.66 L257.86,195.13 L260.05,193.48 L262.24,192.59 L264.43,191.97 L266.62,192.98 L268.82,194.74 L271.01,197.47 L273.20,200.68 L275.39,202.49 L277.58,203.54 L279.77,201.24 L281.97,198.78 L284.16,198.07 L286.35,196.52 L288.54,195.39 L290.73,196.62 L292.93,197.99 L295.12,197.25 L297.31,196.12 L299.50,197.44" fill="none" stroke="#7d7dff" stroke-width="0.6" stroke-opacity="0.9"/><path d="M170.19,201.78 L172.38,201.36 L174.57,200.36 L176.77,198.95 L178.96,199.50 L181.15,201.93 L183.34,202.52 L185.53,203.27 L187.72,204.00 L189.92,204.71 L192.11,206.04 L194.30,206.98 L196.49,210.98 L198.68,215.46 L200.88,215.97 L203.07,217.45 L205.26,219.47 L207.45,219.77 L209.64,220.43 L211.83,219.91 L214.03,218.91 L216.22,217.66 L218.41,214.63 L220.60,213.62 L222.79,212.60 L224.98,210.63 L227.18,208.91 L229.37,207.73 L231.56,207.01 L233.75,203.39 L235.94,198.09 L238.13,194.46 L240.32,193.13 L242.52,192.53 L244.71,193.03 L246.90,192.51 L249.09,194.54 L251.28,199.03 L253.48,206.15 L255.67,210.85 L257.86,210.03 L260.05,209.13 L262.24,212.75 L264.43,215.36 L266.62,217.55 L268.82,222.05 L271.01,225.35 L273.20,224.93 L275.39,222.65 L277.58,225.29 L279.77,229.23 L281.97,227.96 L284.16,225.93 L286.35,229.26 L288.54,232.94 L290.73,230.45 L292.93,229.26 L295.12,227.91 L297.31,222.76 L299.50,217.89" fill="none" stroke="#7d7dff" stroke-width="0.6" stroke-opacity="0.9"/><path d="M170.19,203.46 L172.38,204.86 L174.57,207.87 L176.77,209.04 L178.96,207.83 L181.15,206.09 L183.34,205.36 L185.53,208.26 L187.72,209.18 L189.92,209.86 L192.11,209.93 L194.30,206.59 L196.49,204.14 L198.68,206.21 L200.88,207.81 L203.07,205.88 L205.26,200.71 L207.45,196.48 L209.64,194.08 L211.83,191.78 L214.03,189.91 L216.22,190.68 L218.41,193.25 L220.60,198.08 L222.79,204.23 L224.98,206.81 L227.18,208.34 L229.37,211.05 L231.56,210.70 L233.75,205.80 L235.94,200.63 L238.13,196.11 L240.32,190.17 L242.52,184.22 L244.71,181.00 L246.90,178.07 L249.09,173.74 L251.28,173.75 L253.48,178.17 L255.67,182.60 L257.86,189.60 L260.05,198.08 L262.24,204.53 L264.43,209.35 L266.62,214.55 L268.82,220.63 L271.01,225.21 L273.20,225.22 L275.39,222.86 L277.58,220.13 L279.77,216.99 L281.97,212.59 L284.16,208.68 L286.35,207.35 L288.54,206.90 L290.73,206.74 L292.93,209.52 L295.12,210.96 L297.31,206.20 L299.50,203.20" fill="none" stroke="#ff7d7d" stroke-width="0.6" stroke-opacity="0.9"/><path d="M170.19,202.55 L172.38,202.35 L174.57,202.36 L176.77,201.38 L178.96,199.23 L181.15,198.02 L183.34,195.55 L185.53,190.80 L187.72,187.01 L189.92,183.22 L192.11,181.81 L194.30,181.35 L196.49,180.62 L198.68,184.28 L200.88,190.50 L203.07,196.58 L205.26,203.62 L207.45,209.88 L209.64,212.86 L211.83,216.68 L214.03,221.78 L216.22,224.05 L218.41,220.92 L220.60,216.78 L222.79,216.12 L224.98,217.04 L227.18,216.24 L229.37,214.32 L231.56,212.76 L233.75,210.54 L235.94,205.63 L238.13,199.89 L240.32,197.46 L242.52,194.01 L244.71,187.47 L246.90,184.51 L249.09,185.46 L251.28,188.86 L253.48,191.73 L255.67,196.76 L257.86,199.20 L260.05,196.16 L262.24,197.59 L264.43,200.36 L266.62,197.67 L268.82,192.77 L271.01,191.16 L273.20,191.84 L275.39,195.87 L277.58,200.07 L279.77,203.93 L281.97,207.83 L284.16,209.95 L286.35,211.01 L288.54,210.43 L290.73,208.49 L292.93,208.08 L295.12,206.91 L297.31,202.74 L299.50,199.36" fill="none" stroke="#ff7d7d" stroke-width="0.6" stroke-opacity="0.9"/><path d="M170.19,204.67 L172.38,205.32 L174.57,207.01 L176.77,207.22 L178.96,207.13 L181.15,206.69 L183.34,204.89 L185.53,203.26 L187.72,198.89 L189.92,194.87 L192.11,193.49 L194.30,191.18 L196.49,189.48 L198.68,191.53 L200.88,193.29 L203.07,195.60 L205.26,198.43 L207.45,201.00 L209.64,200.69 L211.83,201.23 L214.03,207.04 L216.22,213.72 L218.41,217.77 L220.60,218.53 L222.79,220.60 L224.98,224.10 L227.18,229.23 L229.37,236.43 L231.56,240.40 L233.75,238.79 L235.94,234.98 L238.13,231.96 L240.32,228.46 L242.52,223.67 L244.71,216.69 L246.90,212.61 L249.09,213.45 L251.28,215.80 L253.48,215.07 L255.67,210.21 L257.86,207.82 L260.05,208.42 L262.24,211.74 L264.43,214.63 L266.62,213.33 L268.82,210.04 L271.01,209.86 L273.20,209.90 L275.39,208.46 L277.58,206.70 L279.77,205.80 L281.97,206.93 L284.16,206.25 L286.35,202.82 L288.54,198.33 L290.73,195.74 L292.93,197.53 L295.12,198.36 L297.31,197.69 L299.50,198.11" fill="none" stroke="#ff7d7d" stroke-width="0.6" stroke-opacity="0.9"/><path d="M170.19,204.24 L172.38,205.57 L174.57,206.80 L176.77,207.13 L178.96,208.45 L181.15,210.93 L183.34,212.82 L185.53,214.82 L187.72,214.91 L189.92,214.39 L192.11,213.71 L194.30,211.55 L196.49,208.48 L198.68,204.64 L200.88,198.52 L203.07,195.79 L205.26,197.01 L207.45,193.94 L209.64,187.62 L211.83,181.75 L214.03,176.99 L216.22,174.97 L218.41,175.39 L220.60,178.50 L222.79,180.93 L224.98,183.08 L227.18,190.01 L229.37,201.09 L231.56,209.24 L233.75,213.39 L235.94,215.75 L238.13,215.72 L240.32,212.16 L242.52,209.78 L244.71,211.81 L246.90,213.36 L249.09,212.41 L251.28,211.89 L253.48,211.23 L255.67,209.12 L257.86,211.06 L260.05,212.57 L262.24,211.64 L264.43,212.25 L266.62,216.27 L268.82,221.18 L271.01,223.12 L273.20,224.33 L275.39,226.07 L277.58,226.68 L279.77,221.63 L281.97,216.51 L284.16,217.74 L286.35,219.31 L288.54,219.54 L290.73,221.94 L292.93,224.32 L295.12,224.15 L297.31,223.19 L299.50,223.39" fill="none" stroke="#ff7d7d" stroke-width="0.6" stroke-opacity="0.9"/><path d="M170.19,207.29 L172.38,208.65 L174.57,209.40 L176.77,209.36 L178.96,209.01 L181.15,209.45 L183.34,208.60 L185.53,207.11 L187.72,205.98 L189.92,204.80 L192.11,205.99 L194.30,208.01 L196.49,207.36 L198.68,204.44 L200.88,200.43 L203.07,198.88 L205.26,199.04 L207.45,200.20 L209.64,203.18 L211.83,205.33 L214.03,206.80 L216.22,208.37 L218.41,208.96 L220.60,206.59 L222.79,204.47 L224.98,203.81 L227.18,202.91 L229.37,202.50 L231.56,201.97 L233.75,199.88 L235.94,199.12 L238.13,203.60 L240.32,209.22 L242.52,212.24 L244.71,215.42 L246.90,219.83 L249.09,224.33 L251.28,228.33 L253.48,230.39 L255.67,227.71 L257.86,220.03 L260.05,209.93 L262.24,199.63 L264.43,191.24 L266.62,187.52 L268.82,186.38 L271.01,184.88 L273.20,182.26 L275.39,179.09 L277.58,179.61 L279.77,184.35 L281.97,186.36 L284.16,185.10 L286.35,184.79 L288.54,185.92 L290.73,188.95 L292.93,193.96 L295.12,197.48 L297.31,199.78 L299.50,200.39" fill="none" stroke="#ff7d7d" stroke-width="0.6" stroke-opacity="0.9"/><path d="M170.19,200.71 L172.38,200.94 L174.57,200.88 L176.77,198.96 L178.96,195.53 L181.15,191.19 L183.34,186.32 L185.53,182.99 L187.72,183.04 L189.92,184.25 L192.11,186.99 L194.30,190.99 L196.49,195.08 L198.68,199.24 L200.88,203.58 L203.07,207.32 L205.26,207.98 L207.45,209.74 L209.64,212.14 L211.83,210.31 L214.03,207.10 L216.22,205.05 L218.41,202.90 L220.60,197.33 L222.79,194.26 L224.98,195.24 L227.18,194.21 L229.37,194.15 L231.56,195.39 L233.75,195.21 L235.94,196.27 L238.13,199.77 L240.32,200.55 L242.52,200.85 L244.71,201.26 L246.90,202.20 L249.09,203.70 L251.28,205.05 L253.48,206.64 L255.67,206.46 L257.86,207.27 L260.05,207.60 L262.24,205.28 L264.43,203.95 L266.62,204.79 L268.82,205.56 L271.01,207.70 L273.20,207.01 L275.39,203.24 L277.58,203.03 L279.77,203.10 L281.97,201.46 L284.16,202.12 L286.35,201.46 L288.54,195.94 L290.73,189.53 L292.93,185.69 L295.12,182.40 L297.31,181.93 L299.50,187.73" fill="none" stroke="#ff7d7d" stroke-width="0.6" stroke-opacity="0.9"/><path d="M170.19,204.22 L172.38,205.72 L174.57,207.45 L176.77,208.86 L178.96,209.34 L181.15,208.64 L183.34,204.67 L185.53,198.71 L187.72,192.97 L189.92,190.23 L192.11,188.68 L194.30,184.85 L196.49,181.45 L198.68,181.81 L200.88,185.12 L203.07,188.10 L205.26,187.09 L207.45,185.88 L209.64,186.89 L211.83,189.08 L214.03,190.66 L216.22,190.27 L218.41,191.00 L220.60,193.48 L222.79,194.98 L224.98,197.83 L227.18,199.99 L229.37,197.93 L231.56,194.22 L233.75,191.97 L235.94,192.08 L238.13,192.76 L240.32,194.10 L242.52,197.12 L244.71,202.38 L246.90,207.75 L249.09,213.38 L251.28,218.98 L253.48,221.26 L255.67,219.01 L257.86,213.61 L260.05,206.76 L262.24,202.78 L264.43,203.33 L266.62,201.17 L268.82,196.36 L271.01,196.21 L273.20,196.71 L275.39,193.91 L277.58,193.31 L279.77,195.52 L281.97,193.94 L284.16,193.02 L286.35,191.84 L288.54,186.19 L290.73,183.14 L292.93,184.96 L295.12,189.05 L297.31,192.45 L299.50,192.25" fill="none" stroke="#ff7d7d" stroke-width="0.6" stroke-opacity="0.9"/><path d="M170.19,206.24 L172.38,207.34 L174.57,206.89 L176.77,203.57 L178.96,198.50 L181.15,193.86 L183.34,190.17 L185.53,188.48 L187.72,188.25 L189.92,187.99 L192.11,187.07 L194.30,185.93 L196.49,184.52 L198.68,185.70 L200.88,189.36 L203.07,192.47 L205.26,194.00 L207.45,197.20 L209.64,204.44 L211.83,210.22 L214.03,213.63 L216.22,220.23 L218.41,224.53 L220.60,225.01 L222.79,227.43 L224.98,229.00 L227.18,227.09 L229.37,228.51 L231.56,231.76 L233.75,234.86 L235.94,235.66 L238.13,234.59 L240.32,233.82 L242.52,234.68 L244.71,234.74 L246.90,234.93 L249.09,230.99 L251.28,223.25 L253.48,217.14 L255.67,213.95 L257.86,211.15 L260.05,205.80 L262.24,199.95 L264.43,194.78 L266.62,188.28 L268.82,183.79 L271.01,183.50 L273.20,183.83 L275.39,184.70 L277.58,187.32 L279.77,193.37 L281.97,196.97 L284.16,198.36 L286.35,200.83 L288.54,202.55 L290.73,202.71 L292.93,201.30 L295.12,198.79 L297.31,196.74 L299.50,196.91" fill="none" stroke="#ff7d7d" stroke-width="0.6" stroke-opacity="0.9"/><path d="M170.19,203.74 L172.38,203.17 L174.57,201.98 L176.77,198.64 L178.96,193.92 L181.15,190.15 L183.34,189.48 L185.53,190.90 L187.72,190.72 L189.92,191.72 L192.11,195.08 L194.30,198.10 L196.49,200.11 L198.68,204.85 L200.88,209.63 L203.07,211.05 L205.26,212.19 L207.45,214.12 L209.64,214.57 L211.83,213.97 L214.03,212.96 L216.22,212.58 L218.41,213.48 L220.60,215.00 L222.79,215.40 L224.98,214.72 L227.18,213.42 L229.37,211.58 L231.56,208.84 L233.75,209.03 L235.94,211.13 L238.13,209.35 L240.32,206.30 L242.52,207.05 L244.71,206.26 L246.90,202.93 L249.09,204.11 L251.28,207.70 L253.48,207.76 L255.67,205.60 L257.86,203.34 L260.05,202.65 L262.24,202.46 L264.43,201.53 L266.62,200.24 L268.82,199.13 L271.01,199.11 L273.20,197.80 L275.39,197.17 L277.58,197.38 L279.77,197.22 L281.97,195.10 L284.16,189.03 L286.35,184.01 L288.54,185.02 L290.73,188.75 L292.93,191.22 L295.12,192.44 L297.31,196.12 L299.50,200.36" fill="none" stroke="#ff7d7d" stroke-width="0.6" stroke-opacity="0.9"/><path d="M170.19,207.26 L172.38,207.89 L174.57,207.65 L176.77,206.87 L178.96,205.36 L181.15,203.83 L183.34,202.78 L185.53,201.98 L187.72,202.62 L189.92,204.32 L192.11,206.74 L194.30,210.85 L196.49,215.02 L198.68,217.18 L200.88,216.89 L203.07,216.42 L205.26,215.64 L207.45,214.43 L209.64,213.79 L211.83,213.46 L214.03,212.86 L216.22,212.72 L218.41,213.48 L220.60,215.85 L222.79,216.72 L224.98,214.80 L227.18,212.83 L229.37,206.91 L231.56,201.61 L233.75,197.93 L235.94,192.93 L238.13,186.68 L240.32,180.08 L242.52,171.46 L244.71,166.07 L246.90,170.25 L249.09,177.54 L251.28,184.75 L253.48,192.37 L255.67,197.93 L257.86,201.46 L260.05,204.23 L262.24,206.24 L264.43,208.69 L266.62,209.96 L268.82,209.57 L271.01,209.31 L273.20,208.20 L275.39,203.97 L277.58,200.79 L279.77,199.58 L281.97,200.27 L284.16,203.97 L286.35,207.60 L288.54,209.39 L290.73,211.09 L292.93,214.14 L295.12,216.64 L297.31,218.29 L299.50,219.73" fill="none" stroke="#7d7dff" stroke-width="0.6" stroke-opacity="0.9"/><path d="M170.19,212.99 L172.38,213.35 L174.57,206.47 L176.77,206.63 L178.96,207.04 L181.15,208.87 L183.34,211.69 L185.53,209.02 L187.72,206.98 L189.92,206.48 L192.11,209.42 L194.30,206.68 L196.49,206.40 L198.68,204.91 L200.88,203.77 L203.07,201.72 L205.26,198.48 L207.45,195.61 L209.64,193.16 L211.83,190.91 L214.03,187.15 L216.22,181.05 L218.41,179.02 L220.60,177.72 L222.79,176.16 L224.98,177.03 L227.18,183.18 L229.37,188.81 L231.56,192.33 L233.75,196.45 L235.94,201.79 L238.13,207.47 L240.32,211.09 L242.52,214.71 L244.71,217.34 L246.90,218.76 L249.09,218.53 L251.28,214.67 L253.48,211.77 L255.67,212.12 L257.86,214.08 L260.05,215.95 L262.24,214.36 L264.43,211.00 L266.62,211.95 L268.82,218.47 L271.01,222.36 L273.20,226.76 L275.39,219.08 L277.58,218.35 L279.77,217.81 L281.97,217.24 L284.16,216.15 L286.35,215.12 L288.54,214.55 L290.73,213.99 L292.93,213.40 L295.12,213.65 L297.31,214.23 L299.50,214.24" fill="none" stroke="#111" stroke-width="1.2"/></g>
<g fill="#000"><circle cx="170.19" cy="212.99" r="2.2"/><circle cx="172.38" cy="213.35" r="2.2"/><circle cx="174.57" cy="206.47" r="2.2"/><circle cx="176.77" cy="206.63" r="2.2"/><circle cx="178.96" cy="207.04" r="2.2"/><circle cx="181.15" cy="208.87" r="2.2"/><circle cx="183.34" cy="211.69" r="2.2"/><circle cx="185.53" cy="209.02" r="2.2"/><circle cx="187.72" cy="206.98" r="2.2"/><circle cx="189.92" cy="206.48" r="2.2"/><circle cx="192.11" cy="209.42" r="2.2"/><circle cx="194.30" cy="206.68" r="2.2"/><circle cx="196.49" cy="206.40" r="2.2"/><circle cx="198.68" cy="204.91" r="2.2"/><circle cx="200.88" cy="203.77" r="2.2"/><circle cx="203.07" cy="201.72" r="2.2"/><circle cx="205.26" cy="198.48" r="2.2"/><circle cx="207.45" cy="195.61" r="2.2"/><circle cx="209.64" cy="193.16" r="2.2"/><circle cx="211.83" cy="190.91" r="2.2"/><circle cx="214.03" cy="187.15" r="2.2"/><circle cx="216.22" cy="181.05" r="2.2"/><circle cx="218.41" cy="179.02" r="2.2"/><circle cx="220.60" cy="177.72" r="2.2"/><circle cx="222.79" cy="176.16" r="2.2"/><circle cx="224.98" cy="177.03" r="2.2"/><circle cx="227.18" cy="183.18" r="2.2"/><circle cx="229.37" cy="188.81" r="2.2"/><circle cx="231.56" cy="192.33" r="2.2"/><circle cx="233.75" cy="196.45" r="2.2"/><circle cx="235.94" cy="201.79" r="2.2"/><circle cx="238.13" cy="207.47" r="2.2"/><circle cx="240.32" cy="211.09" r="2.2"/><circle cx="242.52" cy="214.71" r="2.2"/><circle cx="244.71" cy="217.34" r="2.2"/><circle cx="246.90" cy="218.76" r="2.2"/><circle cx="249.09" cy="218.53" r="2.2"/><circle cx="251.28" cy="214.67" r="2.2"/><circle cx="253.48" cy="211.77" r="2.2"/><circle cx="255.67" cy="212.12" r="2.2"/><circle cx="257.86" cy="214.08" r="2.2"/><circle cx="260.05" cy="215.95" r="2.2"/><circle cx="262.24" cy="214.36" r="2.2"/><circle cx="264.43" cy="211.00" r="2.2"/><circle cx="266.62" cy="211.95" r="2.2"/><circle cx="268.82" cy="218.47" r="2.2"/><circle cx="271.01" cy="222.36" r="2.2"/><circle cx="273.20" cy="226.76" r="2.2"/><circle cx="275.39" cy="219.08" r="2.2"/><circle cx="277.58" cy="218.35" r="2.2"/><circle cx="279.77" cy="217.81" r="2.2"/><circle cx="281.97" cy="217.24" r="2.2"/><circle cx="284.16" cy="216.15" r="2.2"/><circle cx="286.35" cy="215.12" r="2.2"/><circle cx="288.54" cy="214.55" r="2.2"/><circle cx="290.73" cy="213.99" r="2.2"/><circle cx="292.93" cy="213.40" r="2.2"/><circle cx="295.12" cy="213.65" r="2.2"/><circle cx="297.31" cy="214.23" r="2.2"/><circle cx="299.50" cy="214.24" r="2.2"/></g>
<g clip-path="url(#cpf)"><path d="M170.19,204.04 L171.29,203.92 L172.38,203.70 L173.48,203.45 L174.57,203.24 L175.67,203.15 L176.77,203.20 L177.86,203.32 L178.96,203.50 L180.05,203.72 L181.15,203.95 L182.25,204.20 L183.34,204.53 L184.44,204.91 L185.53,205.32 L186.63,205.73 L187.72,206.10 L188.82,206.45 L189.92,206.80 L191.01,207.15 L192.11,207.53 L193.20,207.96 L194.30,208.56 L195.40,209.27 L196.49,209.97 L197.59,210.52 L198.68,210.79 L199.78,210.70 L200.88,210.37 L201.97,209.91 L203.07,209.41 L204.16,209.00 L205.26,208.74 L206.35,208.53 L207.45,208.35 L208.55,208.18 L209.64,208.01 L210.74,207.83 L211.83,207.66 L212.93,207.49 L214.03,207.32 L215.12,207.15 L216.22,206.98 L217.31,206.79 L218.41,206.59 L219.50,206.38 L220.60,206.18 L221.70,205.99 L222.79,205.83 L223.89,205.71 L224.98,205.59 L226.08,205.45 L227.18,205.24 L228.27,204.82 L229.37,203.64 L230.46,202.74 L231.56,202.10 L232.65,201.56 L233.75,201.06 L234.85,200.60 L235.94,200.12 L237.04,199.63 L238.13,199.15 L239.23,198.72 L240.32,198.37 L241.42,198.08 L242.52,197.81 L243.61,197.58 L244.71,197.44 L245.80,197.46 L246.90,197.86 L248.00,198.57 L249.09,199.41 L250.19,200.22 L251.28,201.11 L252.38,202.15 L253.48,203.15 L254.57,203.87 L255.67,204.23 L256.76,204.51 L257.86,204.75 L258.95,204.93 L260.05,205.04 L261.15,205.06 L262.24,204.93 L263.34,204.67 L264.43,204.38 L265.53,204.14 L266.62,204.04 L267.72,204.04 L268.82,204.04 L269.91,204.04 L271.01,204.04 L272.10,204.04 L273.20,204.04 L274.30,204.04 L275.39,204.04 L276.49,204.04 L277.58,204.04 L278.68,204.03 L279.77,203.86 L280.87,203.59 L281.97,203.31 L283.06,203.09 L284.16,203.03 L285.25,203.11 L286.35,203.29 L287.45,203.53 L288.54,203.78 L289.64,204.00 L290.73,204.22 L291.83,204.47 L292.93,204.73 L294.02,204.93 L295.12,205.05 L296.21,205.06 L297.31,205.06 L298.40,205.06 L299.50,205.06" fill="none" stroke="#0000ff" stroke-width="2.6" stroke-linejoin="round"/><path d="M170.19,205.07 L171.29,205.23 L172.38,205.51 L173.48,205.79 L174.57,205.95 L175.67,205.74 L176.77,204.98 L177.86,203.91 L178.96,202.76 L180.05,201.72 L181.15,200.56 L182.25,199.33 L183.34,198.19 L184.44,197.29 L185.53,196.61 L186.63,196.02 L187.72,195.50 L188.82,195.02 L189.92,194.57 L191.01,194.11 L192.11,193.60 L193.20,193.12 L194.30,192.73 L195.40,192.49 L196.49,192.49 L197.59,192.92 L198.68,193.66 L199.78,194.54 L200.88,195.38 L201.97,196.30 L203.07,197.32 L204.16,198.12 L205.26,198.49 L206.35,198.72 L207.45,198.89 L208.55,199.05 L209.64,199.24 L210.74,199.46 L211.83,199.68 L212.93,199.91 L214.03,200.17 L215.12,200.46 L216.22,200.79 L217.31,201.16 L218.41,201.54 L219.50,201.91 L220.60,202.27 L221.70,202.60 L222.79,202.93 L223.89,203.27 L224.98,203.67 L226.08,204.15 L227.18,204.89 L228.27,205.78 L229.37,206.60 L230.46,207.17 L231.56,207.59 L232.65,207.95 L233.75,208.28 L234.85,208.60 L235.94,208.96 L237.04,209.34 L238.13,209.72 L239.23,210.10 L240.32,210.48 L241.42,210.85 L242.52,211.23 L243.61,211.61 L244.71,211.99 L245.80,212.35 L246.90,212.70 L248.00,213.05 L249.09,213.43 L250.19,213.81 L251.28,214.13 L252.38,214.33 L253.48,214.33 L254.57,214.00 L255.67,213.39 L256.76,212.60 L257.86,211.74 L258.95,210.93 L260.05,210.07 L261.15,209.09 L262.24,208.06 L263.34,207.04 L264.43,206.12 L265.53,205.26 L266.62,204.31 L267.72,203.41 L268.82,202.67 L269.91,202.22 L271.01,202.15 L272.10,202.28 L273.20,202.53 L274.30,202.84 L275.39,203.15 L276.49,203.51 L277.58,203.96 L278.68,204.44 L279.77,204.90 L280.87,205.31 L281.97,205.71 L283.06,206.11 L284.16,206.48 L285.25,206.81 L286.35,207.07 L287.45,207.30 L288.54,207.50 L289.64,207.68 L290.73,207.85 L291.83,208.03 L292.93,208.21 L294.02,208.40 L295.12,208.57 L296.21,208.74 L297.31,208.89 L298.40,209.02 L299.50,209.14" fill="none" stroke="#ff0000" stroke-width="2.6" stroke-linejoin="round"/></g>
<rect x="168.00" y="144.40" width="131.50" height="114.70" fill="none" stroke="#777" stroke-width="0.9"/>
<path d="M194.30,259.10v-1.3M194.30,144.40v1.3M220.60,259.10v-1.3M220.60,144.40v1.3M246.90,259.10v-1.3M246.90,144.40v1.3M273.20,259.10v-1.3M273.20,144.40v1.3M168.00,233.61h1.3M299.50,233.61h-1.3M168.00,208.12h1.3M299.50,208.12h-1.3M168.00,182.63h1.3M299.50,182.63h-1.3M168.00,157.14h1.3M299.50,157.14h-1.3" stroke="#777" stroke-width="0.8" fill="none"/>
<g font-family="Liberation Sans, sans-serif" font-size="7.6" fill="#1a1a1a" stroke="#1a1a1a" stroke-width="0.15"><text x="165.40" y="262.10" text-anchor="end">-4</text><text x="165.40" y="236.61" text-anchor="end">-2</text><text x="165.40" y="211.12" text-anchor="end">0</text><text x="165.40" y="185.63" text-anchor="end">2</text><text x="165.40" y="160.14" text-anchor="end">4</text><text x="168.00" y="268.70" text-anchor="middle">0</text><text x="194.30" y="268.70" text-anchor="middle">12</text><text x="220.60" y="268.70" text-anchor="middle">24</text><text x="246.90" y="268.70" text-anchor="middle">36</text><text x="273.20" y="268.70" text-anchor="middle">48</text><text x="299.50" y="268.70" text-anchor="middle">60</text><text x="233.75" y="277.90" text-anchor="middle">Lead time (in months)</text><text x="170.50" y="258.70">1981/01</text><text x="240.98" y="258.70" text-anchor="middle">1983/12</text><text x="298.30" y="258.70" text-anchor="end">1985/12</text></g>
<text x="155.80" y="144.10" font-family="Liberation Sans, sans-serif" font-size="7.6" font-weight="bold" fill="#1a1a1a" stroke="#1a1a1a" stroke-width="0.15">(f)</text>
<g clip-path="url(#cpg)"><line x1="339.60" y1="144.40" x2="339.60" y2="259.10" stroke="#e4e4e4" stroke-width="0.6"/><line x1="365.90" y1="144.40" x2="365.90" y2="259.10" stroke="#e4e4e4" stroke-width="0.6"/><line x1="392.20" y1="144.40" x2="392.20" y2="259.10" stroke="#e4e4e4" stroke-width="0.6"/><line x1="418.50" y1="144.40" x2="418.50" y2="259.10" stroke="#e4e4e4" stroke-width="0.6"/><path d="M315.49,184.07 L317.68,179.39 L319.88,175.56 L322.07,175.38 L324.26,175.63 L326.45,177.55 L328.64,181.44 L330.83,185.94 L333.03,190.89 L335.22,195.78 L337.41,196.96 L339.60,195.55 L341.79,198.67 L343.98,203.19 L346.18,206.96 L348.37,209.02 L350.56,210.99 L352.75,215.27 L354.94,220.42 L357.13,223.47 L359.32,221.41 L361.52,220.18 L363.71,220.22 L365.90,217.46 L368.09,212.83 L370.28,207.01 L372.48,203.05 L374.67,195.07 L376.86,190.54 L379.05,186.32 L381.24,183.46 L383.43,179.69 L385.62,175.77 L387.82,175.76 L390.01,176.12 L392.20,172.73 L394.39,172.44 L396.58,179.33 L398.78,184.73 L400.97,191.57 L403.16,204.24 L405.35,213.84 L407.54,216.92 L409.73,216.45 L411.93,216.27 L414.12,221.67 L416.31,227.57 L418.50,230.48 L420.69,233.14 L422.88,231.51 L425.07,228.28 L427.27,225.13 L429.46,220.88 L431.65,216.62 L433.84,212.31 L436.03,206.60 L438.23,202.76 L440.42,200.49 L442.61,200.83 L444.80,204.62" fill="none" stroke="#7d7dff" stroke-width="0.6" stroke-opacity="0.9"/><path d="M315.49,185.34 L317.68,182.35 L319.88,181.54 L322.07,184.09 L324.26,187.39 L326.45,190.06 L328.64,190.38 L330.83,191.66 L333.03,195.56 L335.22,198.53 L337.41,198.34 L339.60,200.69 L341.79,202.87 L343.98,202.18 L346.18,202.31 L348.37,205.26 L350.56,210.74 L352.75,215.41 L354.94,218.67 L357.13,222.28 L359.32,224.57 L361.52,223.31 L363.71,219.27 L365.90,214.78 L368.09,212.14 L370.28,210.81 L372.48,208.47 L374.67,202.80 L376.86,204.88 L379.05,210.34 L381.24,213.37 L383.43,213.83 L385.62,215.26 L387.82,218.54 L390.01,220.60 L392.20,220.98 L394.39,220.99 L396.58,221.84 L398.78,220.82 L400.97,217.82 L403.16,214.32 L405.35,212.27 L407.54,212.84 L409.73,212.08 L411.93,209.43 L414.12,206.99 L416.31,208.48 L418.50,214.08 L420.69,220.36 L422.88,221.66 L425.07,219.56 L427.27,218.97 L429.46,221.92 L431.65,225.14 L433.84,225.64 L436.03,225.48 L438.23,222.36 L440.42,217.89 L442.61,216.02 L444.80,217.27" fill="none" stroke="#7d7dff" stroke-width="0.6" stroke-opacity="0.9"/><path d="M315.49,190.87 L317.68,190.61 L319.88,190.38 L322.07,189.91 L324.26,188.43 L326.45,187.69 L328.64,185.52 L330.83,180.86 L333.03,178.55 L335.22,179.01 L337.41,182.32 L339.60,185.77 L341.79,186.96 L343.98,190.17 L346.18,194.55 L348.37,197.50 L350.56,197.81 L352.75,197.64 L354.94,199.79 L357.13,200.56 L359.32,200.31 L361.52,201.55 L363.71,205.66 L365.90,211.17 L368.09,213.34 L370.28,211.78 L372.48,211.71 L374.67,209.96 L376.86,210.09 L379.05,207.78 L381.24,206.54 L383.43,203.43 L385.62,198.61 L387.82,195.28 L390.01,193.30 L392.20,194.31 L394.39,199.64 L396.58,208.04 L398.78,215.80 L400.97,220.47 L403.16,222.89 L405.35,225.56 L407.54,228.53 L409.73,225.83 L411.93,220.51 L414.12,217.11 L416.31,211.69 L418.50,202.93 L420.69,193.45 L422.88,184.59 L425.07,178.50 L427.27,177.22 L429.46,178.88 L431.65,182.50 L433.84,185.67 L436.03,185.76 L438.23,187.46 L440.42,193.08 L442.61,197.77 L444.80,199.79" fill="none" stroke="#7d7dff" stroke-width="0.6" stroke-opacity="0.9"/><path d="M315.49,184.52 L317.68,183.03 L319.88,183.61 L322.07,186.14 L324.26,189.17 L326.45,191.46 L328.64,192.62 L330.83,192.73 L333.03,193.11 L335.22,193.36 L337.41,193.26 L339.60,193.97 L341.79,193.83 L343.98,195.01 L346.18,197.91 L348.37,199.22 L350.56,198.90 L352.75,200.19 L354.94,203.66 L357.13,206.01 L359.32,207.84 L361.52,210.93 L363.71,210.17 L365.90,206.79 L368.09,206.47 L370.28,206.38 L372.48,204.77 L374.67,197.53 L376.86,191.61 L379.05,188.88 L381.24,192.03 L383.43,196.96 L385.62,203.27 L387.82,209.66 L390.01,213.90 L392.20,219.48 L394.39,224.24 L396.58,225.76 L398.78,226.50 L400.97,227.01 L403.16,226.73 L405.35,226.31 L407.54,224.32 L409.73,222.50 L411.93,221.22 L414.12,216.41 L416.31,211.87 L418.50,213.01 L420.69,218.74 L422.88,218.97 L425.07,213.09 L427.27,210.32 L429.46,207.07 L431.65,202.86 L433.84,202.87 L436.03,204.27 L438.23,202.06 L440.42,200.49 L442.61,199.48 L444.80,194.69" fill="none" stroke="#7d7dff" stroke-width="0.6" stroke-opacity="0.9"/><path d="M315.49,189.12 L317.68,189.37 L319.88,190.73 L322.07,194.01 L324.26,197.38 L326.45,201.92 L328.64,207.51 L330.83,211.03 L333.03,211.59 L335.22,212.81 L337.41,213.17 L339.60,213.71 L341.79,213.88 L343.98,210.61 L346.18,206.65 L348.37,204.18 L350.56,203.65 L352.75,205.16 L354.94,208.78 L357.13,209.74 L359.32,211.48 L361.52,214.17 L363.71,216.61 L365.90,221.88 L368.09,223.30 L370.28,221.44 L372.48,219.83 L374.67,213.04 L376.86,213.77 L379.05,211.02 L381.24,206.69 L383.43,204.92 L385.62,203.09 L387.82,199.85 L390.01,198.51 L392.20,200.44 L394.39,202.78 L396.58,201.63 L398.78,198.97 L400.97,197.91 L403.16,199.25 L405.35,200.17 L407.54,198.94 L409.73,199.58 L411.93,203.92 L414.12,209.20 L416.31,212.74 L418.50,215.57 L420.69,224.97 L422.88,232.92 L425.07,234.73 L427.27,236.95 L429.46,239.13 L431.65,237.64 L433.84,233.80 L436.03,228.33 L438.23,219.49 L440.42,209.50 L442.61,200.52 L444.80,191.96" fill="none" stroke="#7d7dff" stroke-width="0.6" stroke-opacity="0.9"/><path d="M315.49,189.53 L317.68,189.05 L319.88,189.92 L322.07,194.04 L324.26,197.97 L326.45,201.66 L328.64,205.44 L330.83,210.46 L333.03,215.70 L335.22,218.15 L337.41,217.80 L339.60,217.73 L341.79,218.44 L343.98,220.20 L346.18,222.72 L348.37,222.50 L350.56,219.15 L352.75,216.25 L354.94,212.80 L357.13,206.27 L359.32,201.33 L361.52,197.17 L363.71,194.85 L365.90,199.83 L368.09,207.36 L370.28,211.97 L372.48,213.78 L374.67,210.26 L376.86,214.03 L379.05,218.40 L381.24,219.50 L383.43,220.11 L385.62,223.68 L387.82,227.71 L390.01,227.79 L392.20,226.23 L394.39,222.35 L396.58,218.53 L398.78,218.25 L400.97,218.20 L403.16,216.51 L405.35,214.18 L407.54,213.40 L409.73,214.12 L411.93,216.86 L414.12,217.69 L416.31,214.15 L418.50,214.90 L420.69,217.98 L422.88,215.45 L425.07,210.24 L427.27,208.24 L429.46,208.33 L431.65,205.43 L433.84,205.45 L436.03,212.65 L438.23,215.55 L440.42,210.85 L442.61,205.92 L444.80,201.18" fill="none" stroke="#7d7dff" stroke-width="0.6" stroke-opacity="0.9"/><path d="M315.49,189.72 L317.68,189.70 L319.88,189.62 L322.07,191.09 L324.26,193.75 L326.45,196.42 L328.64,196.87 L330.83,196.52 L333.03,197.60 L335.22,197.14 L337.41,196.70 L339.60,197.53 L341.79,195.83 L343.98,193.70 L346.18,192.38 L348.37,193.57 L350.56,198.47 L352.75,202.61 L354.94,205.31 L357.13,210.73 L359.32,215.67 L361.52,216.66 L363.71,215.54 L365.90,210.95 L368.09,202.74 L370.28,196.92 L372.48,194.33 L374.67,186.81 L376.86,182.51 L379.05,181.55 L381.24,184.75 L383.43,188.83 L385.62,191.75 L387.82,193.29 L390.01,195.56 L392.20,197.24 L394.39,197.03 L396.58,200.85 L398.78,207.61 L400.97,209.58 L403.16,203.94 L405.35,198.94 L407.54,197.29 L409.73,193.31 L411.93,186.53 L414.12,184.74 L416.31,190.63 L418.50,193.29 L420.69,191.83 L422.88,192.57 L425.07,196.38 L427.27,201.59 L429.46,205.44 L431.65,206.26 L433.84,205.07 L436.03,203.27 L438.23,199.71 L440.42,193.21 L442.61,185.69 L444.80,181.74" fill="none" stroke="#7d7dff" stroke-width="0.6" stroke-opacity="0.9"/><path d="M315.49,189.76 L317.68,190.05 L319.88,191.30 L322.07,194.43 L324.26,197.56 L326.45,200.48 L328.64,202.52 L330.83,206.56 L333.03,210.58 L335.22,212.77 L337.41,214.15 L339.60,215.62 L341.79,215.70 L343.98,217.85 L346.18,222.52 L348.37,226.07 L350.56,228.83 L352.75,229.71 L354.94,229.80 L357.13,230.98 L359.32,230.01 L361.52,228.22 L363.71,223.87 L365.90,218.25 L368.09,215.61 L370.28,213.67 L372.48,211.71 L374.67,203.69 L376.86,198.36 L379.05,196.20 L381.24,200.00 L383.43,204.63 L385.62,206.93 L387.82,210.56 L390.01,215.09 L392.20,221.11 L394.39,225.73 L396.58,225.96 L398.78,224.97 L400.97,224.38 L403.16,224.70 L405.35,223.82 L407.54,225.64 L409.73,228.65 L411.93,228.06 L414.12,226.42 L416.31,225.94 L418.50,224.33 L420.69,219.90 L422.88,219.80 L425.07,223.84 L427.27,228.84 L429.46,230.93 L431.65,224.99 L433.84,218.31 L436.03,214.29 L438.23,210.78 L440.42,209.06 L442.61,209.46 L444.80,209.20" fill="none" stroke="#7d7dff" stroke-width="0.6" stroke-opacity="0.9"/><path d="M315.49,189.70 L317.68,190.10 L319.88,191.40 L322.07,193.40 L324.26,193.62 L326.45,192.64 L328.64,191.56 L330.83,192.46 L333.03,192.70 L335.22,192.88 L337.41,193.84 L339.60,196.62 L341.79,202.35 L343.98,208.11 L346.18,212.20 L348.37,217.47 L350.56,227.01 L352.75,235.40 L354.94,238.87 L357.13,240.04 L359.32,238.17 L361.52,235.47 L363.71,231.75 L365.90,226.18 L368.09,223.26 L370.28,221.28 L372.48,215.35 L374.67,204.64 L376.86,201.30 L379.05,200.70 L381.24,201.25 L383.43,202.86 L385.62,205.87 L387.82,209.30 L390.01,211.21 L392.20,212.24 L394.39,211.04 L396.58,212.48 L398.78,214.98 L400.97,213.12 L403.16,207.69 L405.35,201.10 L407.54,194.71 L409.73,189.88 L411.93,186.97 L414.12,184.48 L416.31,181.23 L418.50,180.99 L420.69,185.85 L422.88,189.84 L425.07,195.75 L427.27,202.77 L429.46,206.79 L431.65,206.75 L433.84,206.98 L436.03,208.69 L438.23,211.18 L440.42,213.98 L442.61,215.71 L444.80,216.57" fill="none" stroke="#7d7dff" stroke-width="0.6" stroke-opacity="0.9"/><path d="M315.49,190.98 L317.68,191.51 L319.88,192.16 L322.07,192.89 L324.26,195.13 L326.45,197.36 L328.64,198.81 L330.83,199.90 L333.03,201.80 L335.22,201.56 L337.41,199.96 L339.60,202.12 L341.79,206.44 L343.98,207.79 L346.18,205.89 L348.37,205.01 L350.56,205.32 L352.75,205.78 L354.94,205.24 L357.13,202.10 L359.32,200.38 L361.52,200.05 L363.71,200.90 L365.90,202.99 L368.09,204.20 L370.28,203.65 L372.48,201.80 L374.67,195.59 L376.86,191.30 L379.05,193.24 L381.24,195.65 L383.43,195.83 L385.62,198.54 L387.82,201.25 L390.01,203.02 L392.20,205.75 L394.39,212.05 L396.58,219.73 L398.78,223.31 L400.97,225.90 L403.16,224.36 L405.35,218.05 L407.54,216.04 L409.73,216.58 L411.93,215.09 L414.12,213.55 L416.31,212.31 L418.50,210.57 L420.69,208.92 L422.88,207.14 L425.07,203.65 L427.27,201.81 L429.46,203.91 L431.65,208.47 L433.84,209.32 L436.03,207.98 L438.23,204.71 L440.42,203.94 L442.61,206.61 L444.80,209.36" fill="none" stroke="#ff7d7d" stroke-width="0.6" stroke-opacity="0.9"/><path d="M315.49,191.08 L317.68,192.19 L319.88,193.18 L322.07,193.83 L324.26,195.26 L326.45,196.81 L328.64,198.60 L330.83,198.06 L333.03,193.98 L335.22,189.56 L337.41,186.58 L339.60,184.93 L341.79,184.31 L343.98,184.68 L346.18,185.40 L348.37,188.34 L350.56,193.60 L352.75,199.27 L354.94,206.00 L357.13,211.61 L359.32,211.29 L361.52,207.75 L363.71,207.89 L365.90,207.57 L368.09,203.77 L370.28,199.88 L372.48,198.10 L374.67,198.39 L376.86,198.70 L379.05,195.65 L381.24,189.74 L383.43,184.23 L385.62,182.93 L387.82,182.93 L390.01,178.77 L392.20,173.18 L394.39,173.60 L396.58,177.82 L398.78,180.60 L400.97,185.75 L403.16,192.48 L405.35,198.60 L407.54,204.32 L409.73,210.70 L411.93,215.15 L414.12,215.16 L416.31,214.65 L418.50,214.79 L420.69,214.74 L422.88,213.53 L425.07,209.19 L427.27,204.82 L429.46,201.63 L431.65,195.25 L433.84,189.59 L436.03,187.78 L438.23,185.89 L440.42,182.51 L442.61,180.57 L444.80,180.71" fill="none" stroke="#ff7d7d" stroke-width="0.6" stroke-opacity="0.9"/><path d="M315.49,190.01 L317.68,190.82 L319.88,192.84 L322.07,195.25 L324.26,197.39 L326.45,201.32 L328.64,208.09 L330.83,212.67 L333.03,211.82 L335.22,208.57 L337.41,205.38 L339.60,203.83 L341.79,201.59 L343.98,199.56 L346.18,197.45 L348.37,195.93 L350.56,195.29 L352.75,196.01 L354.94,199.08 L357.13,204.14 L359.32,207.55 L361.52,208.50 L363.71,209.22 L365.90,208.69 L368.09,205.59 L370.28,201.18 L372.48,198.56 L374.67,197.20 L376.86,198.91 L379.05,205.08 L381.24,206.74 L383.43,207.03 L385.62,209.57 L387.82,211.84 L390.01,214.80 L392.20,217.67 L394.39,217.67 L396.58,215.01 L398.78,212.22 L400.97,210.84 L403.16,210.30 L405.35,208.67 L407.54,209.88 L409.73,212.25 L411.93,209.95 L414.12,208.27 L416.31,209.58 L418.50,211.05 L420.69,211.28 L422.88,211.67 L425.07,212.82 L427.27,210.28 L429.46,201.70 L431.65,192.33 L433.84,186.75 L436.03,185.24 L438.23,182.87 L440.42,181.73 L442.61,182.26 L444.80,181.75" fill="none" stroke="#ff7d7d" stroke-width="0.6" stroke-opacity="0.9"/><path d="M315.49,195.95 L317.68,200.87 L319.88,205.96 L322.07,209.42 L324.26,211.83 L326.45,214.77 L328.64,220.08 L330.83,225.19 L333.03,225.34 L335.22,222.89 L337.41,220.65 L339.60,219.21 L341.79,216.90 L343.98,215.27 L346.18,213.35 L348.37,211.66 L350.56,210.42 L352.75,209.45 L354.94,207.56 L357.13,206.50 L359.32,207.15 L361.52,209.73 L363.71,213.58 L365.90,215.73 L368.09,217.54 L370.28,215.76 L372.48,209.79 L374.67,205.75 L376.86,206.83 L379.05,209.81 L381.24,211.38 L383.43,209.24 L385.62,205.70 L387.82,200.04 L390.01,195.96 L392.20,193.36 L394.39,191.69 L396.58,192.01 L398.78,192.11 L400.97,192.90 L403.16,194.34 L405.35,198.26 L407.54,200.62 L409.73,197.93 L411.93,193.60 L414.12,191.80 L416.31,190.16 L418.50,181.70 L420.69,172.90 L422.88,168.89 L425.07,170.36 L427.27,173.22 L429.46,176.88 L431.65,183.38 L433.84,189.95 L436.03,195.08 L438.23,198.44 L440.42,204.19 L442.61,212.35 L444.80,214.32" fill="none" stroke="#ff7d7d" stroke-width="0.6" stroke-opacity="0.9"/><path d="M315.49,195.80 L317.68,198.66 L319.88,201.58 L322.07,203.98 L324.26,205.82 L326.45,207.27 L328.64,209.03 L330.83,211.48 L333.03,210.93 L335.22,206.18 L337.41,201.98 L339.60,202.58 L341.79,205.58 L343.98,208.88 L346.18,209.94 L348.37,210.89 L350.56,214.91 L352.75,217.66 L354.94,214.81 L357.13,210.87 L359.32,214.03 L361.52,216.28 L363.71,216.29 L365.90,221.38 L368.09,226.17 L370.28,226.47 L372.48,225.69 L374.67,223.09 L376.86,221.71 L379.05,218.89 L381.24,215.40 L383.43,214.79 L385.62,212.21 L387.82,210.09 L390.01,210.77 L392.20,210.15 L394.39,210.85 L396.58,213.57 L398.78,212.23 L400.97,208.31 L403.16,206.12 L405.35,204.20 L407.54,204.41 L409.73,207.34 L411.93,211.22 L414.12,216.67 L416.31,221.63 L418.50,224.82 L420.69,224.71 L422.88,224.08 L425.07,220.51 L427.27,213.46 L429.46,204.31 L431.65,195.79 L433.84,188.94 L436.03,183.03 L438.23,180.46 L440.42,179.94 L442.61,180.64 L444.80,180.86" fill="none" stroke="#ff7d7d" stroke-width="0.6" stroke-opacity="0.9"/><path d="M315.49,195.29 L317.68,199.23 L319.88,203.36 L322.07,206.55 L324.26,209.34 L326.45,212.01 L328.64,212.06 L330.83,208.25 L333.03,204.35 L335.22,201.71 L337.41,199.88 L339.60,199.47 L341.79,199.45 L343.98,201.12 L346.18,202.55 L348.37,205.84 L350.56,210.86 L352.75,217.59 L354.94,224.33 L357.13,228.95 L359.32,231.79 L361.52,231.21 L363.71,225.99 L365.90,219.62 L368.09,215.55 L370.28,210.51 L372.48,203.26 L374.67,196.31 L376.86,194.92 L379.05,195.43 L381.24,198.51 L383.43,203.55 L385.62,206.63 L387.82,209.68 L390.01,214.27 L392.20,216.03 L394.39,218.51 L396.58,221.89 L398.78,223.91 L400.97,228.05 L403.16,228.45 L405.35,223.73 L407.54,220.09 L409.73,219.93 L411.93,220.24 L414.12,216.28 L416.31,209.07 L418.50,204.11 L420.69,204.01 L422.88,205.11 L425.07,202.46 L427.27,197.41 L429.46,193.36 L431.65,191.63 L433.84,191.92 L436.03,195.50 L438.23,198.20 L440.42,196.07 L442.61,194.43 L444.80,192.61" fill="none" stroke="#ff7d7d" stroke-width="0.6" stroke-opacity="0.9"/><path d="M315.49,193.92 L317.68,197.22 L319.88,200.65 L322.07,204.06 L324.26,208.58 L326.45,213.96 L328.64,216.52 L330.83,214.32 L333.03,209.78 L335.22,204.62 L337.41,199.34 L339.60,197.60 L341.79,197.49 L343.98,196.58 L346.18,196.39 L348.37,199.90 L350.56,201.28 L352.75,198.82 L354.94,199.46 L357.13,204.94 L359.32,209.23 L361.52,208.94 L363.71,209.66 L365.90,214.09 L368.09,219.30 L370.28,222.33 L372.48,222.49 L374.67,220.93 L376.86,220.30 L379.05,222.06 L381.24,225.18 L383.43,226.55 L385.62,223.21 L387.82,219.20 L390.01,218.13 L392.20,220.80 L394.39,221.57 L396.58,221.42 L398.78,224.86 L400.97,225.97 L403.16,224.54 L405.35,221.27 L407.54,216.72 L409.73,212.98 L411.93,209.98 L414.12,207.43 L416.31,204.76 L418.50,204.30 L420.69,206.43 L422.88,206.41 L425.07,204.93 L427.27,205.03 L429.46,206.55 L431.65,208.43 L433.84,209.24 L436.03,209.94 L438.23,208.28 L440.42,203.47 L442.61,197.82 L444.80,193.02" fill="none" stroke="#ff7d7d" stroke-width="0.6" stroke-opacity="0.9"/><path d="M315.49,187.30 L317.68,186.25 L319.88,186.27 L322.07,188.95 L324.26,191.34 L326.45,192.55 L328.64,195.30 L330.83,195.35 L333.03,193.37 L335.22,193.33 L337.41,194.58 L339.60,196.07 L341.79,195.82 L343.98,195.86 L346.18,195.47 L348.37,193.63 L350.56,192.57 L352.75,190.38 L354.94,189.23 L357.13,190.03 L359.32,191.87 L361.52,197.00 L363.71,200.40 L365.90,198.83 L368.09,197.78 L370.28,196.42 L372.48,195.10 L374.67,195.09 L376.86,195.53 L379.05,197.81 L381.24,202.94 L383.43,207.35 L385.62,207.17 L387.82,203.81 L390.01,200.43 L392.20,197.99 L394.39,194.44 L396.58,193.09 L398.78,192.54 L400.97,189.66 L403.16,186.82 L405.35,187.27 L407.54,193.62 L409.73,204.59 L411.93,213.70 L414.12,219.90 L416.31,223.26 L418.50,224.11 L420.69,225.42 L422.88,222.97 L425.07,220.76 L427.27,223.55 L429.46,225.58 L431.65,226.50 L433.84,230.21 L436.03,233.17 L438.23,233.52 L440.42,230.65 L442.61,226.35 L444.80,222.81" fill="none" stroke="#ff7d7d" stroke-width="0.6" stroke-opacity="0.9"/><path d="M315.49,194.75 L317.68,197.15 L319.88,199.20 L322.07,200.73 L324.26,200.42 L326.45,199.65 L328.64,201.45 L330.83,200.03 L333.03,195.75 L335.22,192.80 L337.41,192.72 L339.60,195.03 L341.79,196.80 L343.98,199.30 L346.18,202.76 L348.37,204.35 L350.56,204.46 L352.75,205.24 L354.94,203.38 L357.13,199.82 L359.32,199.68 L361.52,200.89 L363.71,204.28 L365.90,205.33 L368.09,204.86 L370.28,206.22 L372.48,202.64 L374.67,197.76 L376.86,194.87 L379.05,192.11 L381.24,191.78 L383.43,192.37 L385.62,195.15 L387.82,199.03 L390.01,198.73 L392.20,198.25 L394.39,200.71 L396.58,207.49 L398.78,211.43 L400.97,210.63 L403.16,209.28 L405.35,206.03 L407.54,202.05 L409.73,200.25 L411.93,199.21 L414.12,195.99 L416.31,193.40 L418.50,192.84 L420.69,194.89 L422.88,195.30 L425.07,191.07 L427.27,188.37 L429.46,186.73 L431.65,183.27 L433.84,178.87 L436.03,173.99 L438.23,171.34 L440.42,168.63 L442.61,165.94 L444.80,168.41" fill="none" stroke="#ff7d7d" stroke-width="0.6" stroke-opacity="0.9"/><path d="M315.49,186.49 L317.68,184.89 L319.88,185.13 L322.07,187.71 L324.26,190.49 L326.45,192.74 L328.64,194.21 L330.83,195.31 L333.03,196.54 L335.22,197.45 L337.41,198.73 L339.60,200.66 L341.79,203.27 L343.98,206.83 L346.18,212.17 L348.37,217.62 L350.56,221.03 L352.75,222.82 L354.94,224.24 L357.13,226.17 L359.32,226.28 L361.52,225.57 L363.71,224.95 L365.90,218.71 L368.09,211.90 L370.28,208.85 L372.48,205.43 L374.67,201.75 L376.86,197.57 L379.05,192.83 L381.24,187.78 L383.43,182.32 L385.62,176.26 L387.82,167.46 L390.01,157.84 L392.20,153.32 L394.39,159.20 L396.58,169.89 L398.78,182.53 L400.97,192.83 L403.16,197.33 L405.35,200.53 L407.54,202.86 L409.73,203.27 L411.93,202.49 L414.12,202.84 L416.31,204.95 L418.50,207.48 L420.69,208.02 L422.88,206.60 L425.07,205.29 L427.27,205.58 L429.46,203.77 L431.65,199.27 L433.84,194.73 L436.03,191.44 L438.23,191.04 L440.42,191.82 L442.61,192.01 L444.80,191.62" fill="none" stroke="#7d7dff" stroke-width="0.6" stroke-opacity="0.9"/><path d="M315.49,187.40 L317.68,186.24 L319.88,186.02 L322.07,187.35 L324.26,188.01 L326.45,188.95 L328.64,189.96 L330.83,192.33 L333.03,196.06 L335.22,199.45 L337.41,203.25 L339.60,205.05 L341.79,205.19 L343.98,208.07 L346.18,211.22 L348.37,212.24 L350.56,215.81 L352.75,220.16 L354.94,220.20 L357.13,218.78 L359.32,218.97 L361.52,221.41 L363.71,223.11 L365.90,222.05 L368.09,220.82 L370.28,215.30 L372.48,208.26 L374.67,205.27 L376.86,201.79 L379.05,197.93 L381.24,192.34 L383.43,185.07 L385.62,178.29 L387.82,174.14 L390.01,175.28 L392.20,182.19 L394.39,189.01 L396.58,193.44 L398.78,197.33 L400.97,193.49 L403.16,190.32 L405.35,194.98 L407.54,201.21 L409.73,205.99 L411.93,211.20 L414.12,217.63 L416.31,221.86 L418.50,222.30 L420.69,222.09 L422.88,219.52 L425.07,214.69 L427.27,211.59 L429.46,209.99 L431.65,206.45 L433.84,201.43 L436.03,196.22 L438.23,192.28 L440.42,191.09 L442.61,192.23 L444.80,194.71" fill="none" stroke="#7d7dff" stroke-width="0.6" stroke-opacity="0.9"/><path d="M315.49,189.56 L317.68,190.70 L319.88,192.40 L322.07,194.65 L324.26,197.51 L326.45,199.69 L328.64,201.01 L330.83,201.19 L333.03,200.91 L335.22,199.70 L337.41,197.99 L339.60,197.75 L341.79,198.44 L343.98,199.80 L346.18,203.95 L348.37,210.77 L350.56,215.87 L352.75,220.87 L354.94,225.95 L357.13,231.08 L359.32,235.88 L361.52,239.98 L363.71,243.91 L365.90,247.40 L368.09,248.90 L370.28,247.37 L372.48,243.85 L374.67,239.98 L376.86,236.07 L379.05,231.65 L381.24,227.24 L383.43,222.99 L385.62,218.74 L387.82,212.73 L390.01,211.65 L392.20,211.92 L394.39,212.69 L396.58,213.35 L398.78,214.16 L400.97,215.95 L403.16,217.88 L405.35,218.45 L407.54,219.16 L409.73,220.71 L411.93,222.30 L414.12,223.97 L416.31,221.73 L418.50,216.52 L420.69,211.67 L422.88,207.82 L425.07,205.42 L427.27,205.19 L429.46,206.52 L431.65,206.47 L433.84,204.16 L436.03,203.05 L438.23,201.40 L440.42,199.42 L442.61,197.92 L444.80,196.28" fill="none" stroke="#ff7d7d" stroke-width="0.6" stroke-opacity="0.9"/><path d="M315.49,189.34 L317.68,189.35 L319.88,189.17 L322.07,189.30 L324.26,191.05 L326.45,194.16 L328.64,196.38 L330.83,196.10 L333.03,196.96 L335.22,197.08 L337.41,195.04 L339.60,194.41 L341.79,194.70 L343.98,197.61 L346.18,201.50 L348.37,203.55 L350.56,205.50 L352.75,208.15 L354.94,210.36 L357.13,211.87 L359.32,211.73 L361.52,209.72 L363.71,206.89 L365.90,204.99 L368.09,204.35 L370.28,203.33 L372.48,200.54 L374.67,198.08 L376.86,200.21 L379.05,203.94 L381.24,207.69 L383.43,209.37 L385.62,208.72 L387.82,207.21 L390.01,209.05 L392.20,212.77 L394.39,216.71 L396.58,220.87 L398.78,225.65 L400.97,230.97 L403.16,236.01 L405.35,239.98 L407.54,243.29 L409.73,245.83 L411.93,245.86 L414.12,241.57 L416.31,236.16 L418.50,231.17 L420.69,225.86 L422.88,220.87 L425.07,216.35 L427.27,212.10 L429.46,198.52 L431.65,188.75 L433.84,189.96 L436.03,190.61 L438.23,189.92 L440.42,191.96 L442.61,197.55 L444.80,201.55" fill="none" stroke="#ff7d7d" stroke-width="0.6" stroke-opacity="0.9"/><path d="M315.49,191.43 L317.68,190.28 L319.88,189.77 L322.07,194.90 L324.26,192.99 L326.45,190.00 L328.64,188.18 L330.83,186.81 L333.03,186.01 L335.22,189.01 L337.41,189.58 L339.60,194.10 L341.79,198.99 L343.98,203.92 L346.18,209.59 L348.37,214.65 L350.56,219.28 L352.75,222.78 L354.94,224.14 L357.13,223.37 L359.32,225.45 L361.52,231.55 L363.71,232.33 L365.90,232.40 L368.09,231.42 L370.28,225.63 L372.48,222.04 L374.67,219.43 L376.86,216.74 L379.05,213.89 L381.24,211.91 L383.43,210.72 L385.62,209.76 L387.82,208.77 L390.01,207.80 L392.20,206.70 L394.39,205.45 L396.58,203.73 L398.78,202.27 L400.97,201.09 L403.16,200.64 L405.35,203.23 L407.54,204.50 L409.73,203.91 L411.93,203.55 L414.12,204.49 L416.31,203.33 L418.50,201.62 L420.69,202.27 L422.88,202.46 L425.07,200.49 L427.27,199.28 L429.46,198.71 L431.65,199.37 L433.84,199.50 L436.03,198.25 L438.23,196.41 L440.42,193.57 L442.61,190.91 L444.80,187.73" fill="none" stroke="#111" stroke-width="1.2"/></g>
<g fill="#000"><circle cx="315.49" cy="191.43" r="2.2"/><circle cx="317.68" cy="190.28" r="2.2"/><circle cx="319.88" cy="189.77" r="2.2"/><circle cx="322.07" cy="194.90" r="2.2"/><circle cx="324.26" cy="192.99" r="2.2"/><circle cx="326.45" cy="190.00" r="2.2"/><circle cx="328.64" cy="188.18" r="2.2"/><circle cx="330.83" cy="186.81" r="2.2"/><circle cx="333.03" cy="186.01" r="2.2"/><circle cx="335.22" cy="189.01" r="2.2"/><circle cx="337.41" cy="189.58" r="2.2"/><circle cx="339.60" cy="194.10" r="2.2"/><circle cx="341.79" cy="198.99" r="2.2"/><circle cx="343.98" cy="203.92" r="2.2"/><circle cx="346.18" cy="209.59" r="2.2"/><circle cx="348.37" cy="214.65" r="2.2"/><circle cx="350.56" cy="219.28" r="2.2"/><circle cx="352.75" cy="222.78" r="2.2"/><circle cx="354.94" cy="224.14" r="2.2"/><circle cx="357.13" cy="223.37" r="2.2"/><circle cx="359.32" cy="225.45" r="2.2"/><circle cx="361.52" cy="231.55" r="2.2"/><circle cx="363.71" cy="232.33" r="2.2"/><circle cx="365.90" cy="232.40" r="2.2"/><circle cx="368.09" cy="231.42" r="2.2"/><circle cx="370.28" cy="225.63" r="2.2"/><circle cx="372.48" cy="222.04" r="2.2"/><circle cx="374.67" cy="219.43" r="2.2"/><circle cx="376.86" cy="216.74" r="2.2"/><circle cx="379.05" cy="213.89" r="2.2"/><circle cx="381.24" cy="211.91" r="2.2"/><circle cx="383.43" cy="210.72" r="2.2"/><circle cx="385.62" cy="209.76" r="2.2"/><circle cx="387.82" cy="208.77" r="2.2"/><circle cx="390.01" cy="207.80" r="2.2"/><circle cx="392.20" cy="206.70" r="2.2"/><circle cx="394.39" cy="205.45" r="2.2"/><circle cx="396.58" cy="203.73" r="2.2"/><circle cx="398.78" cy="202.27" r="2.2"/><circle cx="400.97" cy="201.09" r="2.2"/><circle cx="403.16" cy="200.64" r="2.2"/><circle cx="405.35" cy="203.23" r="2.2"/><circle cx="407.54" cy="204.50" r="2.2"/><circle cx="409.73" cy="203.91" r="2.2"/><circle cx="411.93" cy="203.55" r="2.2"/><circle cx="414.12" cy="204.49" r="2.2"/><circle cx="416.31" cy="203.33" r="2.2"/><circle cx="418.50" cy="201.62" r="2.2"/><circle cx="420.69" cy="202.27" r="2.2"/><circle cx="422.88" cy="202.46" r="2.2"/><circle cx="425.07" cy="200.49" r="2.2"/><circle cx="427.27" cy="199.28" r="2.2"/><circle cx="429.46" cy="198.71" r="2.2"/><circle cx="431.65" cy="199.37" r="2.2"/><circle cx="433.84" cy="199.50" r="2.2"/><circle cx="436.03" cy="198.25" r="2.2"/><circle cx="438.23" cy="196.41" r="2.2"/><circle cx="440.42" cy="193.57" r="2.2"/><circle cx="442.61" cy="190.91" r="2.2"/><circle cx="444.80" cy="187.73" r="2.2"/></g>
<g clip-path="url(#cpg)"><path d="M315.49,188.29 L316.59,187.91 L317.68,187.60 L318.78,187.48 L319.88,187.91 L320.97,188.92 L322.07,190.03 L323.16,190.91 L324.26,191.74 L325.35,192.56 L326.45,193.39 L327.55,194.23 L328.64,195.10 L329.74,195.99 L330.83,196.87 L331.93,197.72 L333.03,198.54 L334.12,199.35 L335.22,200.15 L336.31,200.90 L337.41,201.61 L338.50,202.25 L339.60,202.82 L340.70,203.33 L341.79,203.83 L342.89,204.36 L343.98,204.94 L345.08,205.58 L346.18,206.27 L347.27,207.00 L348.37,207.74 L349.46,208.48 L350.56,209.24 L351.65,210.03 L352.75,210.83 L353.85,211.61 L354.94,212.32 L356.04,212.97 L357.13,213.61 L358.23,214.22 L359.32,214.78 L360.42,215.24 L361.52,215.57 L362.61,215.86 L363.71,216.12 L364.80,216.33 L365.90,216.48 L367.00,216.53 L368.09,216.46 L369.19,216.24 L370.28,215.86 L371.38,215.33 L372.48,214.65 L373.57,212.09 L374.67,207.63 L375.76,206.16 L376.86,205.48 L377.95,205.00 L379.05,204.62 L380.15,204.22 L381.24,203.68 L382.34,202.98 L383.43,202.24 L384.53,201.57 L385.62,201.11 L386.72,200.99 L387.82,200.99 L388.91,200.99 L390.01,200.99 L391.10,200.99 L392.20,200.99 L393.30,201.07 L394.39,201.36 L395.49,201.81 L396.58,202.32 L397.68,202.84 L398.78,203.31 L399.87,203.86 L400.97,204.44 L402.06,205.02 L403.16,205.55 L404.25,206.00 L405.35,206.41 L406.45,206.79 L407.54,207.15 L408.64,207.46 L409.73,207.74 L410.83,207.97 L411.93,208.18 L413.02,208.37 L414.12,208.55 L415.21,208.72 L416.31,208.92 L417.40,209.13 L418.50,209.35 L419.60,209.52 L420.69,209.63 L421.79,209.65 L422.88,209.65 L423.98,209.65 L425.07,209.65 L426.17,209.65 L427.27,209.64 L428.36,209.29 L429.46,208.56 L430.55,207.64 L431.65,206.67 L432.75,205.83 L433.84,205.10 L434.94,204.36 L436.03,203.64 L437.13,202.93 L438.23,202.26 L439.32,201.63 L440.42,200.99 L441.51,200.38 L442.61,199.81 L443.70,199.32 L444.80,198.95" fill="none" stroke="#0000ff" stroke-width="2.6" stroke-linejoin="round"/><path d="M315.49,191.52 L316.59,192.03 L317.68,192.81 L318.78,193.65 L319.88,194.36 L320.97,194.99 L322.07,195.62 L323.16,196.25 L324.26,196.90 L325.35,197.62 L326.45,198.52 L327.55,199.39 L328.64,199.98 L329.74,200.07 L330.83,199.87 L331.93,199.54 L333.03,199.15 L334.12,198.65 L335.22,197.95 L336.31,197.35 L337.41,197.18 L338.50,197.76 L339.60,198.82 L340.70,199.91 L341.79,200.78 L342.89,201.62 L343.98,202.47 L345.08,203.35 L346.18,204.31 L347.27,205.38 L348.37,206.50 L349.46,207.61 L350.56,208.63 L351.65,209.56 L352.75,210.45 L353.85,211.30 L354.94,212.11 L356.04,212.89 L357.13,213.68 L358.23,214.43 L359.32,215.09 L360.42,215.61 L361.52,216.03 L362.61,216.39 L363.71,216.71 L364.80,216.99 L365.90,217.27 L367.00,217.43 L368.09,217.21 L369.19,216.68 L370.28,216.02 L371.38,215.06 L372.48,213.71 L373.57,212.26 L374.67,211.03 L375.76,210.22 L376.86,209.56 L377.95,208.99 L379.05,208.48 L380.15,208.01 L381.24,207.56 L382.34,207.13 L383.43,206.72 L384.53,206.35 L385.62,206.03 L386.72,205.78 L387.82,205.55 L388.91,205.33 L390.01,205.14 L391.10,205.00 L392.20,204.94 L393.30,204.97 L394.39,205.11 L395.49,205.31 L396.58,205.53 L397.68,205.75 L398.78,205.95 L399.87,206.20 L400.97,206.46 L402.06,206.68 L403.16,206.82 L404.25,206.85 L405.35,206.85 L406.45,206.85 L407.54,206.85 L408.64,206.85 L409.73,206.85 L410.83,206.85 L411.93,206.85 L413.02,206.85 L414.12,206.85 L415.21,206.85 L416.31,206.81 L417.40,206.66 L418.50,206.44 L419.60,206.19 L420.69,205.95 L421.79,205.76 L422.88,205.59 L423.98,205.42 L425.07,205.25 L426.17,205.08 L427.27,204.90 L428.36,204.67 L429.46,204.41 L430.55,204.17 L431.65,203.99 L432.75,203.92 L433.84,203.92 L434.94,203.92 L436.03,203.92 L437.13,203.92 L438.23,203.92 L439.32,203.92 L440.42,203.92 L441.51,203.92 L442.61,203.92 L443.70,203.92 L444.80,203.92" fill="none" stroke="#ff0000" stroke-width="2.6" stroke-linejoin="round"/></g>
<rect x="313.30" y="144.40" width="131.50" height="114.70" fill="none" stroke="#777" stroke-width="0.9"/>
<path d="M339.60,259.10v-1.3M339.60,144.40v1.3M365.90,259.10v-1.3M365.90,144.40v1.3M392.20,259.10v-1.3M392.20,144.40v1.3M418.50,259.10v-1.3M418.50,144.40v1.3M313.30,233.61h1.3M444.80,233.61h-1.3M313.30,208.12h1.3M444.80,208.12h-1.3M313.30,182.63h1.3M444.80,182.63h-1.3M313.30,157.14h1.3M444.80,157.14h-1.3" stroke="#777" stroke-width="0.8" fill="none"/>
<g font-family="Liberation Sans, sans-serif" font-size="7.6" fill="#1a1a1a" stroke="#1a1a1a" stroke-width="0.15"><text x="310.70" y="262.10" text-anchor="end">-4</text><text x="310.70" y="236.61" text-anchor="end">-2</text><text x="310.70" y="211.12" text-anchor="end">0</text><text x="310.70" y="185.63" text-anchor="end">2</text><text x="310.70" y="160.14" text-anchor="end">4</text><text x="313.30" y="268.70" text-anchor="middle">0</text><text x="339.60" y="268.70" text-anchor="middle">12</text><text x="365.90" y="268.70" text-anchor="middle">24</text><text x="392.20" y="268.70" text-anchor="middle">36</text><text x="418.50" y="268.70" text-anchor="middle">48</text><text x="444.80" y="268.70" text-anchor="middle">60</text><text x="379.05" y="277.90" text-anchor="middle">Lead time (in months)</text><text x="315.80" y="258.70">1987/01</text><text x="386.28" y="258.70" text-anchor="middle">1989/12</text><text x="443.60" y="258.70" text-anchor="end">1991/12</text></g>
<text x="301.10" y="144.10" font-family="Liberation Sans, sans-serif" font-size="7.6" font-weight="bold" fill="#1a1a1a" stroke="#1a1a1a" stroke-width="0.15">(g)</text>
<g clip-path="url(#cph)"><line x1="485.30" y1="144.40" x2="485.30" y2="259.10" stroke="#e4e4e4" stroke-width="0.6"/><line x1="511.60" y1="144.40" x2="511.60" y2="259.10" stroke="#e4e4e4" stroke-width="0.6"/><line x1="537.90" y1="144.40" x2="537.90" y2="259.10" stroke="#e4e4e4" stroke-width="0.6"/><line x1="564.20" y1="144.40" x2="564.20" y2="259.10" stroke="#e4e4e4" stroke-width="0.6"/><path d="M461.19,216.00 L463.38,214.13 L465.57,211.82 L467.77,210.56 L469.96,208.38 L472.15,206.33 L474.34,205.44 L476.53,206.59 L478.73,208.48 L480.92,209.32 L483.11,206.75 L485.30,202.23 L487.49,199.56 L489.68,198.63 L491.88,198.29 L494.07,196.30 L496.26,195.01 L498.45,196.85 L500.64,199.20 L502.83,204.59 L505.02,210.93 L507.22,211.30 L509.41,208.67 L511.60,207.08 L513.79,204.97 L515.98,201.12 L518.17,198.23 L520.37,196.53 L522.56,194.91 L524.75,194.09 L526.94,193.65 L529.13,193.50 L531.33,194.64 L533.52,197.00 L535.71,199.46 L537.90,203.25 L540.09,205.08 L542.28,203.56 L544.48,201.76 L546.67,202.62 L548.86,200.96 L551.05,196.38 L553.24,195.21 L555.43,196.33 L557.62,197.27 L559.82,199.05 L562.01,200.08 L564.20,202.53 L566.39,209.43 L568.58,215.28 L570.77,219.41 L572.97,221.74 L575.16,221.56 L577.35,221.17 L579.54,221.61 L581.73,220.17 L583.92,217.18 L586.12,216.07 L588.31,217.12 L590.50,215.77" fill="none" stroke="#7d7dff" stroke-width="0.6" stroke-opacity="0.9"/><path d="M461.19,222.68 L463.38,222.98 L465.57,222.72 L467.77,222.38 L469.96,219.72 L472.15,214.08 L474.34,206.39 L476.53,197.07 L478.73,188.96 L480.92,182.82 L483.11,179.30 L485.30,178.25 L487.49,177.91 L489.68,177.62 L491.88,177.04 L494.07,177.74 L496.26,180.48 L498.45,181.03 L500.64,179.17 L502.83,180.53 L505.02,182.56 L507.22,184.19 L509.41,185.48 L511.60,187.76 L513.79,191.30 L515.98,193.23 L518.17,195.05 L520.37,200.77 L522.56,207.78 L524.75,212.72 L526.94,214.78 L529.13,212.39 L531.33,208.21 L533.52,206.52 L535.71,205.56 L537.90,204.01 L540.09,201.56 L542.28,198.66 L544.48,197.99 L546.67,196.69 L548.86,193.24 L551.05,193.41 L553.24,195.04 L555.43,196.25 L557.62,199.58 L559.82,202.48 L562.01,204.98 L564.20,207.84 L566.39,209.99 L568.58,212.32 L570.77,212.45 L572.97,212.60 L575.16,214.86 L577.35,216.07 L579.54,215.07 L581.73,214.88 L583.92,217.51 L586.12,220.52 L588.31,222.94 L590.50,226.87" fill="none" stroke="#7d7dff" stroke-width="0.6" stroke-opacity="0.9"/><path d="M461.19,215.61 L463.38,213.13 L465.57,209.55 L467.77,206.97 L469.96,205.88 L472.15,204.99 L474.34,204.44 L476.53,201.97 L478.73,198.68 L480.92,198.37 L483.11,198.43 L485.30,197.85 L487.49,195.05 L489.68,191.83 L491.88,193.27 L494.07,194.04 L496.26,192.19 L498.45,190.86 L500.64,191.23 L502.83,192.22 L505.02,194.24 L507.22,196.04 L509.41,198.77 L511.60,200.63 L513.79,199.08 L515.98,199.07 L518.17,201.99 L520.37,207.31 L522.56,212.29 L524.75,216.63 L526.94,217.93 L529.13,213.55 L531.33,207.40 L533.52,204.34 L535.71,202.77 L537.90,199.24 L540.09,194.63 L542.28,190.44 L544.48,187.16 L546.67,185.18 L548.86,187.68 L551.05,192.43 L553.24,193.24 L555.43,192.34 L557.62,191.31 L559.82,190.43 L562.01,192.92 L564.20,197.66 L566.39,201.58 L568.58,207.00 L570.77,212.28 L572.97,216.58 L575.16,221.14 L577.35,226.08 L579.54,227.11 L581.73,223.94 L583.92,220.91 L586.12,215.66 L588.31,207.05 L590.50,199.32" fill="none" stroke="#7d7dff" stroke-width="0.6" stroke-opacity="0.9"/><path d="M461.19,212.63 L463.38,208.95 L465.57,204.85 L467.77,201.76 L469.96,199.31 L472.15,197.75 L474.34,195.71 L476.53,191.56 L478.73,187.28 L480.92,183.73 L483.11,179.89 L485.30,176.94 L487.49,174.63 L489.68,173.01 L491.88,174.56 L494.07,179.78 L496.26,184.67 L498.45,188.17 L500.64,193.88 L502.83,199.60 L505.02,205.50 L507.22,209.27 L509.41,209.45 L511.60,208.91 L513.79,205.66 L515.98,203.40 L518.17,201.91 L520.37,200.33 L522.56,199.37 L524.75,199.59 L526.94,198.70 L529.13,196.22 L531.33,196.89 L533.52,198.25 L535.71,196.98 L537.90,195.66 L540.09,196.39 L542.28,197.57 L544.48,198.69 L546.67,198.91 L548.86,198.27 L551.05,196.06 L553.24,194.81 L555.43,191.75 L557.62,188.69 L559.82,189.87 L562.01,193.11 L564.20,194.42 L566.39,196.94 L568.58,201.34 L570.77,203.53 L572.97,204.67 L575.16,205.41 L577.35,206.85 L579.54,208.80 L581.73,209.07 L583.92,207.31 L586.12,206.51 L588.31,205.20 L590.50,204.00" fill="none" stroke="#7d7dff" stroke-width="0.6" stroke-opacity="0.9"/><path d="M461.19,212.21 L463.38,208.16 L465.57,203.98 L467.77,201.56 L469.96,200.46 L472.15,200.21 L474.34,199.86 L476.53,198.91 L478.73,200.10 L480.92,201.97 L483.11,202.94 L485.30,203.44 L487.49,203.10 L489.68,201.70 L491.88,198.59 L494.07,196.91 L496.26,198.62 L498.45,199.12 L500.64,197.26 L502.83,196.03 L505.02,195.54 L507.22,197.53 L509.41,201.57 L511.60,206.53 L513.79,211.67 L515.98,216.68 L518.17,221.14 L520.37,228.58 L522.56,235.01 L524.75,236.56 L526.94,236.81 L529.13,235.53 L531.33,230.07 L533.52,223.56 L535.71,217.40 L537.90,211.29 L540.09,205.70 L542.28,202.48 L544.48,200.68 L546.67,198.79 L548.86,199.36 L551.05,200.97 L553.24,200.47 L555.43,200.63 L557.62,202.82 L559.82,206.21 L562.01,210.07 L564.20,212.79 L566.39,216.97 L568.58,221.52 L570.77,220.25 L572.97,215.37 L575.16,210.97 L577.35,207.66 L579.54,205.87 L581.73,205.91 L583.92,205.43 L586.12,204.55 L588.31,207.50 L590.50,212.84" fill="none" stroke="#7d7dff" stroke-width="0.6" stroke-opacity="0.9"/><path d="M461.19,215.58 L463.38,212.80 L465.57,207.75 L467.77,203.23 L469.96,200.16 L472.15,196.02 L474.34,189.16 L476.53,183.64 L478.73,182.64 L480.92,182.53 L483.11,181.80 L485.30,180.03 L487.49,179.94 L489.68,181.57 L491.88,181.86 L494.07,182.17 L496.26,183.97 L498.45,186.32 L500.64,187.94 L502.83,190.44 L505.02,195.05 L507.22,199.22 L509.41,202.21 L511.60,202.29 L513.79,198.40 L515.98,195.57 L518.17,198.13 L520.37,200.53 L522.56,200.88 L524.75,204.89 L526.94,208.36 L529.13,210.17 L531.33,212.52 L533.52,213.86 L535.71,213.75 L537.90,212.78 L540.09,208.95 L542.28,201.79 L544.48,198.45 L546.67,198.31 L548.86,197.55 L551.05,197.53 L553.24,198.10 L555.43,196.82 L557.62,194.04 L559.82,192.31 L562.01,190.93 L564.20,189.02 L566.39,189.76 L568.58,192.52 L570.77,196.52 L572.97,200.07 L575.16,199.42 L577.35,196.35 L579.54,192.57 L581.73,188.61 L583.92,186.96 L586.12,186.70 L588.31,186.26 L590.50,186.49" fill="none" stroke="#7d7dff" stroke-width="0.6" stroke-opacity="0.9"/><path d="M461.19,214.53 L463.38,211.06 L465.57,206.79 L467.77,204.75 L469.96,202.84 L472.15,199.70 L474.34,198.02 L476.53,197.15 L478.73,195.45 L480.92,194.03 L483.11,193.51 L485.30,191.76 L487.49,190.85 L489.68,190.26 L491.88,188.08 L494.07,185.41 L496.26,184.64 L498.45,183.70 L500.64,182.15 L502.83,183.92 L505.02,189.57 L507.22,194.14 L509.41,196.47 L511.60,199.35 L513.79,202.14 L515.98,205.23 L518.17,206.81 L520.37,207.31 L522.56,206.07 L524.75,207.55 L526.94,212.50 L529.13,213.62 L531.33,212.42 L533.52,214.61 L535.71,218.60 L537.90,220.35 L540.09,220.66 L542.28,221.46 L544.48,222.59 L546.67,224.59 L548.86,228.77 L551.05,232.32 L553.24,233.91 L555.43,235.37 L557.62,238.59 L559.82,238.48 L562.01,231.19 L564.20,222.39 L566.39,215.49 L568.58,210.81 L570.77,206.35 L572.97,200.78 L575.16,194.37 L577.35,192.89 L579.54,193.85 L581.73,193.92 L583.92,194.02 L586.12,195.59 L588.31,199.31 L590.50,203.02" fill="none" stroke="#7d7dff" stroke-width="0.6" stroke-opacity="0.9"/><path d="M461.19,213.35 L463.38,208.58 L465.57,202.60 L467.77,197.61 L469.96,192.25 L472.15,187.52 L474.34,185.18 L476.53,182.45 L478.73,182.96 L480.92,185.72 L483.11,189.67 L485.30,192.12 L487.49,194.62 L489.68,197.78 L491.88,196.88 L494.07,193.97 L496.26,192.50 L498.45,194.48 L500.64,194.63 L502.83,193.08 L505.02,193.73 L507.22,192.74 L509.41,193.61 L511.60,196.07 L513.79,197.23 L515.98,196.96 L518.17,193.50 L520.37,191.97 L522.56,192.73 L524.75,193.14 L526.94,193.51 L529.13,192.77 L531.33,191.89 L533.52,193.82 L535.71,199.33 L537.90,204.49 L540.09,209.42 L542.28,215.14 L544.48,219.96 L546.67,220.34 L548.86,217.90 L551.05,218.51 L553.24,218.90 L555.43,217.86 L557.62,217.11 L559.82,214.28 L562.01,209.34 L564.20,204.59 L566.39,200.34 L568.58,197.98 L570.77,197.08 L572.97,197.17 L575.16,199.12 L577.35,200.76 L579.54,201.29 L581.73,203.30 L583.92,205.52 L586.12,206.29 L588.31,207.89 L590.50,209.09" fill="none" stroke="#7d7dff" stroke-width="0.6" stroke-opacity="0.9"/><path d="M461.19,214.46 L463.38,210.39 L465.57,205.56 L467.77,202.14 L469.96,200.84 L472.15,200.37 L474.34,200.63 L476.53,199.76 L478.73,198.56 L480.92,200.24 L483.11,201.99 L485.30,201.80 L487.49,201.75 L489.68,199.66 L491.88,195.75 L494.07,194.06 L496.26,195.39 L498.45,196.70 L500.64,198.48 L502.83,200.75 L505.02,203.18 L507.22,206.41 L509.41,209.65 L511.60,211.86 L513.79,211.46 L515.98,209.18 L518.17,207.64 L520.37,209.88 L522.56,210.19 L524.75,209.75 L526.94,208.60 L529.13,204.40 L531.33,198.56 L533.52,194.68 L535.71,193.19 L537.90,192.52 L540.09,190.30 L542.28,185.59 L544.48,179.81 L546.67,176.21 L548.86,176.59 L551.05,177.76 L553.24,177.76 L555.43,177.60 L557.62,177.76 L559.82,179.72 L562.01,185.12 L564.20,192.09 L566.39,199.36 L568.58,201.51 L570.77,200.47 L572.97,203.53 L575.16,208.13 L577.35,211.31 L579.54,211.08 L581.73,206.85 L583.92,206.06 L586.12,208.21 L588.31,207.23 L590.50,205.80" fill="none" stroke="#7d7dff" stroke-width="0.6" stroke-opacity="0.9"/><path d="M461.19,216.73 L463.38,214.64 L465.57,211.25 L467.77,207.64 L469.96,205.49 L472.15,205.08 L474.34,204.39 L476.53,203.06 L478.73,200.27 L480.92,198.73 L483.11,197.00 L485.30,194.52 L487.49,195.39 L489.68,201.36 L491.88,205.14 L494.07,205.36 L496.26,201.93 L498.45,196.54 L500.64,191.48 L502.83,189.75 L505.02,190.95 L507.22,190.16 L509.41,189.44 L511.60,188.66 L513.79,185.66 L515.98,183.79 L518.17,186.65 L520.37,190.13 L522.56,192.75 L524.75,196.51 L526.94,203.04 L529.13,211.10 L531.33,215.78 L533.52,218.00 L535.71,217.88 L537.90,217.56 L540.09,217.60 L542.28,213.56 L544.48,207.35 L546.67,202.20 L548.86,197.43 L551.05,194.08 L553.24,193.88 L555.43,198.56 L557.62,202.39 L559.82,202.91 L562.01,203.52 L564.20,204.50 L566.39,203.53 L568.58,200.95 L570.77,197.28 L572.97,191.63 L575.16,187.03 L577.35,187.57 L579.54,188.68 L581.73,189.65 L583.92,193.70 L586.12,198.00 L588.31,201.89 L590.50,207.41" fill="none" stroke="#ff7d7d" stroke-width="0.6" stroke-opacity="0.9"/><path d="M461.19,215.86 L463.38,212.32 L465.57,207.37 L467.77,204.26 L469.96,201.91 L472.15,198.74 L474.34,194.61 L476.53,192.98 L478.73,193.07 L480.92,194.53 L483.11,196.88 L485.30,199.79 L487.49,200.67 L489.68,201.25 L491.88,205.85 L494.07,210.27 L496.26,211.59 L498.45,210.55 L500.64,206.45 L502.83,203.75 L505.02,204.49 L507.22,205.28 L509.41,205.05 L511.60,205.41 L513.79,206.54 L515.98,207.24 L518.17,208.53 L520.37,212.10 L522.56,215.06 L524.75,218.41 L526.94,223.38 L529.13,226.70 L531.33,226.36 L533.52,225.59 L535.71,226.81 L537.90,227.69 L540.09,227.26 L542.28,224.91 L544.48,224.14 L546.67,223.99 L548.86,220.32 L551.05,216.20 L553.24,216.41 L555.43,219.19 L557.62,221.05 L559.82,221.42 L562.01,218.31 L564.20,212.84 L566.39,209.55 L568.58,208.41 L570.77,207.98 L572.97,206.69 L575.16,205.44 L577.35,207.69 L579.54,210.38 L581.73,214.33 L583.92,220.45 L586.12,224.02 L588.31,225.91 L590.50,226.84" fill="none" stroke="#ff7d7d" stroke-width="0.6" stroke-opacity="0.9"/><path d="M461.19,215.84 L463.38,213.49 L465.57,210.39 L467.77,208.00 L469.96,204.76 L472.15,202.59 L474.34,202.06 L476.53,201.78 L478.73,199.74 L480.92,198.41 L483.11,197.61 L485.30,197.30 L487.49,197.22 L489.68,197.75 L491.88,198.82 L494.07,201.16 L496.26,202.84 L498.45,206.98 L500.64,214.00 L502.83,221.08 L505.02,226.33 L507.22,231.79 L509.41,235.21 L511.60,234.12 L513.79,233.02 L515.98,230.86 L518.17,226.07 L520.37,220.16 L522.56,213.30 L524.75,209.60 L526.94,208.46 L529.13,202.98 L531.33,195.56 L533.52,196.07 L535.71,200.60 L537.90,202.98 L540.09,201.85 L542.28,197.79 L544.48,194.30 L546.67,196.37 L548.86,199.39 L551.05,201.25 L553.24,205.51 L555.43,212.13 L557.62,221.10 L559.82,228.22 L562.01,229.91 L564.20,227.43 L566.39,223.68 L568.58,219.90 L570.77,217.22 L572.97,214.00 L575.16,208.53 L577.35,203.18 L579.54,198.10 L581.73,194.56 L583.92,192.99 L586.12,191.09 L588.31,190.11 L590.50,189.31" fill="none" stroke="#ff7d7d" stroke-width="0.6" stroke-opacity="0.9"/><path d="M461.19,215.25 L463.38,213.17 L465.57,209.48 L467.77,204.89 L469.96,199.80 L472.15,196.87 L474.34,194.21 L476.53,191.51 L478.73,192.12 L480.92,194.68 L483.11,196.43 L485.30,198.57 L487.49,200.68 L489.68,205.01 L491.88,209.30 L494.07,213.34 L496.26,217.06 L498.45,217.74 L500.64,214.54 L502.83,211.65 L505.02,210.96 L507.22,208.42 L509.41,204.10 L511.60,203.87 L513.79,204.63 L515.98,204.37 L518.17,206.32 L520.37,207.98 L522.56,209.70 L524.75,216.11 L526.94,221.83 L529.13,224.39 L531.33,226.95 L533.52,228.28 L535.71,229.19 L537.90,228.70 L540.09,227.65 L542.28,227.21 L544.48,226.71 L546.67,225.32 L548.86,222.84 L551.05,219.97 L553.24,220.40 L555.43,223.82 L557.62,224.56 L559.82,223.13 L562.01,219.72 L564.20,215.65 L566.39,212.14 L568.58,205.45 L570.77,196.10 L572.97,189.57 L575.16,185.97 L577.35,183.82 L579.54,184.52 L581.73,186.26 L583.92,188.11 L586.12,191.52 L588.31,193.98 L590.50,195.09" fill="none" stroke="#ff7d7d" stroke-width="0.6" stroke-opacity="0.9"/><path d="M461.19,214.80 L463.38,211.75 L465.57,208.07 L467.77,206.03 L469.96,205.23 L472.15,204.87 L474.34,205.06 L476.53,206.73 L478.73,207.37 L480.92,208.28 L483.11,207.05 L485.30,203.74 L487.49,199.16 L489.68,197.64 L491.88,198.76 L494.07,199.85 L496.26,198.99 L498.45,198.12 L500.64,199.49 L502.83,202.55 L505.02,206.63 L507.22,212.11 L509.41,216.59 L511.60,221.25 L513.79,226.07 L515.98,228.04 L518.17,228.70 L520.37,230.79 L522.56,231.00 L524.75,225.52 L526.94,216.70 L529.13,209.47 L531.33,204.83 L533.52,203.97 L535.71,204.53 L537.90,203.35 L540.09,202.24 L542.28,203.61 L544.48,202.55 L546.67,195.19 L548.86,187.62 L551.05,181.29 L553.24,177.38 L555.43,177.99 L557.62,183.19 L559.82,189.22 L562.01,195.12 L564.20,202.74 L566.39,211.31 L568.58,220.01 L570.77,225.60 L572.97,226.94 L575.16,224.58 L577.35,221.30 L579.54,216.83 L581.73,211.97 L583.92,211.61 L586.12,213.02 L588.31,211.99 L590.50,211.12" fill="none" stroke="#ff7d7d" stroke-width="0.6" stroke-opacity="0.9"/><path d="M461.19,216.18 L463.38,214.53 L465.57,212.13 L467.77,209.13 L469.96,204.82 L472.15,200.14 L474.34,195.36 L476.53,191.57 L478.73,191.75 L480.92,195.12 L483.11,196.30 L485.30,198.72 L487.49,203.23 L489.68,209.95 L491.88,217.10 L494.07,222.61 L496.26,222.54 L498.45,221.58 L500.64,224.37 L502.83,229.71 L505.02,234.91 L507.22,236.92 L509.41,237.89 L511.60,239.77 L513.79,238.53 L515.98,236.73 L518.17,235.72 L520.37,233.82 L522.56,230.84 L524.75,228.05 L526.94,223.99 L529.13,223.62 L531.33,226.59 L533.52,226.77 L535.71,224.67 L537.90,221.73 L540.09,218.03 L542.28,214.42 L544.48,211.43 L546.67,206.95 L548.86,201.63 L551.05,199.60 L553.24,200.67 L555.43,201.46 L557.62,200.35 L559.82,202.32 L562.01,207.81 L564.20,214.49 L566.39,222.43 L568.58,227.25 L570.77,229.51 L572.97,232.12 L575.16,234.36 L577.35,235.87 L579.54,231.56 L581.73,226.39 L583.92,222.42 L586.12,215.30 L588.31,207.36 L590.50,201.66" fill="none" stroke="#ff7d7d" stroke-width="0.6" stroke-opacity="0.9"/><path d="M461.19,213.90 L463.38,211.27 L465.57,208.66 L467.77,207.52 L469.96,207.60 L472.15,208.36 L474.34,207.81 L476.53,206.65 L478.73,205.56 L480.92,204.13 L483.11,199.39 L485.30,195.48 L487.49,193.02 L489.68,190.43 L491.88,190.26 L494.07,192.52 L496.26,192.77 L498.45,190.82 L500.64,189.77 L502.83,190.88 L505.02,191.82 L507.22,189.60 L509.41,190.21 L511.60,194.41 L513.79,197.21 L515.98,201.53 L518.17,206.14 L520.37,209.69 L522.56,214.37 L524.75,215.95 L526.94,212.86 L529.13,209.08 L531.33,207.41 L533.52,208.26 L535.71,207.19 L537.90,204.84 L540.09,203.01 L542.28,199.81 L544.48,198.38 L546.67,199.24 L548.86,199.58 L551.05,200.44 L553.24,201.71 L555.43,204.10 L557.62,207.06 L559.82,206.39 L562.01,204.57 L564.20,204.43 L566.39,203.91 L568.58,202.92 L570.77,202.15 L572.97,201.53 L575.16,200.31 L577.35,200.39 L579.54,200.36 L581.73,202.05 L583.92,207.33 L586.12,211.10 L588.31,210.03 L590.50,210.85" fill="none" stroke="#ff7d7d" stroke-width="0.6" stroke-opacity="0.9"/><path d="M461.19,213.33 L463.38,210.21 L465.57,207.14 L467.77,205.55 L469.96,203.74 L472.15,201.61 L474.34,201.00 L476.53,200.64 L478.73,198.29 L480.92,198.71 L483.11,196.56 L485.30,188.73 L487.49,181.71 L489.68,176.53 L491.88,171.74 L494.07,169.40 L496.26,165.26 L498.45,162.86 L500.64,163.72 L502.83,166.23 L505.02,172.69 L507.22,178.93 L509.41,187.06 L511.60,196.30 L513.79,201.68 L515.98,205.99 L518.17,211.51 L520.37,216.39 L522.56,216.39 L524.75,213.90 L526.94,209.82 L529.13,208.66 L531.33,209.54 L533.52,205.76 L535.71,200.88 L537.90,200.26 L540.09,203.54 L542.28,205.38 L544.48,206.64 L546.67,209.14 L548.86,210.29 L551.05,211.35 L553.24,212.51 L555.43,213.44 L557.62,213.42 L559.82,212.94 L562.01,213.00 L564.20,211.06 L566.39,210.39 L568.58,210.71 L570.77,209.19 L572.97,208.10 L575.16,207.83 L577.35,208.21 L579.54,211.48 L581.73,215.67 L583.92,218.28 L586.12,220.67 L588.31,225.01 L590.50,229.46" fill="none" stroke="#ff7d7d" stroke-width="0.6" stroke-opacity="0.9"/><path d="M461.19,218.85 L463.38,218.03 L465.57,215.60 L467.77,214.51 L469.96,214.87 L472.15,217.61 L474.34,221.99 L476.53,224.61 L478.73,223.76 L480.92,224.16 L483.11,219.44 L485.30,210.79 L487.49,202.71 L489.68,197.98 L491.88,195.50 L494.07,194.20 L496.26,190.96 L498.45,187.32 L500.64,185.57 L502.83,183.13 L505.02,179.00 L507.22,177.23 L509.41,179.64 L511.60,182.47 L513.79,182.97 L515.98,183.37 L518.17,187.13 L520.37,190.41 L522.56,189.31 L524.75,189.43 L526.94,190.27 L529.13,188.78 L531.33,187.74 L533.52,187.34 L535.71,185.69 L537.90,185.55 L540.09,186.79 L542.28,188.45 L544.48,189.46 L546.67,190.97 L548.86,192.63 L551.05,192.57 L553.24,191.10 L555.43,189.92 L557.62,187.95 L559.82,187.40 L562.01,187.10 L564.20,184.74 L566.39,182.01 L568.58,177.91 L570.77,174.96 L572.97,173.86 L575.16,173.51 L577.35,173.70 L579.54,176.83 L581.73,182.98 L583.92,187.30 L586.12,191.57 L588.31,196.39 L590.50,199.77" fill="none" stroke="#ff7d7d" stroke-width="0.6" stroke-opacity="0.9"/><path d="M461.19,215.72 L463.38,213.21 L465.57,210.27 L467.77,208.19 L469.96,206.84 L472.15,205.71 L474.34,204.92 L476.53,201.13 L478.73,197.49 L480.92,196.33 L483.11,194.70 L485.30,192.83 L487.49,189.99 L489.68,185.89 L491.88,181.44 L494.07,177.54 L496.26,174.50 L498.45,171.69 L500.64,168.61 L502.83,163.94 L505.02,159.99 L507.22,162.41 L509.41,169.89 L511.60,176.45 L513.79,183.15 L515.98,189.01 L518.17,193.87 L520.37,198.16 L522.56,204.22 L524.75,207.37 L526.94,209.01 L529.13,209.44 L531.33,208.43 L533.52,206.82 L535.71,206.88 L537.90,208.26 L540.09,208.42 L542.28,208.95 L544.48,209.90 L546.67,209.77 L548.86,209.14 L551.05,209.52 L553.24,210.51 L555.43,210.51 L557.62,209.97 L559.82,207.23 L562.01,204.16 L564.20,203.66 L566.39,202.72 L568.58,201.67 L570.77,201.50 L572.97,201.13 L575.16,200.43 L577.35,201.16 L579.54,202.70 L581.73,203.10 L583.92,204.14 L586.12,205.69 L588.31,206.11 L590.50,206.17" fill="none" stroke="#7d7dff" stroke-width="0.6" stroke-opacity="0.9"/><path d="M461.19,217.46 L463.38,215.55 L465.57,212.06 L467.77,208.77 L469.96,206.16 L472.15,204.10 L474.34,201.57 L476.53,198.13 L478.73,196.16 L480.92,195.16 L483.11,193.75 L485.30,192.14 L487.49,190.76 L489.68,189.74 L491.88,190.95 L494.07,193.25 L496.26,193.35 L498.45,191.85 L500.64,189.97 L502.83,189.22 L505.02,190.04 L507.22,197.86 L509.41,208.55 L511.60,212.17 L513.79,216.32 L515.98,220.87 L518.17,226.43 L520.37,232.82 L522.56,238.71 L524.75,244.69 L526.94,247.58 L529.13,242.94 L531.33,236.16 L533.52,230.75 L535.71,225.47 L537.90,220.87 L540.09,216.98 L542.28,213.54 L544.48,212.06 L546.67,213.77 L548.86,211.45 L551.05,208.76 L553.24,206.63 L555.43,205.17 L557.62,205.02 L559.82,206.20 L562.01,208.41 L564.20,209.29 L566.39,209.29 L568.58,208.57 L570.77,208.09 L572.97,207.05 L575.16,205.30 L577.35,203.47 L579.54,202.46 L581.73,201.71 L583.92,202.18 L586.12,203.88 L588.31,204.74 L590.50,206.09" fill="none" stroke="#7d7dff" stroke-width="0.6" stroke-opacity="0.9"/><path d="M461.19,212.99 L463.38,210.35 L465.57,207.26 L467.77,203.92 L469.96,200.53 L472.15,197.21 L474.34,194.07 L476.53,190.87 L478.73,187.19 L480.92,183.92 L483.11,181.74 L485.30,178.94 L487.49,186.06 L489.68,193.26 L491.88,202.81 L494.07,210.56 L496.26,214.51 L498.45,218.28 L500.64,221.43 L502.83,223.44 L505.02,224.93 L507.22,227.48 L509.41,231.06 L511.60,234.82 L513.79,233.19 L515.98,229.61 L518.17,224.60 L520.37,219.78 L522.56,216.88 L524.75,212.35 L526.94,211.71 L529.13,211.66 L531.33,213.94 L533.52,216.08 L535.71,217.38 L537.90,218.04 L540.09,215.81 L542.28,213.44 L544.48,213.32 L546.67,215.89 L548.86,218.65 L551.05,220.67 L553.24,221.89 L555.43,222.73 L557.62,223.42 L559.82,223.97 L562.01,224.99 L564.20,227.03 L566.39,229.53 L568.58,220.54 L570.77,216.15 L572.97,212.90 L575.16,209.86 L577.35,206.98 L579.54,204.29 L581.73,201.75 L583.92,198.59 L586.12,196.82 L588.31,196.01 L590.50,197.93" fill="none" stroke="#111" stroke-width="1.2"/></g>
<g fill="#000"><circle cx="461.19" cy="212.99" r="2.2"/><circle cx="463.38" cy="210.35" r="2.2"/><circle cx="465.57" cy="207.26" r="2.2"/><circle cx="467.77" cy="203.92" r="2.2"/><circle cx="469.96" cy="200.53" r="2.2"/><circle cx="472.15" cy="197.21" r="2.2"/><circle cx="474.34" cy="194.07" r="2.2"/><circle cx="476.53" cy="190.87" r="2.2"/><circle cx="478.73" cy="187.19" r="2.2"/><circle cx="480.92" cy="183.92" r="2.2"/><circle cx="483.11" cy="181.74" r="2.2"/><circle cx="485.30" cy="178.94" r="2.2"/><circle cx="487.49" cy="186.06" r="2.2"/><circle cx="489.68" cy="193.26" r="2.2"/><circle cx="491.88" cy="202.81" r="2.2"/><circle cx="494.07" cy="210.56" r="2.2"/><circle cx="496.26" cy="214.51" r="2.2"/><circle cx="498.45" cy="218.28" r="2.2"/><circle cx="500.64" cy="221.43" r="2.2"/><circle cx="502.83" cy="223.44" r="2.2"/><circle cx="505.02" cy="224.93" r="2.2"/><circle cx="507.22" cy="227.48" r="2.2"/><circle cx="509.41" cy="231.06" r="2.2"/><circle cx="511.60" cy="234.82" r="2.2"/><circle cx="513.79" cy="233.19" r="2.2"/><circle cx="515.98" cy="229.61" r="2.2"/><circle cx="518.17" cy="224.60" r="2.2"/><circle cx="520.37" cy="219.78" r="2.2"/><circle cx="522.56" cy="216.88" r="2.2"/><circle cx="524.75" cy="212.35" r="2.2"/><circle cx="526.94" cy="211.71" r="2.2"/><circle cx="529.13" cy="211.66" r="2.2"/><circle cx="531.33" cy="213.94" r="2.2"/><circle cx="533.52" cy="216.08" r="2.2"/><circle cx="535.71" cy="217.38" r="2.2"/><circle cx="537.90" cy="218.04" r="2.2"/><circle cx="540.09" cy="215.81" r="2.2"/><circle cx="542.28" cy="213.44" r="2.2"/><circle cx="544.48" cy="213.32" r="2.2"/><circle cx="546.67" cy="215.89" r="2.2"/><circle cx="548.86" cy="218.65" r="2.2"/><circle cx="551.05" cy="220.67" r="2.2"/><circle cx="553.24" cy="221.89" r="2.2"/><circle cx="555.43" cy="222.73" r="2.2"/><circle cx="557.62" cy="223.42" r="2.2"/><circle cx="559.82" cy="223.97" r="2.2"/><circle cx="562.01" cy="224.99" r="2.2"/><circle cx="564.20" cy="227.03" r="2.2"/><circle cx="566.39" cy="229.53" r="2.2"/><circle cx="568.58" cy="220.54" r="2.2"/><circle cx="570.77" cy="216.15" r="2.2"/><circle cx="572.97" cy="212.90" r="2.2"/><circle cx="575.16" cy="209.86" r="2.2"/><circle cx="577.35" cy="206.98" r="2.2"/><circle cx="579.54" cy="204.29" r="2.2"/><circle cx="581.73" cy="201.75" r="2.2"/><circle cx="583.92" cy="198.59" r="2.2"/><circle cx="586.12" cy="196.82" r="2.2"/><circle cx="588.31" cy="196.01" r="2.2"/><circle cx="590.50" cy="197.93" r="2.2"/></g>
<g clip-path="url(#cph)"><path d="M461.19,216.29 L462.29,215.29 L463.38,213.80 L464.48,212.06 L465.57,210.30 L466.67,208.76 L467.77,207.41 L468.86,206.09 L469.96,204.81 L471.05,203.59 L472.15,202.44 L473.25,201.36 L474.34,200.27 L475.44,199.23 L476.53,198.30 L477.63,197.52 L478.73,196.96 L479.82,196.50 L480.92,196.10 L482.01,195.76 L483.11,195.46 L484.20,195.20 L485.30,194.94 L486.40,194.69 L487.49,194.47 L488.59,194.31 L489.68,194.23 L490.78,194.27 L491.88,194.41 L492.97,194.62 L494.07,194.88 L495.16,195.15 L496.26,195.41 L497.35,195.71 L498.45,196.05 L499.55,196.42 L500.64,196.82 L501.74,197.25 L502.83,197.73 L503.93,198.27 L505.02,198.85 L506.12,199.46 L507.22,200.09 L508.31,200.78 L509.41,201.54 L510.50,202.33 L511.60,203.09 L512.70,203.79 L513.79,204.38 L514.89,204.88 L515.98,205.35 L517.08,205.85 L518.17,206.43 L519.27,207.21 L520.37,208.38 L521.46,209.11 L522.56,209.62 L523.65,210.06 L524.75,210.40 L525.85,210.62 L526.94,210.67 L528.04,210.49 L529.13,210.14 L530.23,209.71 L531.33,209.28 L532.42,208.94 L533.52,208.72 L534.61,208.54 L535.71,208.38 L536.80,208.23 L537.90,208.07 L539.00,207.88 L540.09,207.69 L541.19,207.49 L542.28,207.29 L543.38,207.09 L544.48,206.89 L545.57,206.66 L546.67,206.41 L547.76,206.18 L548.86,206.02 L549.95,205.96 L551.05,205.96 L552.15,205.96 L553.24,205.96 L554.34,205.96 L555.43,205.96 L556.53,205.92 L557.62,205.80 L558.72,205.61 L559.82,205.39 L560.91,205.18 L562.01,204.99 L563.10,204.75 L564.20,204.49 L565.30,204.25 L566.39,204.09 L567.49,204.04 L568.58,204.04 L569.68,204.04 L570.77,204.04 L571.87,204.04 L572.97,204.04 L574.06,204.09 L575.16,204.25 L576.25,204.49 L577.35,204.74 L578.45,204.98 L579.54,205.17 L580.64,205.34 L581.73,205.51 L582.83,205.68 L583.92,205.85 L585.02,206.03 L586.12,206.21 L587.21,206.40 L588.31,206.59 L589.40,206.78 L590.50,206.98" fill="none" stroke="#0000ff" stroke-width="2.6" stroke-linejoin="round"/><path d="M461.19,215.44 L462.29,214.50 L463.38,212.85 L464.48,210.91 L465.57,209.08 L466.67,207.50 L467.77,205.89 L468.86,204.30 L469.96,202.81 L471.05,201.49 L472.15,200.18 L473.25,198.95 L474.34,197.91 L475.44,197.16 L476.53,196.62 L477.63,196.22 L478.73,196.20 L479.82,196.68 L480.92,197.38 L482.01,197.98 L483.11,198.27 L484.20,198.46 L485.30,198.63 L486.40,198.87 L487.49,199.30 L488.59,200.30 L489.68,201.63 L490.78,202.90 L491.88,204.15 L492.97,205.47 L494.07,206.50 L495.16,206.98 L496.26,207.23 L497.35,207.41 L498.45,207.57 L499.55,207.74 L500.64,207.94 L501.74,208.14 L502.83,208.34 L503.93,208.54 L505.02,208.72 L506.12,208.92 L507.22,209.13 L508.31,209.35 L509.41,209.52 L510.50,209.63 L511.60,209.64 L512.70,209.49 L513.79,209.26 L514.89,209.01 L515.98,208.82 L517.08,208.77 L518.17,209.21 L519.27,209.94 L520.37,210.54 L521.46,210.66 L522.56,210.58 L523.65,210.43 L524.75,210.25 L525.85,210.05 L526.94,209.87 L528.04,209.66 L529.13,209.41 L530.23,209.17 L531.33,208.98 L532.42,208.89 L533.52,208.92 L534.61,209.03 L535.71,209.17 L536.80,209.31 L537.90,209.39 L539.00,209.32 L540.09,208.94 L541.19,208.36 L542.28,207.73 L543.38,207.19 L544.48,206.87 L545.57,206.65 L546.67,206.46 L547.76,206.29 L548.86,206.13 L549.95,205.96 L551.05,205.75 L552.15,205.53 L553.24,205.31 L554.34,205.15 L555.43,205.07 L556.53,205.06 L557.62,205.06 L558.72,205.06 L559.82,205.06 L560.91,205.06 L562.01,205.06 L563.10,205.06 L564.20,205.06 L565.30,205.06 L566.39,205.06 L567.49,205.06 L568.58,205.06 L569.68,205.06 L570.77,205.06 L571.87,205.06 L572.97,205.06 L574.06,205.10 L575.16,205.21 L576.25,205.39 L577.35,205.62 L578.45,205.86 L579.54,206.13 L580.64,206.52 L581.73,206.98 L582.83,207.44 L583.92,207.82 L585.02,208.09 L586.12,208.31 L587.21,208.51 L588.31,208.68 L589.40,208.81 L590.50,208.89" fill="none" stroke="#ff0000" stroke-width="2.6" stroke-linejoin="round"/></g>
<rect x="459.00" y="144.40" width="131.50" height="114.70" fill="none" stroke="#777" stroke-width="0.9"/>
<path d="M485.30,259.10v-1.3M485.30,144.40v1.3M511.60,259.10v-1.3M511.60,144.40v1.3M537.90,259.10v-1.3M537.90,144.40v1.3M564.20,259.10v-1.3M564.20,144.40v1.3M459.00,233.61h1.3M590.50,233.61h-1.3M459.00,208.12h1.3M590.50,208.12h-1.3M459.00,182.63h1.3M590.50,182.63h-1.3M459.00,157.14h1.3M590.50,157.14h-1.3" stroke="#777" stroke-width="0.8" fill="none"/>
<g font-family="Liberation Sans, sans-serif" font-size="7.6" fill="#1a1a1a" stroke="#1a1a1a" stroke-width="0.15"><text x="456.40" y="262.10" text-anchor="end">-4</text><text x="456.40" y="236.61" text-anchor="end">-2</text><text x="456.40" y="211.12" text-anchor="end">0</text><text x="456.40" y="185.63" text-anchor="end">2</text><text x="456.40" y="160.14" text-anchor="end">4</text><text x="459.00" y="268.70" text-anchor="middle">0</text><text x="485.30" y="268.70" text-anchor="middle">12</text><text x="511.60" y="268.70" text-anchor="middle">24</text><text x="537.90" y="268.70" text-anchor="middle">36</text><text x="564.20" y="268.70" text-anchor="middle">48</text><text x="590.50" y="268.70" text-anchor="middle">60</text><text x="524.75" y="277.90" text-anchor="middle">Lead time (in months)</text><text x="461.50" y="258.70">1972/01</text><text x="531.98" y="258.70" text-anchor="middle">1974/12</text><text x="589.30" y="258.70" text-anchor="end">1976/12</text></g>
<text x="446.80" y="144.10" font-family="Liberation Sans, sans-serif" font-size="7.6" font-weight="bold" fill="#1a1a1a" stroke="#1a1a1a" stroke-width="0.15">(h)</text>
<rect x="220.10" y="134.50" width="79.40" height="34.20" fill="#fff" stroke="#777" stroke-width="0.9"/><line x1="224.20" y1="140.80" x2="246.50" y2="140.80" stroke="#333" stroke-width="1.2"/><circle cx="235.35" cy="140.80" r="2.3" fill="#000"/><line x1="224.20" y1="151.20" x2="246.50" y2="151.20" stroke="#0000ff" stroke-width="1.7"/><line x1="224.20" y1="161.80" x2="246.50" y2="161.80" stroke="#ff0000" stroke-width="1.7"/><text x="249.80" y="143.50" font-family="Liberation Sans, sans-serif" font-size="7.6" fill="#1a1a1a" stroke="#1a1a1a" stroke-width="0.15">HadISST</text><text x="249.80" y="153.90" font-family="Liberation Sans, sans-serif" font-size="7.6" fill="#1a1a1a" stroke="#1a1a1a" stroke-width="0.15">HadCM3i2 (A)</text><text x="249.80" y="164.50" font-family="Liberation Sans, sans-serif" font-size="7.6" fill="#1a1a1a" stroke="#1a1a1a" stroke-width="0.15">CanCM4i1 (F)</text>
<rect x="511.60" y="134.50" width="79.20" height="34.20" fill="#fff" stroke="#777" stroke-width="0.9"/><line x1="515.70" y1="140.80" x2="538.00" y2="140.80" stroke="#333" stroke-width="1.2"/><circle cx="526.85" cy="140.80" r="2.3" fill="#000"/><line x1="515.70" y1="151.20" x2="538.00" y2="151.20" stroke="#0000ff" stroke-width="1.7"/><line x1="515.70" y1="161.80" x2="538.00" y2="161.80" stroke="#ff0000" stroke-width="1.7"/><text x="541.30" y="143.50" font-family="Liberation Sans, sans-serif" font-size="7.6" fill="#1a1a1a" stroke="#1a1a1a" stroke-width="0.15">HadISST</text><text x="541.30" y="153.90" font-family="Liberation Sans, sans-serif" font-size="7.6" fill="#1a1a1a" stroke="#1a1a1a" stroke-width="0.15">HadCM3i3 (F)</text><text x="541.30" y="164.50" font-family="Liberation Sans, sans-serif" font-size="7.6" fill="#1a1a1a" stroke="#1a1a1a" stroke-width="0.15">CanCM4i1 (F)</text>
</svg>
</body></html>
